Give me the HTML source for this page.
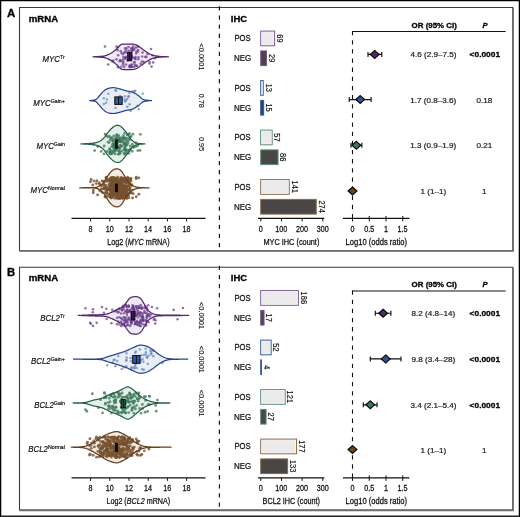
<!DOCTYPE html>
<html><head><meta charset="utf-8"><title>Figure</title>
<style>html,body{margin:0;padding:0;background:#fff;width:520px;height:517px;overflow:hidden}svg{display:block;will-change:transform}</style>
</head><body>
<svg width="520" height="517" viewBox="0 0 520 517" font-family='"Liberation Sans", sans-serif'><rect x="0.6" y="0.6" width="518.8" height="515.6" fill="none" stroke="#000" stroke-width="1.3"/>
<path d="M19.5 7.5 H512.8 V250.6 H19.5 Z" fill="none" stroke="#3a3a3a" stroke-width="1.1"/>
<path d="M513 8 V250.9 H19.5" fill="none" stroke="#6e6e6e" stroke-width="1.7"/>
<path d="M19.5 267.2 H512.8 V510 H19.5 Z" fill="none" stroke="#3a3a3a" stroke-width="1.1"/>
<path d="M513 267.7 V510.3 H19.5" fill="none" stroke="#6e6e6e" stroke-width="1.7"/>
<text transform="translate(7.11,16.5) scale(1.0641,1)" font-size="10.8" font-weight="bold" stroke="#000" stroke-width="0.3" fill="#000">A</text>
<text transform="translate(28.77,21.7) scale(1.0485,1)" font-size="9.2" font-weight="bold" stroke="#000" stroke-width="0.3" fill="#000">mRNA</text>
<text transform="translate(230.78,21.7) scale(1.0010,1)" font-size="9.5" font-weight="bold" stroke="#000" stroke-width="0.3" fill="#000">IHC</text>
<text transform="translate(411.58,27.8) scale(1.0438,1)" font-size="7.6" font-weight="bold" stroke="#000" stroke-width="0.3" fill="#000">OR (95% CI)</text>
<text transform="translate(482.38,27.8) scale(1.0000,1)" font-size="7.6" font-weight="bold" font-style="italic" stroke="#000" stroke-width="0.3" fill="#000">P</text>
<line x1="219.4" y1="6.3" x2="219.4" y2="250" stroke="#1a1a1a" stroke-width="1.2" stroke-dasharray="4.3 4.8"/>
<path d="M93 56.8 L93.5 56.77 L94 56.75 L94.5 56.72 L95 56.7 L95.5 56.68 L96 56.65 L96.5 56.63 L97 56.6 L97.5 56.58 L98 56.55 L98.5 56.51 L99 56.48 L99.5 56.44 L100 56.4 L100.5 56.36 L101 56.33 L101.5 56.3 L102 56.26 L102.5 56.22 L103 56.18 L103.5 56.11 L104 56.03 L104.5 55.93 L105 55.8 L105.5 55.65 L106 55.49 L106.5 55.32 L107 55.13 L107.5 54.93 L108 54.72 L108.5 54.5 L109 54.27 L109.5 54.02 L110 53.76 L110.5 53.49 L111 53.21 L111.5 52.91 L112 52.6 L112.53 52.25 L113.06 51.87 L113.59 51.47 L114.12 51.04 L114.65 50.61 L115.18 50.15 L115.71 49.69 L116.24 49.23 L116.77 48.76 L117.3 48.3 L117.83 47.8 L118.35 47.23 L118.88 46.63 L119.4 46.03 L119.92 45.48 L120.45 45 L120.97 44.62 L121.5 44.4 L122 44.28 L122.5 44.19 L123 44.12 L123.5 44.07 L124 44.04 L124.5 44.01 L125 44 L125.5 44 L126 44 L126.5 44 L127 44 L127.5 44 L128 44 L128.5 44 L129 44.01 L129.5 44.01 L130 44.02 L130.5 44.03 L131 44.04 L131.5 44.05 L132 44.06 L132.5 44.08 L133 44.1 L133.5 44.15 L134 44.24 L134.5 44.37 L135 44.53 L135.5 44.72 L136 44.93 L136.5 45.16 L137 45.4 L137.5 45.66 L138 45.95 L138.5 46.27 L139 46.6 L139.5 46.94 L140 47.3 L140.5 47.65 L141 48 L141.52 48.37 L142.04 48.75 L142.56 49.14 L143.08 49.54 L143.6 49.93 L144.12 50.33 L144.64 50.72 L145.16 51.1 L145.68 51.46 L146.2 51.8 L146.72 52.13 L147.24 52.45 L147.75 52.77 L148.27 53.09 L148.79 53.39 L149.31 53.68 L149.83 53.96 L150.35 54.22 L150.86 54.47 L151.38 54.7 L151.9 54.9 L152.43 55.09 L152.96 55.26 L153.49 55.41 L154.02 55.54 L154.55 55.66 L155.08 55.76 L155.62 55.86 L156.15 55.94 L156.68 56.02 L157.21 56.1 L157.74 56.17 L158.27 56.23 L158.8 56.3 L159.31 56.36 L159.82 56.41 L160.33 56.46 L160.84 56.5 L161.35 56.54 L161.86 56.57 L162.37 56.59 L162.88 56.61 L163.39 56.63 L163.91 56.65 L164.42 56.66 L164.93 56.68 L165.44 56.69 L165.95 56.71 L166.46 56.72 L166.97 56.74 L167.48 56.75 L167.99 56.78 L168.5 56.8 L168.5 56.8 L167.99 56.82 L167.48 56.85 L166.97 56.86 L166.46 56.88 L165.95 56.89 L165.44 56.91 L164.93 56.92 L164.42 56.94 L163.91 56.95 L163.39 56.97 L162.88 56.99 L162.37 57.01 L161.86 57.03 L161.35 57.06 L160.84 57.1 L160.33 57.14 L159.82 57.19 L159.31 57.24 L158.8 57.3 L158.27 57.37 L157.74 57.43 L157.21 57.5 L156.68 57.58 L156.15 57.66 L155.62 57.74 L155.08 57.84 L154.55 57.94 L154.02 58.06 L153.49 58.19 L152.96 58.34 L152.43 58.51 L151.9 58.7 L151.38 58.9 L150.86 59.13 L150.35 59.38 L149.83 59.64 L149.31 59.92 L148.79 60.21 L148.27 60.51 L147.75 60.83 L147.24 61.15 L146.72 61.47 L146.2 61.8 L145.68 62.14 L145.16 62.5 L144.64 62.88 L144.12 63.27 L143.6 63.67 L143.08 64.06 L142.56 64.46 L142.04 64.85 L141.52 65.23 L141 65.6 L140.5 65.95 L140 66.3 L139.5 66.66 L139 67 L138.5 67.33 L138 67.65 L137.5 67.94 L137 68.2 L136.5 68.44 L136 68.67 L135.5 68.88 L135 69.07 L134.5 69.23 L134 69.36 L133.5 69.45 L133 69.5 L132.5 69.52 L132 69.54 L131.5 69.55 L131 69.56 L130.5 69.57 L130 69.58 L129.5 69.59 L129 69.59 L128.5 69.6 L128 69.6 L127.5 69.6 L127 69.6 L126.5 69.6 L126 69.6 L125.5 69.6 L125 69.6 L124.5 69.59 L124 69.56 L123.5 69.53 L123 69.48 L122.5 69.41 L122 69.32 L121.5 69.2 L120.97 68.98 L120.45 68.6 L119.92 68.12 L119.4 67.57 L118.88 66.97 L118.35 66.37 L117.83 65.8 L117.3 65.3 L116.77 64.84 L116.24 64.37 L115.71 63.91 L115.18 63.45 L114.65 62.99 L114.12 62.56 L113.59 62.13 L113.06 61.73 L112.53 61.35 L112 61 L111.5 60.69 L111 60.39 L110.5 60.11 L110 59.84 L109.5 59.58 L109 59.33 L108.5 59.1 L108 58.88 L107.5 58.67 L107 58.47 L106.5 58.28 L106 58.11 L105.5 57.95 L105 57.8 L104.5 57.67 L104 57.57 L103.5 57.49 L103 57.42 L102.5 57.38 L102 57.34 L101.5 57.3 L101 57.27 L100.5 57.24 L100 57.2 L99.5 57.16 L99 57.12 L98.5 57.09 L98 57.05 L97.5 57.02 L97 57 L96.5 56.97 L96 56.95 L95.5 56.92 L95 56.9 L94.5 56.88 L94 56.85 L93.5 56.83 L93 56.8 Z" fill="#efe9f3" stroke="none"/>
<g fill="#693a8c" fill-opacity="0.72"><circle cx="153.15" cy="62.39" r="1.3"/><circle cx="120.08" cy="60.01" r="1.3"/><circle cx="131.31" cy="48.19" r="1.3"/><circle cx="152.47" cy="55.37" r="1.3"/><circle cx="141.86" cy="61.5" r="1.3"/><circle cx="131.14" cy="66.24" r="1.3"/><circle cx="133.23" cy="57.68" r="1.3"/><circle cx="131.43" cy="54.28" r="1.3"/><circle cx="128.86" cy="50.9" r="1.3"/><circle cx="132.14" cy="56.71" r="1.3"/><circle cx="131.84" cy="55.94" r="1.3"/><circle cx="137.98" cy="46.66" r="1.3"/><circle cx="117.55" cy="50.14" r="1.3"/><circle cx="126.02" cy="64.43" r="1.3"/><circle cx="123.3" cy="61.5" r="1.3"/><circle cx="140.65" cy="63.8" r="1.3"/><circle cx="126.93" cy="52.63" r="1.3"/><circle cx="145.31" cy="56.91" r="1.3"/><circle cx="117.98" cy="46.93" r="1.3"/><circle cx="134.04" cy="49.87" r="1.3"/><circle cx="121.11" cy="61.1" r="1.3"/><circle cx="123.41" cy="56.98" r="1.3"/><circle cx="138.62" cy="57.24" r="1.3"/><circle cx="128.55" cy="47.12" r="1.3"/><circle cx="131.16" cy="67.04" r="1.3"/><circle cx="126.2" cy="56.85" r="1.3"/><circle cx="134.79" cy="62.54" r="1.3"/><circle cx="135.64" cy="57.09" r="1.3"/><circle cx="125.41" cy="58.45" r="1.3"/><circle cx="129.48" cy="66.49" r="1.3"/><circle cx="149.45" cy="63.59" r="1.3"/><circle cx="143.51" cy="61.9" r="1.3"/><circle cx="118.25" cy="55.23" r="1.3"/><circle cx="154.46" cy="58.28" r="1.3"/><circle cx="129.5" cy="56.9" r="1.3"/><circle cx="125.27" cy="57.62" r="1.3"/><circle cx="138.22" cy="59.18" r="1.3"/><circle cx="138.11" cy="49.96" r="1.3"/><circle cx="132.26" cy="64.45" r="1.3"/><circle cx="136.37" cy="51.61" r="1.3"/><circle cx="113.39" cy="60.47" r="1.3"/><circle cx="104.97" cy="46.51" r="1.3"/><circle cx="131.01" cy="59.45" r="1.3"/><circle cx="135.82" cy="47.67" r="1.3"/><circle cx="125.02" cy="51.99" r="1.3"/><circle cx="129.96" cy="55.84" r="1.3"/><circle cx="128.84" cy="54.4" r="1.3"/><circle cx="131.36" cy="50.19" r="1.3"/><circle cx="156.19" cy="57.01" r="1.3"/><circle cx="116.48" cy="46.64" r="1.3"/><circle cx="112.49" cy="61.44" r="1.3"/><circle cx="119.64" cy="61.14" r="1.3"/><circle cx="124.22" cy="66.88" r="1.3"/><circle cx="129.04" cy="57.15" r="1.3"/><circle cx="125.03" cy="58.41" r="1.3"/><circle cx="122.95" cy="59.58" r="1.3"/><circle cx="121.32" cy="66.72" r="1.3"/><circle cx="124.14" cy="52.78" r="1.3"/><circle cx="149.55" cy="61.97" r="1.3"/><circle cx="130.98" cy="64.83" r="1.3"/><circle cx="151.53" cy="66.6" r="1.3"/><circle cx="132.3" cy="49.84" r="1.3"/><circle cx="146.39" cy="56.99" r="1.3"/><circle cx="128.44" cy="53.55" r="1.3"/><circle cx="126.11" cy="50.32" r="1.3"/><circle cx="142.63" cy="52.48" r="1.3"/><circle cx="121.54" cy="53.1" r="1.3"/><circle cx="132.54" cy="50.46" r="1.3"/><circle cx="129.87" cy="67.13" r="1.3"/><circle cx="127.32" cy="60.5" r="1.3"/><circle cx="136.87" cy="65.96" r="1.3"/><circle cx="142.27" cy="56.47" r="1.3"/><circle cx="120.73" cy="51.17" r="1.3"/><circle cx="136.26" cy="65.51" r="1.3"/><circle cx="134.09" cy="62.29" r="1.3"/><circle cx="136.19" cy="53.41" r="1.3"/><circle cx="122.95" cy="64.59" r="1.3"/><circle cx="151.04" cy="49.07" r="1.3"/><circle cx="125.08" cy="48.41" r="1.3"/><circle cx="108.25" cy="64.56" r="1.3"/><circle cx="135.32" cy="59.24" r="1.3"/><circle cx="122.96" cy="54.21" r="1.3"/><circle cx="131.68" cy="51.85" r="1.3"/><circle cx="135.07" cy="58.17" r="1.3"/><circle cx="123.22" cy="62.88" r="1.3"/><circle cx="133.11" cy="46.46" r="1.3"/><circle cx="135.15" cy="64.96" r="1.3"/><circle cx="117.9" cy="67.15" r="1.3"/><circle cx="133.69" cy="48.65" r="1.3"/><circle cx="131.89" cy="48.38" r="1.3"/><circle cx="147.48" cy="54.22" r="1.3"/><circle cx="138.02" cy="51.57" r="1.3"/><circle cx="126.49" cy="48.32" r="1.3"/><circle cx="132.41" cy="67.03" r="1.3"/><circle cx="131.36" cy="58.85" r="1.3"/><circle cx="129.6" cy="65.56" r="1.3"/><circle cx="134.33" cy="66.76" r="1.3"/><circle cx="116.48" cy="59.3" r="1.3"/></g>
<path d="M93 56.8 L93.5 56.77 L94 56.75 L94.5 56.72 L95 56.7 L95.5 56.68 L96 56.65 L96.5 56.63 L97 56.6 L97.5 56.58 L98 56.55 L98.5 56.51 L99 56.48 L99.5 56.44 L100 56.4 L100.5 56.36 L101 56.33 L101.5 56.3 L102 56.26 L102.5 56.22 L103 56.18 L103.5 56.11 L104 56.03 L104.5 55.93 L105 55.8 L105.5 55.65 L106 55.49 L106.5 55.32 L107 55.13 L107.5 54.93 L108 54.72 L108.5 54.5 L109 54.27 L109.5 54.02 L110 53.76 L110.5 53.49 L111 53.21 L111.5 52.91 L112 52.6 L112.53 52.25 L113.06 51.87 L113.59 51.47 L114.12 51.04 L114.65 50.61 L115.18 50.15 L115.71 49.69 L116.24 49.23 L116.77 48.76 L117.3 48.3 L117.83 47.8 L118.35 47.23 L118.88 46.63 L119.4 46.03 L119.92 45.48 L120.45 45 L120.97 44.62 L121.5 44.4 L122 44.28 L122.5 44.19 L123 44.12 L123.5 44.07 L124 44.04 L124.5 44.01 L125 44 L125.5 44 L126 44 L126.5 44 L127 44 L127.5 44 L128 44 L128.5 44 L129 44.01 L129.5 44.01 L130 44.02 L130.5 44.03 L131 44.04 L131.5 44.05 L132 44.06 L132.5 44.08 L133 44.1 L133.5 44.15 L134 44.24 L134.5 44.37 L135 44.53 L135.5 44.72 L136 44.93 L136.5 45.16 L137 45.4 L137.5 45.66 L138 45.95 L138.5 46.27 L139 46.6 L139.5 46.94 L140 47.3 L140.5 47.65 L141 48 L141.52 48.37 L142.04 48.75 L142.56 49.14 L143.08 49.54 L143.6 49.93 L144.12 50.33 L144.64 50.72 L145.16 51.1 L145.68 51.46 L146.2 51.8 L146.72 52.13 L147.24 52.45 L147.75 52.77 L148.27 53.09 L148.79 53.39 L149.31 53.68 L149.83 53.96 L150.35 54.22 L150.86 54.47 L151.38 54.7 L151.9 54.9 L152.43 55.09 L152.96 55.26 L153.49 55.41 L154.02 55.54 L154.55 55.66 L155.08 55.76 L155.62 55.86 L156.15 55.94 L156.68 56.02 L157.21 56.1 L157.74 56.17 L158.27 56.23 L158.8 56.3 L159.31 56.36 L159.82 56.41 L160.33 56.46 L160.84 56.5 L161.35 56.54 L161.86 56.57 L162.37 56.59 L162.88 56.61 L163.39 56.63 L163.91 56.65 L164.42 56.66 L164.93 56.68 L165.44 56.69 L165.95 56.71 L166.46 56.72 L166.97 56.74 L167.48 56.75 L167.99 56.78 L168.5 56.8 L168.5 56.8 L167.99 56.82 L167.48 56.85 L166.97 56.86 L166.46 56.88 L165.95 56.89 L165.44 56.91 L164.93 56.92 L164.42 56.94 L163.91 56.95 L163.39 56.97 L162.88 56.99 L162.37 57.01 L161.86 57.03 L161.35 57.06 L160.84 57.1 L160.33 57.14 L159.82 57.19 L159.31 57.24 L158.8 57.3 L158.27 57.37 L157.74 57.43 L157.21 57.5 L156.68 57.58 L156.15 57.66 L155.62 57.74 L155.08 57.84 L154.55 57.94 L154.02 58.06 L153.49 58.19 L152.96 58.34 L152.43 58.51 L151.9 58.7 L151.38 58.9 L150.86 59.13 L150.35 59.38 L149.83 59.64 L149.31 59.92 L148.79 60.21 L148.27 60.51 L147.75 60.83 L147.24 61.15 L146.72 61.47 L146.2 61.8 L145.68 62.14 L145.16 62.5 L144.64 62.88 L144.12 63.27 L143.6 63.67 L143.08 64.06 L142.56 64.46 L142.04 64.85 L141.52 65.23 L141 65.6 L140.5 65.95 L140 66.3 L139.5 66.66 L139 67 L138.5 67.33 L138 67.65 L137.5 67.94 L137 68.2 L136.5 68.44 L136 68.67 L135.5 68.88 L135 69.07 L134.5 69.23 L134 69.36 L133.5 69.45 L133 69.5 L132.5 69.52 L132 69.54 L131.5 69.55 L131 69.56 L130.5 69.57 L130 69.58 L129.5 69.59 L129 69.59 L128.5 69.6 L128 69.6 L127.5 69.6 L127 69.6 L126.5 69.6 L126 69.6 L125.5 69.6 L125 69.6 L124.5 69.59 L124 69.56 L123.5 69.53 L123 69.48 L122.5 69.41 L122 69.32 L121.5 69.2 L120.97 68.98 L120.45 68.6 L119.92 68.12 L119.4 67.57 L118.88 66.97 L118.35 66.37 L117.83 65.8 L117.3 65.3 L116.77 64.84 L116.24 64.37 L115.71 63.91 L115.18 63.45 L114.65 62.99 L114.12 62.56 L113.59 62.13 L113.06 61.73 L112.53 61.35 L112 61 L111.5 60.69 L111 60.39 L110.5 60.11 L110 59.84 L109.5 59.58 L109 59.33 L108.5 59.1 L108 58.88 L107.5 58.67 L107 58.47 L106.5 58.28 L106 58.11 L105.5 57.95 L105 57.8 L104.5 57.67 L104 57.57 L103.5 57.49 L103 57.42 L102.5 57.38 L102 57.34 L101.5 57.3 L101 57.27 L100.5 57.24 L100 57.2 L99.5 57.16 L99 57.12 L98.5 57.09 L98 57.05 L97.5 57.02 L97 57 L96.5 56.97 L96 56.95 L95.5 56.92 L95 56.9 L94.5 56.88 L94 56.85 L93.5 56.83 L93 56.8 Z" fill="none" stroke="#55276f" stroke-width="1.25" stroke-linejoin="round"/>
<rect x="127.7" y="52.5" width="4" height="8.3" fill="#4a2463" stroke="#0d0d0d" stroke-width="1"/>
<line x1="129.7" y1="52.5" x2="129.7" y2="60.8" stroke="#0d0d0d" stroke-width="1"/>
<text transform="translate(42.51,61.9) scale(0.91,1)" font-size="8.6" fill="#111" stroke="#111" stroke-width="0.2"><tspan font-style="italic">MYC</tspan><tspan font-size="5.8" dy="-2.9">Tr</tspan></text>
<text transform="translate(198.8,43.43) rotate(90) scale(0.9548,1)" font-size="7.8" stroke="#111" stroke-width="0.12" fill="#111">&lt;0.0001</text>
<path d="M89.7 100.6 L90.28 100.52 L90.85 100.45 L91.42 100.37 L92 100.3 L92.51 100.25 L93.03 100.22 L93.54 100.18 L94.06 100.13 L94.57 100.05 L95.09 99.91 L95.6 99.7 L96.14 99.37 L96.69 98.92 L97.23 98.38 L97.77 97.78 L98.31 97.15 L98.86 96.51 L99.4 95.9 L99.93 95.28 L100.47 94.62 L101 93.95 L101.53 93.28 L102.07 92.66 L102.6 92.1 L103.15 91.59 L103.7 91.1 L104.25 90.65 L104.8 90.22 L105.35 89.84 L105.9 89.49 L106.45 89.17 L107 88.9 L107.53 88.67 L108.07 88.47 L108.6 88.3 L109.13 88.16 L109.67 88.03 L110.2 87.93 L110.73 87.85 L111.27 87.79 L111.8 87.75 L112.33 87.72 L112.87 87.7 L113.4 87.7 L113.93 87.71 L114.45 87.75 L114.98 87.82 L115.5 87.9 L116.03 88 L116.55 88.11 L117.08 88.23 L117.6 88.36 L118.12 88.5 L118.65 88.63 L119.17 88.77 L119.7 88.9 L120.23 89.04 L120.77 89.18 L121.3 89.34 L121.83 89.5 L122.37 89.67 L122.9 89.84 L123.43 90.01 L123.97 90.18 L124.5 90.35 L125.03 90.51 L125.57 90.66 L126.1 90.8 L126.62 90.92 L127.15 91.02 L127.67 91.11 L128.2 91.19 L128.72 91.26 L129.25 91.33 L129.78 91.41 L130.3 91.51 L130.82 91.62 L131.35 91.75 L131.88 91.91 L132.4 92.1 L132.93 92.32 L133.47 92.57 L134 92.84 L134.53 93.12 L135.07 93.43 L135.6 93.75 L136.13 94.08 L136.67 94.42 L137.2 94.78 L137.73 95.15 L138.27 95.52 L138.8 95.9 L139.34 96.33 L139.89 96.81 L140.43 97.33 L140.97 97.84 L141.51 98.32 L142.06 98.75 L142.6 99.1 L143.1 99.35 L143.6 99.55 L144.1 99.71 L144.6 99.84 L145.1 99.94 L145.6 100.02 L146.1 100.1 L146.6 100.16 L147.1 100.23 L147.6 100.3 L148.1 100.37 L148.6 100.42 L149.1 100.46 L149.6 100.49 L150.1 100.52 L150.6 100.54 L151.1 100.57 L151.6 100.6 L151.6 100.6 L151.1 100.63 L150.6 100.66 L150.1 100.68 L149.6 100.71 L149.1 100.74 L148.6 100.78 L148.1 100.83 L147.6 100.9 L147.1 100.97 L146.6 101.04 L146.1 101.1 L145.6 101.18 L145.1 101.26 L144.6 101.36 L144.1 101.49 L143.6 101.65 L143.1 101.85 L142.6 102.1 L142.06 102.45 L141.51 102.88 L140.97 103.36 L140.43 103.87 L139.89 104.39 L139.34 104.87 L138.8 105.3 L138.27 105.68 L137.73 106.05 L137.2 106.42 L136.67 106.78 L136.13 107.12 L135.6 107.45 L135.07 107.77 L134.53 108.08 L134 108.36 L133.47 108.63 L132.93 108.88 L132.4 109.1 L131.88 109.29 L131.35 109.45 L130.82 109.58 L130.3 109.69 L129.78 109.79 L129.25 109.87 L128.72 109.94 L128.2 110.01 L127.67 110.09 L127.15 110.18 L126.62 110.28 L126.1 110.4 L125.57 110.54 L125.03 110.69 L124.5 110.85 L123.97 111.02 L123.43 111.19 L122.9 111.36 L122.37 111.53 L121.83 111.7 L121.3 111.86 L120.77 112.02 L120.23 112.16 L119.7 112.3 L119.17 112.43 L118.65 112.57 L118.12 112.7 L117.6 112.84 L117.08 112.97 L116.55 113.09 L116.03 113.2 L115.5 113.3 L114.98 113.38 L114.45 113.45 L113.93 113.49 L113.4 113.5 L112.87 113.5 L112.33 113.48 L111.8 113.45 L111.27 113.41 L110.73 113.35 L110.2 113.27 L109.67 113.17 L109.13 113.04 L108.6 112.9 L108.07 112.73 L107.53 112.53 L107 112.3 L106.45 112.03 L105.9 111.71 L105.35 111.36 L104.8 110.97 L104.25 110.55 L103.7 110.1 L103.15 109.61 L102.6 109.1 L102.07 108.54 L101.53 107.92 L101 107.25 L100.47 106.58 L99.93 105.92 L99.4 105.3 L98.86 104.69 L98.31 104.05 L97.77 103.42 L97.23 102.82 L96.69 102.28 L96.14 101.83 L95.6 101.5 L95.09 101.29 L94.57 101.15 L94.06 101.07 L93.54 101.02 L93.03 100.98 L92.51 100.95 L92 100.9 L91.42 100.83 L90.85 100.75 L90.28 100.68 L89.7 100.6 Z" fill="#e9eef6" stroke="none"/>
<g fill="#5a7fb8" fill-opacity="0.68"><circle cx="103.81" cy="104.03" r="1.25"/><circle cx="115.53" cy="101.48" r="1.25"/><circle cx="120.1" cy="95.95" r="1.25"/><circle cx="124.53" cy="99.5" r="1.25"/><circle cx="103.77" cy="98.28" r="1.25"/><circle cx="115.52" cy="107.96" r="1.25"/><circle cx="128.49" cy="96.42" r="1.25"/><circle cx="106.09" cy="102.63" r="1.25"/><circle cx="116.03" cy="90.43" r="1.25"/><circle cx="132.51" cy="91.5" r="1.25"/><circle cx="128.59" cy="96.17" r="1.25"/><circle cx="126.11" cy="100.46" r="1.25"/><circle cx="127.35" cy="106.85" r="1.25"/><circle cx="142.72" cy="93.67" r="1.25"/><circle cx="130.7" cy="110.88" r="1.25"/><circle cx="117.78" cy="100.9" r="1.25"/><circle cx="124.74" cy="96.22" r="1.25"/><circle cx="135.21" cy="90.67" r="1.25"/><circle cx="138.78" cy="109.15" r="1.25"/><circle cx="137.6" cy="105.82" r="1.25"/><circle cx="108.39" cy="93.78" r="1.25"/><circle cx="129.53" cy="104.16" r="1.25"/><circle cx="134.59" cy="91.37" r="1.25"/><circle cx="124.97" cy="101.48" r="1.25"/><circle cx="107.03" cy="99.61" r="1.25"/><circle cx="115.51" cy="90.52" r="1.25"/><circle cx="127.21" cy="98.83" r="1.25"/><circle cx="129.52" cy="92.93" r="1.25"/></g>
<path d="M89.7 100.6 L90.28 100.52 L90.85 100.45 L91.42 100.37 L92 100.3 L92.51 100.25 L93.03 100.22 L93.54 100.18 L94.06 100.13 L94.57 100.05 L95.09 99.91 L95.6 99.7 L96.14 99.37 L96.69 98.92 L97.23 98.38 L97.77 97.78 L98.31 97.15 L98.86 96.51 L99.4 95.9 L99.93 95.28 L100.47 94.62 L101 93.95 L101.53 93.28 L102.07 92.66 L102.6 92.1 L103.15 91.59 L103.7 91.1 L104.25 90.65 L104.8 90.22 L105.35 89.84 L105.9 89.49 L106.45 89.17 L107 88.9 L107.53 88.67 L108.07 88.47 L108.6 88.3 L109.13 88.16 L109.67 88.03 L110.2 87.93 L110.73 87.85 L111.27 87.79 L111.8 87.75 L112.33 87.72 L112.87 87.7 L113.4 87.7 L113.93 87.71 L114.45 87.75 L114.98 87.82 L115.5 87.9 L116.03 88 L116.55 88.11 L117.08 88.23 L117.6 88.36 L118.12 88.5 L118.65 88.63 L119.17 88.77 L119.7 88.9 L120.23 89.04 L120.77 89.18 L121.3 89.34 L121.83 89.5 L122.37 89.67 L122.9 89.84 L123.43 90.01 L123.97 90.18 L124.5 90.35 L125.03 90.51 L125.57 90.66 L126.1 90.8 L126.62 90.92 L127.15 91.02 L127.67 91.11 L128.2 91.19 L128.72 91.26 L129.25 91.33 L129.78 91.41 L130.3 91.51 L130.82 91.62 L131.35 91.75 L131.88 91.91 L132.4 92.1 L132.93 92.32 L133.47 92.57 L134 92.84 L134.53 93.12 L135.07 93.43 L135.6 93.75 L136.13 94.08 L136.67 94.42 L137.2 94.78 L137.73 95.15 L138.27 95.52 L138.8 95.9 L139.34 96.33 L139.89 96.81 L140.43 97.33 L140.97 97.84 L141.51 98.32 L142.06 98.75 L142.6 99.1 L143.1 99.35 L143.6 99.55 L144.1 99.71 L144.6 99.84 L145.1 99.94 L145.6 100.02 L146.1 100.1 L146.6 100.16 L147.1 100.23 L147.6 100.3 L148.1 100.37 L148.6 100.42 L149.1 100.46 L149.6 100.49 L150.1 100.52 L150.6 100.54 L151.1 100.57 L151.6 100.6 L151.6 100.6 L151.1 100.63 L150.6 100.66 L150.1 100.68 L149.6 100.71 L149.1 100.74 L148.6 100.78 L148.1 100.83 L147.6 100.9 L147.1 100.97 L146.6 101.04 L146.1 101.1 L145.6 101.18 L145.1 101.26 L144.6 101.36 L144.1 101.49 L143.6 101.65 L143.1 101.85 L142.6 102.1 L142.06 102.45 L141.51 102.88 L140.97 103.36 L140.43 103.87 L139.89 104.39 L139.34 104.87 L138.8 105.3 L138.27 105.68 L137.73 106.05 L137.2 106.42 L136.67 106.78 L136.13 107.12 L135.6 107.45 L135.07 107.77 L134.53 108.08 L134 108.36 L133.47 108.63 L132.93 108.88 L132.4 109.1 L131.88 109.29 L131.35 109.45 L130.82 109.58 L130.3 109.69 L129.78 109.79 L129.25 109.87 L128.72 109.94 L128.2 110.01 L127.67 110.09 L127.15 110.18 L126.62 110.28 L126.1 110.4 L125.57 110.54 L125.03 110.69 L124.5 110.85 L123.97 111.02 L123.43 111.19 L122.9 111.36 L122.37 111.53 L121.83 111.7 L121.3 111.86 L120.77 112.02 L120.23 112.16 L119.7 112.3 L119.17 112.43 L118.65 112.57 L118.12 112.7 L117.6 112.84 L117.08 112.97 L116.55 113.09 L116.03 113.2 L115.5 113.3 L114.98 113.38 L114.45 113.45 L113.93 113.49 L113.4 113.5 L112.87 113.5 L112.33 113.48 L111.8 113.45 L111.27 113.41 L110.73 113.35 L110.2 113.27 L109.67 113.17 L109.13 113.04 L108.6 112.9 L108.07 112.73 L107.53 112.53 L107 112.3 L106.45 112.03 L105.9 111.71 L105.35 111.36 L104.8 110.97 L104.25 110.55 L103.7 110.1 L103.15 109.61 L102.6 109.1 L102.07 108.54 L101.53 107.92 L101 107.25 L100.47 106.58 L99.93 105.92 L99.4 105.3 L98.86 104.69 L98.31 104.05 L97.77 103.42 L97.23 102.82 L96.69 102.28 L96.14 101.83 L95.6 101.5 L95.09 101.29 L94.57 101.15 L94.06 101.07 L93.54 101.02 L93.03 100.98 L92.51 100.95 L92 100.9 L91.42 100.83 L90.85 100.75 L90.28 100.68 L89.7 100.6 Z" fill="none" stroke="#25468a" stroke-width="1.25" stroke-linejoin="round"/>
<rect x="114.8" y="96.9" width="7.4" height="7.5" fill="#2f5ca6" stroke="#0d0d0d" stroke-width="1"/>
<line x1="118.5" y1="96.9" x2="118.5" y2="104.4" stroke="#0d0d0d" stroke-width="1"/>
<text transform="translate(33.25,105.7) scale(0.91,1)" font-size="8.6" fill="#111" stroke="#111" stroke-width="0.2"><tspan font-style="italic">MYC</tspan><tspan font-size="5.8" dy="-2.9">Gain+</tspan></text>
<text transform="translate(198.8,93.71) rotate(90) scale(0.9349,1)" font-size="7.8" stroke="#111" stroke-width="0.12" fill="#111">0.78</text>
<path d="M81 143.9 L81.51 143.88 L82.03 143.85 L82.54 143.83 L83.05 143.81 L83.56 143.79 L84.07 143.76 L84.59 143.73 L85.1 143.7 L85.6 143.67 L86.11 143.64 L86.61 143.61 L87.12 143.59 L87.62 143.57 L88.13 143.55 L88.63 143.53 L89.14 143.51 L89.64 143.48 L90.15 143.45 L90.66 143.42 L91.16 143.39 L91.67 143.34 L92.17 143.29 L92.67 143.24 L93.18 143.17 L93.69 143.09 L94.19 143.01 L94.7 142.91 L95.2 142.8 L95.71 142.68 L96.22 142.55 L96.73 142.41 L97.24 142.26 L97.75 142.09 L98.26 141.9 L98.77 141.69 L99.28 141.46 L99.79 141.19 L100.3 140.9 L100.84 140.55 L101.39 140.17 L101.93 139.76 L102.47 139.31 L103.01 138.81 L103.56 138.28 L104.1 137.7 L104.63 137.06 L105.17 136.34 L105.7 135.57 L106.23 134.79 L106.77 134.02 L107.3 133.3 L107.83 132.62 L108.37 131.95 L108.9 131.29 L109.43 130.66 L109.97 130.06 L110.5 129.5 L111.04 128.96 L111.59 128.43 L112.13 127.93 L112.67 127.46 L113.21 127.03 L113.76 126.64 L114.3 126.3 L114.82 126.02 L115.33 125.77 L115.85 125.57 L116.37 125.43 L116.88 125.33 L117.4 125.3 L117.93 125.33 L118.47 125.4 L119 125.54 L119.53 125.73 L120.07 125.98 L120.6 126.3 L121.14 126.69 L121.69 127.16 L122.23 127.68 L122.77 128.24 L123.31 128.84 L123.86 129.47 L124.4 130.1 L124.94 130.76 L125.49 131.46 L126.03 132.19 L126.57 132.95 L127.11 133.7 L127.66 134.46 L128.2 135.2 L128.74 135.95 L129.29 136.73 L129.83 137.52 L130.37 138.3 L130.91 139.03 L131.46 139.71 L132 140.3 L132.54 140.81 L133.09 141.26 L133.63 141.66 L134.17 142 L134.71 142.3 L135.26 142.57 L135.8 142.8 L136.33 142.99 L136.87 143.15 L137.4 143.27 L137.93 143.36 L138.47 143.43 L139 143.48 L139.53 143.52 L140.07 143.55 L140.6 143.58 L141.13 143.61 L141.67 143.65 L142.2 143.7 L142.74 143.75 L143.28 143.79 L143.82 143.83 L144.36 143.86 L144.9 143.9 L144.9 143.9 L144.36 143.94 L143.82 143.97 L143.28 144.01 L142.74 144.05 L142.2 144.1 L141.67 144.15 L141.13 144.19 L140.6 144.22 L140.07 144.25 L139.53 144.28 L139 144.32 L138.47 144.37 L137.93 144.44 L137.4 144.53 L136.87 144.65 L136.33 144.81 L135.8 145 L135.26 145.23 L134.71 145.5 L134.17 145.8 L133.63 146.14 L133.09 146.54 L132.54 146.99 L132 147.5 L131.46 148.09 L130.91 148.77 L130.37 149.5 L129.83 150.28 L129.29 151.07 L128.74 151.85 L128.2 152.6 L127.66 153.34 L127.11 154.1 L126.57 154.85 L126.03 155.61 L125.49 156.34 L124.94 157.04 L124.4 157.7 L123.86 158.33 L123.31 158.96 L122.77 159.56 L122.23 160.12 L121.69 160.64 L121.14 161.11 L120.6 161.5 L120.07 161.82 L119.53 162.07 L119 162.26 L118.47 162.4 L117.93 162.47 L117.4 162.5 L116.88 162.47 L116.37 162.37 L115.85 162.23 L115.33 162.03 L114.82 161.78 L114.3 161.5 L113.76 161.16 L113.21 160.77 L112.67 160.34 L112.13 159.87 L111.59 159.37 L111.04 158.84 L110.5 158.3 L109.97 157.74 L109.43 157.14 L108.9 156.51 L108.37 155.85 L107.83 155.18 L107.3 154.5 L106.77 153.78 L106.23 153.01 L105.7 152.23 L105.17 151.46 L104.63 150.74 L104.1 150.1 L103.56 149.52 L103.01 148.99 L102.47 148.49 L101.93 148.04 L101.39 147.63 L100.84 147.25 L100.3 146.9 L99.79 146.61 L99.28 146.34 L98.77 146.11 L98.26 145.9 L97.75 145.71 L97.24 145.54 L96.73 145.39 L96.22 145.25 L95.71 145.12 L95.2 145 L94.7 144.89 L94.19 144.79 L93.69 144.71 L93.18 144.63 L92.67 144.56 L92.17 144.51 L91.67 144.46 L91.16 144.41 L90.66 144.38 L90.15 144.35 L89.64 144.32 L89.14 144.29 L88.63 144.27 L88.13 144.25 L87.62 144.23 L87.12 144.21 L86.61 144.19 L86.11 144.16 L85.6 144.13 L85.1 144.1 L84.59 144.07 L84.07 144.04 L83.56 144.01 L83.05 143.99 L82.54 143.97 L82.03 143.95 L81.51 143.92 L81 143.9 Z" fill="#e4efe9" stroke="none"/>
<g fill="#3e7a5c" fill-opacity="0.78"><circle cx="122.68" cy="138.79" r="1.4"/><circle cx="113.92" cy="146.28" r="1.4"/><circle cx="124.55" cy="133.46" r="1.4"/><circle cx="109.15" cy="142.59" r="1.4"/><circle cx="119.94" cy="148.81" r="1.4"/><circle cx="111.44" cy="138.07" r="1.4"/><circle cx="120.27" cy="145.18" r="1.4"/><circle cx="125.23" cy="147" r="1.4"/><circle cx="93.65" cy="144.15" r="1.4"/><circle cx="117.03" cy="136.68" r="1.4"/><circle cx="124.81" cy="147.98" r="1.4"/><circle cx="115.65" cy="141.18" r="1.4"/><circle cx="119.14" cy="151.45" r="1.4"/><circle cx="109.96" cy="153.65" r="1.4"/><circle cx="122.55" cy="137.91" r="1.4"/><circle cx="125.1" cy="149.36" r="1.4"/><circle cx="124.76" cy="148.5" r="1.4"/><circle cx="115.52" cy="148.77" r="1.4"/><circle cx="140.04" cy="150.43" r="1.4"/><circle cx="119.57" cy="138.97" r="1.4"/><circle cx="123.97" cy="149.75" r="1.4"/><circle cx="118.97" cy="147.29" r="1.4"/><circle cx="103.96" cy="153.89" r="1.4"/><circle cx="125.77" cy="150.32" r="1.4"/><circle cx="123.4" cy="135.98" r="1.4"/><circle cx="125.72" cy="153.64" r="1.4"/><circle cx="113.8" cy="135.8" r="1.4"/><circle cx="115.46" cy="138.56" r="1.4"/><circle cx="124.87" cy="142.6" r="1.4"/><circle cx="122" cy="146.14" r="1.4"/><circle cx="120.12" cy="137.68" r="1.4"/><circle cx="114.22" cy="145.72" r="1.4"/><circle cx="118.42" cy="147.79" r="1.4"/><circle cx="127.29" cy="144.86" r="1.4"/><circle cx="101.14" cy="151.44" r="1.4"/><circle cx="113.34" cy="139.32" r="1.4"/><circle cx="116.84" cy="150.42" r="1.4"/><circle cx="119.84" cy="153.76" r="1.4"/><circle cx="110.59" cy="153.94" r="1.4"/><circle cx="110.22" cy="139.9" r="1.4"/><circle cx="119.98" cy="140.86" r="1.4"/><circle cx="128.11" cy="142.83" r="1.4"/><circle cx="120.04" cy="141.77" r="1.4"/><circle cx="116.45" cy="147.03" r="1.4"/><circle cx="112.02" cy="137.62" r="1.4"/><circle cx="104.16" cy="145.98" r="1.4"/><circle cx="124.29" cy="154.22" r="1.4"/><circle cx="112.12" cy="150.99" r="1.4"/><circle cx="119.25" cy="139.77" r="1.4"/><circle cx="97.79" cy="146.44" r="1.4"/><circle cx="119.6" cy="141.55" r="1.4"/><circle cx="120.49" cy="141.89" r="1.4"/><circle cx="109.47" cy="152.34" r="1.4"/><circle cx="113.83" cy="143.75" r="1.4"/><circle cx="113.1" cy="146.65" r="1.4"/><circle cx="111.63" cy="146.64" r="1.4"/><circle cx="132.09" cy="151.24" r="1.4"/><circle cx="114.96" cy="150.58" r="1.4"/><circle cx="116.56" cy="148.31" r="1.4"/><circle cx="124.77" cy="144.84" r="1.4"/><circle cx="124.3" cy="143.2" r="1.4"/><circle cx="116.02" cy="149.09" r="1.4"/><circle cx="112.51" cy="140.83" r="1.4"/><circle cx="128.85" cy="153.36" r="1.4"/><circle cx="121.1" cy="141.82" r="1.4"/><circle cx="115.94" cy="137.7" r="1.4"/><circle cx="116.85" cy="139" r="1.4"/><circle cx="132.36" cy="144.39" r="1.4"/><circle cx="107.78" cy="136.87" r="1.4"/><circle cx="119.11" cy="148.42" r="1.4"/><circle cx="118.73" cy="138.22" r="1.4"/><circle cx="130.21" cy="136.95" r="1.4"/><circle cx="124.49" cy="138.01" r="1.4"/><circle cx="115.02" cy="148.28" r="1.4"/><circle cx="135.78" cy="146.5" r="1.4"/><circle cx="123.06" cy="142.45" r="1.4"/><circle cx="121.07" cy="146.57" r="1.4"/><circle cx="115.25" cy="153.93" r="1.4"/><circle cx="130.35" cy="146.15" r="1.4"/><circle cx="113.72" cy="144.46" r="1.4"/><circle cx="127.69" cy="140.96" r="1.4"/><circle cx="129.07" cy="138.4" r="1.4"/><circle cx="118.74" cy="135.56" r="1.4"/><circle cx="113.72" cy="143.74" r="1.4"/><circle cx="120.98" cy="145.97" r="1.4"/><circle cx="122.33" cy="137.89" r="1.4"/><circle cx="125.9" cy="150.58" r="1.4"/><circle cx="114.8" cy="151.06" r="1.4"/><circle cx="115.52" cy="147.98" r="1.4"/><circle cx="112.92" cy="141.31" r="1.4"/><circle cx="125.17" cy="138.21" r="1.4"/><circle cx="110.39" cy="137.79" r="1.4"/><circle cx="122.3" cy="140.3" r="1.4"/><circle cx="140.35" cy="134.28" r="1.4"/><circle cx="106.99" cy="151.48" r="1.4"/><circle cx="112.66" cy="152.78" r="1.4"/><circle cx="126.62" cy="151.96" r="1.4"/><circle cx="129.56" cy="133.62" r="1.4"/><circle cx="133.57" cy="147.39" r="1.4"/><circle cx="109.35" cy="136.06" r="1.4"/><circle cx="128.74" cy="134.05" r="1.4"/><circle cx="132.87" cy="134.21" r="1.4"/><circle cx="106.23" cy="135.79" r="1.4"/><circle cx="130.52" cy="149.09" r="1.4"/><circle cx="121.85" cy="151.23" r="1.4"/><circle cx="111.85" cy="153.86" r="1.4"/><circle cx="126.77" cy="138.45" r="1.4"/><circle cx="137.69" cy="145.82" r="1.4"/><circle cx="112.42" cy="144.37" r="1.4"/><circle cx="108.01" cy="142.05" r="1.4"/><circle cx="114.09" cy="151.96" r="1.4"/><circle cx="113.8" cy="149.06" r="1.4"/><circle cx="109.89" cy="149.25" r="1.4"/><circle cx="124.24" cy="152.78" r="1.4"/><circle cx="119.37" cy="151.37" r="1.4"/><circle cx="94.65" cy="150.54" r="1.4"/><circle cx="105.13" cy="134.15" r="1.4"/><circle cx="135.78" cy="142.7" r="1.4"/><circle cx="110.7" cy="152.01" r="1.4"/><circle cx="116.75" cy="135.22" r="1.4"/><circle cx="127.2" cy="135.12" r="1.4"/><circle cx="109.6" cy="148.83" r="1.4"/><circle cx="129.13" cy="150.41" r="1.4"/><circle cx="129.73" cy="139.74" r="1.4"/><circle cx="120.28" cy="140.3" r="1.4"/><circle cx="129.57" cy="149.91" r="1.4"/><circle cx="116.95" cy="147.13" r="1.4"/><circle cx="118.22" cy="154.25" r="1.4"/><circle cx="125.92" cy="144.66" r="1.4"/><circle cx="109.96" cy="150.93" r="1.4"/><circle cx="123.98" cy="144.35" r="1.4"/><circle cx="126.02" cy="140.62" r="1.4"/><circle cx="133.26" cy="147.1" r="1.4"/><circle cx="123.72" cy="139.62" r="1.4"/><circle cx="114.32" cy="143.92" r="1.4"/><circle cx="131.09" cy="136.45" r="1.4"/><circle cx="116.95" cy="134.76" r="1.4"/><circle cx="125.94" cy="143.47" r="1.4"/><circle cx="137.82" cy="150.59" r="1.4"/><circle cx="111.29" cy="152.85" r="1.4"/><circle cx="126.06" cy="145.5" r="1.4"/><circle cx="126.84" cy="149.92" r="1.4"/><circle cx="119.85" cy="153.28" r="1.4"/></g>
<path d="M81 143.9 L81.51 143.88 L82.03 143.85 L82.54 143.83 L83.05 143.81 L83.56 143.79 L84.07 143.76 L84.59 143.73 L85.1 143.7 L85.6 143.67 L86.11 143.64 L86.61 143.61 L87.12 143.59 L87.62 143.57 L88.13 143.55 L88.63 143.53 L89.14 143.51 L89.64 143.48 L90.15 143.45 L90.66 143.42 L91.16 143.39 L91.67 143.34 L92.17 143.29 L92.67 143.24 L93.18 143.17 L93.69 143.09 L94.19 143.01 L94.7 142.91 L95.2 142.8 L95.71 142.68 L96.22 142.55 L96.73 142.41 L97.24 142.26 L97.75 142.09 L98.26 141.9 L98.77 141.69 L99.28 141.46 L99.79 141.19 L100.3 140.9 L100.84 140.55 L101.39 140.17 L101.93 139.76 L102.47 139.31 L103.01 138.81 L103.56 138.28 L104.1 137.7 L104.63 137.06 L105.17 136.34 L105.7 135.57 L106.23 134.79 L106.77 134.02 L107.3 133.3 L107.83 132.62 L108.37 131.95 L108.9 131.29 L109.43 130.66 L109.97 130.06 L110.5 129.5 L111.04 128.96 L111.59 128.43 L112.13 127.93 L112.67 127.46 L113.21 127.03 L113.76 126.64 L114.3 126.3 L114.82 126.02 L115.33 125.77 L115.85 125.57 L116.37 125.43 L116.88 125.33 L117.4 125.3 L117.93 125.33 L118.47 125.4 L119 125.54 L119.53 125.73 L120.07 125.98 L120.6 126.3 L121.14 126.69 L121.69 127.16 L122.23 127.68 L122.77 128.24 L123.31 128.84 L123.86 129.47 L124.4 130.1 L124.94 130.76 L125.49 131.46 L126.03 132.19 L126.57 132.95 L127.11 133.7 L127.66 134.46 L128.2 135.2 L128.74 135.95 L129.29 136.73 L129.83 137.52 L130.37 138.3 L130.91 139.03 L131.46 139.71 L132 140.3 L132.54 140.81 L133.09 141.26 L133.63 141.66 L134.17 142 L134.71 142.3 L135.26 142.57 L135.8 142.8 L136.33 142.99 L136.87 143.15 L137.4 143.27 L137.93 143.36 L138.47 143.43 L139 143.48 L139.53 143.52 L140.07 143.55 L140.6 143.58 L141.13 143.61 L141.67 143.65 L142.2 143.7 L142.74 143.75 L143.28 143.79 L143.82 143.83 L144.36 143.86 L144.9 143.9 L144.9 143.9 L144.36 143.94 L143.82 143.97 L143.28 144.01 L142.74 144.05 L142.2 144.1 L141.67 144.15 L141.13 144.19 L140.6 144.22 L140.07 144.25 L139.53 144.28 L139 144.32 L138.47 144.37 L137.93 144.44 L137.4 144.53 L136.87 144.65 L136.33 144.81 L135.8 145 L135.26 145.23 L134.71 145.5 L134.17 145.8 L133.63 146.14 L133.09 146.54 L132.54 146.99 L132 147.5 L131.46 148.09 L130.91 148.77 L130.37 149.5 L129.83 150.28 L129.29 151.07 L128.74 151.85 L128.2 152.6 L127.66 153.34 L127.11 154.1 L126.57 154.85 L126.03 155.61 L125.49 156.34 L124.94 157.04 L124.4 157.7 L123.86 158.33 L123.31 158.96 L122.77 159.56 L122.23 160.12 L121.69 160.64 L121.14 161.11 L120.6 161.5 L120.07 161.82 L119.53 162.07 L119 162.26 L118.47 162.4 L117.93 162.47 L117.4 162.5 L116.88 162.47 L116.37 162.37 L115.85 162.23 L115.33 162.03 L114.82 161.78 L114.3 161.5 L113.76 161.16 L113.21 160.77 L112.67 160.34 L112.13 159.87 L111.59 159.37 L111.04 158.84 L110.5 158.3 L109.97 157.74 L109.43 157.14 L108.9 156.51 L108.37 155.85 L107.83 155.18 L107.3 154.5 L106.77 153.78 L106.23 153.01 L105.7 152.23 L105.17 151.46 L104.63 150.74 L104.1 150.1 L103.56 149.52 L103.01 148.99 L102.47 148.49 L101.93 148.04 L101.39 147.63 L100.84 147.25 L100.3 146.9 L99.79 146.61 L99.28 146.34 L98.77 146.11 L98.26 145.9 L97.75 145.71 L97.24 145.54 L96.73 145.39 L96.22 145.25 L95.71 145.12 L95.2 145 L94.7 144.89 L94.19 144.79 L93.69 144.71 L93.18 144.63 L92.67 144.56 L92.17 144.51 L91.67 144.46 L91.16 144.41 L90.66 144.38 L90.15 144.35 L89.64 144.32 L89.14 144.29 L88.63 144.27 L88.13 144.25 L87.62 144.23 L87.12 144.21 L86.61 144.19 L86.11 144.16 L85.6 144.13 L85.1 144.1 L84.59 144.07 L84.07 144.04 L83.56 144.01 L83.05 143.99 L82.54 143.97 L82.03 143.95 L81.51 143.92 L81 143.9 Z" fill="none" stroke="#275f44" stroke-width="1.25" stroke-linejoin="round"/>
<rect x="115.4" y="139.9" width="2.4" height="8.3" fill="#2f6a4d" stroke="#0d0d0d" stroke-width="1"/>
<line x1="116.6" y1="139.9" x2="116.6" y2="148.2" stroke="#0d0d0d" stroke-width="1"/>
<text transform="translate(36.42,149) scale(0.91,1)" font-size="8.6" fill="#111" stroke="#111" stroke-width="0.2"><tspan font-style="italic">MYC</tspan><tspan font-size="5.8" dy="-2.9">Gain</tspan></text>
<text transform="translate(198.8,137.01) rotate(90) scale(0.9349,1)" font-size="7.8" stroke="#111" stroke-width="0.12" fill="#111">0.95</text>
<path d="M79.7 187.8 L80.23 187.79 L80.75 187.78 L81.28 187.77 L81.8 187.76 L82.33 187.75 L82.85 187.74 L83.38 187.73 L83.9 187.72 L84.42 187.72 L84.95 187.71 L85.47 187.7 L86 187.7 L86.52 187.7 L87.03 187.7 L87.55 187.69 L88.06 187.69 L88.58 187.69 L89.09 187.68 L89.61 187.68 L90.12 187.67 L90.64 187.66 L91.15 187.65 L91.67 187.64 L92.18 187.62 L92.7 187.6 L93.23 187.58 L93.75 187.54 L94.28 187.51 L94.8 187.45 L95.33 187.39 L95.85 187.3 L96.38 187.19 L96.9 187.06 L97.42 186.89 L97.95 186.7 L98.47 186.47 L99 186.2 L99.51 185.9 L100.02 185.57 L100.53 185.21 L101.04 184.81 L101.55 184.38 L102.06 183.91 L102.57 183.41 L103.08 182.88 L103.59 182.31 L104.1 181.7 L104.63 180.99 L105.17 180.18 L105.7 179.3 L106.23 178.41 L106.77 177.53 L107.3 176.7 L107.83 175.9 L108.37 175.09 L108.9 174.3 L109.43 173.54 L109.97 172.83 L110.5 172.2 L111.02 171.66 L111.53 171.17 L112.05 170.73 L112.57 170.34 L113.08 170 L113.6 169.7 L114.13 169.43 L114.67 169.21 L115.2 169.03 L115.73 168.9 L116.27 168.83 L116.8 168.8 L117.34 168.82 L117.89 168.9 L118.43 169.04 L118.97 169.24 L119.51 169.51 L120.06 169.86 L120.6 170.3 L121.13 170.84 L121.67 171.48 L122.2 172.22 L122.73 173.02 L123.27 173.85 L123.8 174.7 L124.3 175.56 L124.8 176.5 L125.3 177.47 L125.8 178.39 L126.3 179.2 L126.8 179.91 L127.3 180.59 L127.8 181.23 L128.3 181.83 L128.8 182.39 L129.3 182.92 L129.8 183.42 L130.3 183.87 L130.8 184.3 L131.3 184.69 L131.8 185.03 L132.3 185.34 L132.8 185.62 L133.3 185.87 L133.8 186.09 L134.3 186.29 L134.8 186.47 L135.3 186.64 L135.8 186.8 L136.31 186.95 L136.83 187.08 L137.34 187.18 L137.85 187.28 L138.37 187.36 L138.88 187.42 L139.39 187.47 L139.91 187.52 L140.42 187.55 L140.93 187.58 L141.45 187.61 L141.96 187.63 L142.47 187.65 L142.99 187.68 L143.5 187.7 L144.01 187.72 L144.52 187.74 L145.03 187.76 L145.54 187.77 L146.05 187.77 L146.55 187.78 L147.06 187.78 L147.57 187.79 L148.08 187.79 L148.59 187.79 L149.1 187.8 L149.1 187.8 L148.59 187.81 L148.08 187.81 L147.57 187.81 L147.06 187.82 L146.55 187.82 L146.05 187.83 L145.54 187.83 L145.03 187.84 L144.52 187.86 L144.01 187.88 L143.5 187.9 L142.99 187.92 L142.47 187.95 L141.96 187.97 L141.45 187.99 L140.93 188.02 L140.42 188.05 L139.91 188.08 L139.39 188.13 L138.88 188.18 L138.37 188.24 L137.85 188.32 L137.34 188.42 L136.83 188.52 L136.31 188.65 L135.8 188.8 L135.3 188.96 L134.8 189.13 L134.3 189.31 L133.8 189.51 L133.3 189.73 L132.8 189.98 L132.3 190.26 L131.8 190.57 L131.3 190.91 L130.8 191.3 L130.3 191.73 L129.8 192.18 L129.3 192.68 L128.8 193.21 L128.3 193.77 L127.8 194.37 L127.3 195.01 L126.8 195.69 L126.3 196.4 L125.8 197.21 L125.3 198.13 L124.8 199.1 L124.3 200.04 L123.8 200.9 L123.27 201.75 L122.73 202.58 L122.2 203.38 L121.67 204.12 L121.13 204.76 L120.6 205.3 L120.06 205.74 L119.51 206.09 L118.97 206.36 L118.43 206.56 L117.89 206.7 L117.34 206.78 L116.8 206.8 L116.27 206.77 L115.73 206.7 L115.2 206.57 L114.67 206.39 L114.13 206.17 L113.6 205.9 L113.08 205.6 L112.57 205.26 L112.05 204.87 L111.53 204.43 L111.02 203.94 L110.5 203.4 L109.97 202.77 L109.43 202.06 L108.9 201.3 L108.37 200.51 L107.83 199.7 L107.3 198.9 L106.77 198.07 L106.23 197.19 L105.7 196.3 L105.17 195.42 L104.63 194.61 L104.1 193.9 L103.59 193.29 L103.08 192.72 L102.57 192.19 L102.06 191.69 L101.55 191.22 L101.04 190.79 L100.53 190.39 L100.02 190.03 L99.51 189.7 L99 189.4 L98.47 189.13 L97.95 188.9 L97.42 188.71 L96.9 188.54 L96.38 188.41 L95.85 188.3 L95.33 188.21 L94.8 188.15 L94.28 188.09 L93.75 188.06 L93.23 188.02 L92.7 188 L92.18 187.98 L91.67 187.96 L91.15 187.95 L90.64 187.94 L90.12 187.93 L89.61 187.92 L89.09 187.92 L88.58 187.91 L88.06 187.91 L87.55 187.91 L87.03 187.9 L86.52 187.9 L86 187.9 L85.47 187.9 L84.95 187.89 L84.42 187.88 L83.9 187.88 L83.38 187.87 L82.85 187.86 L82.33 187.85 L81.8 187.84 L81.28 187.83 L80.75 187.82 L80.23 187.81 L79.7 187.8 Z" fill="#efebe7" stroke="none"/>
<g fill="#785230" fill-opacity="0.82"><circle cx="112.37" cy="185.73" r="1.45"/><circle cx="127.56" cy="180.76" r="1.45"/><circle cx="117.91" cy="191.77" r="1.45"/><circle cx="122.73" cy="185.92" r="1.45"/><circle cx="116.53" cy="178.26" r="1.45"/><circle cx="113.72" cy="179.47" r="1.45"/><circle cx="117.44" cy="190.6" r="1.45"/><circle cx="121.4" cy="195.23" r="1.45"/><circle cx="120.29" cy="180.88" r="1.45"/><circle cx="125.64" cy="195.17" r="1.45"/><circle cx="119.92" cy="183.22" r="1.45"/><circle cx="107.56" cy="196.13" r="1.45"/><circle cx="110.9" cy="191.52" r="1.45"/><circle cx="130.78" cy="192.59" r="1.45"/><circle cx="114.74" cy="198.36" r="1.45"/><circle cx="122.49" cy="193.53" r="1.45"/><circle cx="130.06" cy="187.53" r="1.45"/><circle cx="128.25" cy="189.59" r="1.45"/><circle cx="110.61" cy="195.24" r="1.45"/><circle cx="121.18" cy="191.86" r="1.45"/><circle cx="96.36" cy="183.62" r="1.45"/><circle cx="124.49" cy="193.03" r="1.45"/><circle cx="110.21" cy="188.89" r="1.45"/><circle cx="116.56" cy="188.69" r="1.45"/><circle cx="125.87" cy="190.56" r="1.45"/><circle cx="116.93" cy="183.6" r="1.45"/><circle cx="111.42" cy="197.9" r="1.45"/><circle cx="114.44" cy="190.7" r="1.45"/><circle cx="118.21" cy="185.01" r="1.45"/><circle cx="109.99" cy="197.05" r="1.45"/><circle cx="111.76" cy="196.81" r="1.45"/><circle cx="105.89" cy="185.33" r="1.45"/><circle cx="120.92" cy="193.09" r="1.45"/><circle cx="112.52" cy="184.33" r="1.45"/><circle cx="123.87" cy="186" r="1.45"/><circle cx="99.12" cy="182.72" r="1.45"/><circle cx="123.38" cy="189.7" r="1.45"/><circle cx="124.41" cy="188.09" r="1.45"/><circle cx="118.92" cy="191.86" r="1.45"/><circle cx="120.36" cy="192.37" r="1.45"/><circle cx="111.04" cy="197.8" r="1.45"/><circle cx="122.1" cy="197.69" r="1.45"/><circle cx="121" cy="177.75" r="1.45"/><circle cx="101.88" cy="185.66" r="1.45"/><circle cx="121.19" cy="194.89" r="1.45"/><circle cx="101.34" cy="188.85" r="1.45"/><circle cx="104.03" cy="184.55" r="1.45"/><circle cx="122.21" cy="188.92" r="1.45"/><circle cx="118.38" cy="191.44" r="1.45"/><circle cx="118.46" cy="187.37" r="1.45"/><circle cx="124.63" cy="195.39" r="1.45"/><circle cx="117.67" cy="185.46" r="1.45"/><circle cx="116.32" cy="183.44" r="1.45"/><circle cx="121.88" cy="195.3" r="1.45"/><circle cx="117.05" cy="185.39" r="1.45"/><circle cx="121.56" cy="186.03" r="1.45"/><circle cx="127.09" cy="198.23" r="1.45"/><circle cx="104.15" cy="188.75" r="1.45"/><circle cx="119.7" cy="193.3" r="1.45"/><circle cx="118.09" cy="198.17" r="1.45"/><circle cx="119.08" cy="196.83" r="1.45"/><circle cx="118.04" cy="186.53" r="1.45"/><circle cx="127.68" cy="195.06" r="1.45"/><circle cx="117.32" cy="185.93" r="1.45"/><circle cx="129.83" cy="181.34" r="1.45"/><circle cx="104.53" cy="188.49" r="1.45"/><circle cx="108.69" cy="180.36" r="1.45"/><circle cx="116.99" cy="182.86" r="1.45"/><circle cx="129.61" cy="184.99" r="1.45"/><circle cx="113.96" cy="181.04" r="1.45"/><circle cx="127.11" cy="191.92" r="1.45"/><circle cx="124.81" cy="191.83" r="1.45"/><circle cx="121.22" cy="194.41" r="1.45"/><circle cx="115.74" cy="184.2" r="1.45"/><circle cx="126.49" cy="180.17" r="1.45"/><circle cx="126.41" cy="192.1" r="1.45"/><circle cx="123.58" cy="191.72" r="1.45"/><circle cx="121.83" cy="195.95" r="1.45"/><circle cx="127.61" cy="177.29" r="1.45"/><circle cx="106.18" cy="190.25" r="1.45"/><circle cx="120.69" cy="198.08" r="1.45"/><circle cx="129.44" cy="189.94" r="1.45"/><circle cx="125.2" cy="180.16" r="1.45"/><circle cx="119.91" cy="193.52" r="1.45"/><circle cx="121.72" cy="192.57" r="1.45"/><circle cx="119.72" cy="183.92" r="1.45"/><circle cx="120.68" cy="180.15" r="1.45"/><circle cx="119.54" cy="196.99" r="1.45"/><circle cx="119.53" cy="183" r="1.45"/><circle cx="129.55" cy="184.02" r="1.45"/><circle cx="111.43" cy="190.79" r="1.45"/><circle cx="129.11" cy="190.05" r="1.45"/><circle cx="110.27" cy="190.36" r="1.45"/><circle cx="124.92" cy="189.17" r="1.45"/><circle cx="107.24" cy="190.61" r="1.45"/><circle cx="128.26" cy="178.34" r="1.45"/><circle cx="121.21" cy="186.41" r="1.45"/><circle cx="123.34" cy="182.51" r="1.45"/><circle cx="111.22" cy="185.75" r="1.45"/><circle cx="117.51" cy="185.12" r="1.45"/><circle cx="110.55" cy="195.09" r="1.45"/><circle cx="116.59" cy="191.71" r="1.45"/><circle cx="106.33" cy="191.67" r="1.45"/><circle cx="122.31" cy="195.84" r="1.45"/><circle cx="117" cy="195.04" r="1.45"/><circle cx="111.5" cy="180.59" r="1.45"/><circle cx="131.6" cy="185.29" r="1.45"/><circle cx="126" cy="182.92" r="1.45"/><circle cx="125.4" cy="194.15" r="1.45"/><circle cx="136.25" cy="196.7" r="1.45"/><circle cx="119.89" cy="185.25" r="1.45"/><circle cx="124.75" cy="193.72" r="1.45"/><circle cx="113.79" cy="186.15" r="1.45"/><circle cx="110.99" cy="178.33" r="1.45"/><circle cx="124.2" cy="177.99" r="1.45"/><circle cx="121.05" cy="179.56" r="1.45"/><circle cx="119.01" cy="187.97" r="1.45"/><circle cx="116.37" cy="196.47" r="1.45"/><circle cx="138.9" cy="194.2" r="1.45"/><circle cx="119.39" cy="182.28" r="1.45"/><circle cx="131.72" cy="184.78" r="1.45"/><circle cx="121.62" cy="183.85" r="1.45"/><circle cx="103.63" cy="184.54" r="1.45"/><circle cx="131.03" cy="178.38" r="1.45"/><circle cx="118.68" cy="185.18" r="1.45"/><circle cx="122.05" cy="192.02" r="1.45"/><circle cx="112.09" cy="188.2" r="1.45"/><circle cx="112.14" cy="180.85" r="1.45"/><circle cx="105.94" cy="187.53" r="1.45"/><circle cx="114.32" cy="177.66" r="1.45"/><circle cx="100.55" cy="185.32" r="1.45"/><circle cx="124.06" cy="179.31" r="1.45"/><circle cx="128.9" cy="197.76" r="1.45"/><circle cx="120.68" cy="187.19" r="1.45"/><circle cx="111.4" cy="193.59" r="1.45"/><circle cx="121.61" cy="188.69" r="1.45"/><circle cx="126.08" cy="196.85" r="1.45"/><circle cx="123" cy="179.51" r="1.45"/><circle cx="93.95" cy="181.08" r="1.45"/><circle cx="124.5" cy="191.35" r="1.45"/><circle cx="118.02" cy="197.81" r="1.45"/><circle cx="122.95" cy="197.27" r="1.45"/><circle cx="111.02" cy="190.64" r="1.45"/><circle cx="126.42" cy="185.48" r="1.45"/><circle cx="132.6" cy="198.02" r="1.45"/><circle cx="114.46" cy="191.24" r="1.45"/><circle cx="119.82" cy="197.03" r="1.45"/><circle cx="131.06" cy="180.92" r="1.45"/><circle cx="111.63" cy="194.04" r="1.45"/><circle cx="118.39" cy="192.56" r="1.45"/><circle cx="115.28" cy="188.58" r="1.45"/><circle cx="109.51" cy="193.72" r="1.45"/><circle cx="114.72" cy="189.07" r="1.45"/><circle cx="113.56" cy="187.35" r="1.45"/><circle cx="119.07" cy="197.45" r="1.45"/><circle cx="120.09" cy="183.1" r="1.45"/><circle cx="102.06" cy="192.2" r="1.45"/><circle cx="107.5" cy="188.54" r="1.45"/><circle cx="111.72" cy="180.75" r="1.45"/><circle cx="118.93" cy="185.45" r="1.45"/><circle cx="121.7" cy="180.41" r="1.45"/><circle cx="112.96" cy="195.11" r="1.45"/><circle cx="110.83" cy="184.33" r="1.45"/><circle cx="111.13" cy="182.61" r="1.45"/><circle cx="117.57" cy="180.36" r="1.45"/><circle cx="126.73" cy="182.56" r="1.45"/><circle cx="121.77" cy="181.41" r="1.45"/><circle cx="110.76" cy="195.68" r="1.45"/><circle cx="112.42" cy="181.35" r="1.45"/><circle cx="116.68" cy="178.84" r="1.45"/><circle cx="129.85" cy="185.31" r="1.45"/><circle cx="123.1" cy="189.73" r="1.45"/><circle cx="116.33" cy="182.31" r="1.45"/><circle cx="118.34" cy="183.26" r="1.45"/><circle cx="125.55" cy="194.98" r="1.45"/><circle cx="118.46" cy="192.24" r="1.45"/><circle cx="116.06" cy="194.74" r="1.45"/><circle cx="118.34" cy="187.03" r="1.45"/><circle cx="122.46" cy="190.24" r="1.45"/><circle cx="110.28" cy="182.6" r="1.45"/><circle cx="121.89" cy="194.42" r="1.45"/><circle cx="113.63" cy="190.54" r="1.45"/><circle cx="125.03" cy="182.41" r="1.45"/><circle cx="111.13" cy="187.96" r="1.45"/><circle cx="128.12" cy="194.57" r="1.45"/><circle cx="112.89" cy="196.77" r="1.45"/><circle cx="117.87" cy="177.28" r="1.45"/><circle cx="113.75" cy="181.47" r="1.45"/><circle cx="113.21" cy="190.21" r="1.45"/><circle cx="124.57" cy="190.73" r="1.45"/><circle cx="126.29" cy="195.33" r="1.45"/><circle cx="115.08" cy="193.5" r="1.45"/><circle cx="118.56" cy="194.82" r="1.45"/><circle cx="122.14" cy="189.06" r="1.45"/><circle cx="123.67" cy="194.65" r="1.45"/><circle cx="120.35" cy="196.8" r="1.45"/><circle cx="127.75" cy="178.1" r="1.45"/><circle cx="124.87" cy="186.57" r="1.45"/><circle cx="115.25" cy="188.01" r="1.45"/><circle cx="116.44" cy="181.38" r="1.45"/><circle cx="133.2" cy="193.67" r="1.45"/><circle cx="105.24" cy="196.4" r="1.45"/><circle cx="121.2" cy="180.33" r="1.45"/><circle cx="115.23" cy="183.25" r="1.45"/><circle cx="97.62" cy="194.91" r="1.45"/><circle cx="118.86" cy="198.25" r="1.45"/><circle cx="124.52" cy="185.56" r="1.45"/><circle cx="110.55" cy="187.18" r="1.45"/><circle cx="104.46" cy="187.32" r="1.45"/><circle cx="114.05" cy="189.68" r="1.45"/><circle cx="124.52" cy="195.24" r="1.45"/><circle cx="126.53" cy="195.54" r="1.45"/><circle cx="120.16" cy="198.37" r="1.45"/><circle cx="111.84" cy="189.4" r="1.45"/><circle cx="117.93" cy="196.33" r="1.45"/><circle cx="118.47" cy="185.01" r="1.45"/><circle cx="112.99" cy="187.48" r="1.45"/><circle cx="111.96" cy="195.16" r="1.45"/><circle cx="106.24" cy="177.27" r="1.45"/><circle cx="118.99" cy="184.09" r="1.45"/><circle cx="122.15" cy="179.49" r="1.45"/><circle cx="116.59" cy="187.98" r="1.45"/><circle cx="132.68" cy="190.11" r="1.45"/><circle cx="93.36" cy="190.57" r="1.45"/><circle cx="118.63" cy="182.83" r="1.45"/><circle cx="110.31" cy="190.31" r="1.45"/><circle cx="116.15" cy="180.81" r="1.45"/><circle cx="118.68" cy="183.19" r="1.45"/><circle cx="121.9" cy="182.77" r="1.45"/><circle cx="117.64" cy="192.84" r="1.45"/><circle cx="126.89" cy="195.72" r="1.45"/><circle cx="120.21" cy="183.89" r="1.45"/><circle cx="116.51" cy="195.42" r="1.45"/><circle cx="112.78" cy="193.05" r="1.45"/><circle cx="106.72" cy="193.1" r="1.45"/><circle cx="121.36" cy="178.06" r="1.45"/><circle cx="111.66" cy="186.2" r="1.45"/><circle cx="106.83" cy="181.39" r="1.45"/><circle cx="125.37" cy="179.8" r="1.45"/><circle cx="125.79" cy="181.36" r="1.45"/><circle cx="125.15" cy="197.64" r="1.45"/><circle cx="117.52" cy="181.86" r="1.45"/><circle cx="138.76" cy="177.88" r="1.45"/><circle cx="120.16" cy="188.9" r="1.45"/><circle cx="130.53" cy="178.99" r="1.45"/><circle cx="127.37" cy="181.64" r="1.45"/><circle cx="120.88" cy="187.6" r="1.45"/><circle cx="111.07" cy="181.34" r="1.45"/><circle cx="125.4" cy="191.71" r="1.45"/><circle cx="125.73" cy="187.25" r="1.45"/><circle cx="91.09" cy="179.42" r="1.45"/><circle cx="115.98" cy="191.29" r="1.45"/><circle cx="109" cy="184.48" r="1.45"/><circle cx="123.52" cy="186.11" r="1.45"/><circle cx="124.76" cy="194.84" r="1.45"/><circle cx="102.74" cy="188.87" r="1.45"/><circle cx="108.53" cy="189.4" r="1.45"/><circle cx="120.48" cy="186.74" r="1.45"/><circle cx="124.18" cy="188.32" r="1.45"/><circle cx="109.86" cy="194.28" r="1.45"/><circle cx="118.65" cy="190.02" r="1.45"/><circle cx="125.02" cy="186.9" r="1.45"/><circle cx="119.85" cy="192.03" r="1.45"/><circle cx="126.54" cy="191.96" r="1.45"/><circle cx="113.4" cy="190.81" r="1.45"/><circle cx="124" cy="193.84" r="1.45"/><circle cx="129.83" cy="192.93" r="1.45"/><circle cx="125.33" cy="189.69" r="1.45"/><circle cx="119.6" cy="195.65" r="1.45"/><circle cx="122.08" cy="198.17" r="1.45"/><circle cx="120.74" cy="179.92" r="1.45"/><circle cx="128.26" cy="182.13" r="1.45"/><circle cx="116.59" cy="192.05" r="1.45"/><circle cx="119.84" cy="189.37" r="1.45"/><circle cx="110.75" cy="183.43" r="1.45"/><circle cx="111.32" cy="195.56" r="1.45"/><circle cx="117.71" cy="181.42" r="1.45"/><circle cx="111.44" cy="190.55" r="1.45"/><circle cx="112.91" cy="185.57" r="1.45"/><circle cx="131.21" cy="192.97" r="1.45"/><circle cx="136.25" cy="177.23" r="1.45"/><circle cx="116.11" cy="191.52" r="1.45"/><circle cx="109.65" cy="188.94" r="1.45"/><circle cx="126.69" cy="188.08" r="1.45"/><circle cx="111.63" cy="183.4" r="1.45"/><circle cx="113.38" cy="183.05" r="1.45"/><circle cx="106.47" cy="179.03" r="1.45"/><circle cx="104.85" cy="193.06" r="1.45"/><circle cx="118.9" cy="198.18" r="1.45"/><circle cx="115.47" cy="179.37" r="1.45"/><circle cx="122.63" cy="188.04" r="1.45"/><circle cx="136.15" cy="178.65" r="1.45"/><circle cx="93.28" cy="192.71" r="1.45"/><circle cx="109.93" cy="178.6" r="1.45"/><circle cx="118.51" cy="184.25" r="1.45"/><circle cx="90.47" cy="181.68" r="1.45"/><circle cx="116.51" cy="182.53" r="1.45"/><circle cx="127.5" cy="181.67" r="1.45"/><circle cx="119.64" cy="186.8" r="1.45"/><circle cx="127.89" cy="185.82" r="1.45"/><circle cx="99.81" cy="190.77" r="1.45"/><circle cx="119.86" cy="196.4" r="1.45"/><circle cx="123.28" cy="194.05" r="1.45"/><circle cx="127.03" cy="180.38" r="1.45"/><circle cx="129.53" cy="183.27" r="1.45"/><circle cx="112.6" cy="194.02" r="1.45"/><circle cx="114.96" cy="179.73" r="1.45"/><circle cx="118.92" cy="197.4" r="1.45"/><circle cx="115.53" cy="181.86" r="1.45"/><circle cx="118.9" cy="182.47" r="1.45"/><circle cx="103.34" cy="181.33" r="1.45"/><circle cx="126.34" cy="186.83" r="1.45"/><circle cx="113.79" cy="195.53" r="1.45"/><circle cx="110.84" cy="186.23" r="1.45"/><circle cx="125.92" cy="196.51" r="1.45"/><circle cx="106.44" cy="179.61" r="1.45"/><circle cx="123.29" cy="188.48" r="1.45"/><circle cx="105.07" cy="196.93" r="1.45"/><circle cx="113.69" cy="184.66" r="1.45"/><circle cx="124.62" cy="187.19" r="1.45"/><circle cx="96.75" cy="180.76" r="1.45"/><circle cx="126.64" cy="180.37" r="1.45"/><circle cx="111.03" cy="190.5" r="1.45"/><circle cx="127.45" cy="182.19" r="1.45"/><circle cx="123.62" cy="180.84" r="1.45"/><circle cx="116.29" cy="188.86" r="1.45"/><circle cx="125.89" cy="196.63" r="1.45"/><circle cx="117.94" cy="181.16" r="1.45"/><circle cx="116.57" cy="198.08" r="1.45"/><circle cx="121.35" cy="197.6" r="1.45"/><circle cx="125.13" cy="195.65" r="1.45"/><circle cx="120.95" cy="191.32" r="1.45"/><circle cx="109.36" cy="179.75" r="1.45"/><circle cx="124.45" cy="190.21" r="1.45"/><circle cx="120.13" cy="181.66" r="1.45"/><circle cx="122.6" cy="185.74" r="1.45"/><circle cx="113.91" cy="178.25" r="1.45"/><circle cx="118.74" cy="179.26" r="1.45"/><circle cx="118.22" cy="185.02" r="1.45"/><circle cx="122.19" cy="183.8" r="1.45"/><circle cx="122.9" cy="196.3" r="1.45"/><circle cx="126.19" cy="186.36" r="1.45"/><circle cx="114.02" cy="189.51" r="1.45"/><circle cx="112.46" cy="186.38" r="1.45"/><circle cx="118.49" cy="181.55" r="1.45"/><circle cx="122.2" cy="180.67" r="1.45"/><circle cx="122.56" cy="178.24" r="1.45"/><circle cx="110.87" cy="195.59" r="1.45"/><circle cx="112.3" cy="190.85" r="1.45"/><circle cx="113.98" cy="194.96" r="1.45"/><circle cx="126.66" cy="198.09" r="1.45"/><circle cx="106.75" cy="187.38" r="1.45"/><circle cx="92.78" cy="184.98" r="1.45"/><circle cx="120.73" cy="183.96" r="1.45"/><circle cx="120.98" cy="189.22" r="1.45"/><circle cx="107.38" cy="189.35" r="1.45"/><circle cx="109.97" cy="186.01" r="1.45"/><circle cx="128.47" cy="195.41" r="1.45"/><circle cx="99.55" cy="184.14" r="1.45"/><circle cx="122.95" cy="194.88" r="1.45"/><circle cx="116.2" cy="197.36" r="1.45"/><circle cx="126.6" cy="190.63" r="1.45"/><circle cx="104.44" cy="181.81" r="1.45"/><circle cx="125.69" cy="191.07" r="1.45"/><circle cx="110.49" cy="191.52" r="1.45"/><circle cx="114.59" cy="184.66" r="1.45"/><circle cx="110.03" cy="195.73" r="1.45"/><circle cx="117.73" cy="186.72" r="1.45"/><circle cx="124.14" cy="192.69" r="1.45"/><circle cx="118.06" cy="192.91" r="1.45"/><circle cx="116.88" cy="189.28" r="1.45"/><circle cx="129.81" cy="189.14" r="1.45"/><circle cx="112.79" cy="177.48" r="1.45"/><circle cx="108.35" cy="180.71" r="1.45"/><circle cx="114.61" cy="178.29" r="1.45"/><circle cx="122.27" cy="191.78" r="1.45"/><circle cx="112.24" cy="183.64" r="1.45"/><circle cx="119.33" cy="180.62" r="1.45"/><circle cx="112.43" cy="194.86" r="1.45"/><circle cx="102.11" cy="180.88" r="1.45"/><circle cx="111.39" cy="177.38" r="1.45"/><circle cx="120.75" cy="191.07" r="1.45"/><circle cx="117.28" cy="198.14" r="1.45"/><circle cx="122.9" cy="198.22" r="1.45"/><circle cx="122.82" cy="181.03" r="1.45"/><circle cx="114.55" cy="188.95" r="1.45"/><circle cx="114.96" cy="186.91" r="1.45"/><circle cx="123.68" cy="197.45" r="1.45"/><circle cx="127.48" cy="193.89" r="1.45"/><circle cx="119.45" cy="198" r="1.45"/><circle cx="119.66" cy="185.26" r="1.45"/><circle cx="118.06" cy="186.52" r="1.45"/><circle cx="109.33" cy="186.58" r="1.45"/><circle cx="129.56" cy="179.26" r="1.45"/><circle cx="122.73" cy="186.6" r="1.45"/><circle cx="105.99" cy="177.97" r="1.45"/><circle cx="123.32" cy="197.88" r="1.45"/><circle cx="107.11" cy="193.65" r="1.45"/><circle cx="128.87" cy="189.88" r="1.45"/><circle cx="120.44" cy="194.13" r="1.45"/><circle cx="110.19" cy="196.87" r="1.45"/><circle cx="123.43" cy="196.04" r="1.45"/><circle cx="112.88" cy="178.34" r="1.45"/><circle cx="126.1" cy="187.96" r="1.45"/><circle cx="115.69" cy="188.67" r="1.45"/><circle cx="127.77" cy="187.33" r="1.45"/><circle cx="111.55" cy="180.29" r="1.45"/><circle cx="115.17" cy="194.39" r="1.45"/><circle cx="115.79" cy="186.82" r="1.45"/><circle cx="121.6" cy="178.31" r="1.45"/><circle cx="120.97" cy="185.14" r="1.45"/><circle cx="118.78" cy="187.53" r="1.45"/><circle cx="120.16" cy="192.9" r="1.45"/><circle cx="113.71" cy="193.16" r="1.45"/><circle cx="116.04" cy="187.57" r="1.45"/></g>
<path d="M79.7 187.8 L80.23 187.79 L80.75 187.78 L81.28 187.77 L81.8 187.76 L82.33 187.75 L82.85 187.74 L83.38 187.73 L83.9 187.72 L84.42 187.72 L84.95 187.71 L85.47 187.7 L86 187.7 L86.52 187.7 L87.03 187.7 L87.55 187.69 L88.06 187.69 L88.58 187.69 L89.09 187.68 L89.61 187.68 L90.12 187.67 L90.64 187.66 L91.15 187.65 L91.67 187.64 L92.18 187.62 L92.7 187.6 L93.23 187.58 L93.75 187.54 L94.28 187.51 L94.8 187.45 L95.33 187.39 L95.85 187.3 L96.38 187.19 L96.9 187.06 L97.42 186.89 L97.95 186.7 L98.47 186.47 L99 186.2 L99.51 185.9 L100.02 185.57 L100.53 185.21 L101.04 184.81 L101.55 184.38 L102.06 183.91 L102.57 183.41 L103.08 182.88 L103.59 182.31 L104.1 181.7 L104.63 180.99 L105.17 180.18 L105.7 179.3 L106.23 178.41 L106.77 177.53 L107.3 176.7 L107.83 175.9 L108.37 175.09 L108.9 174.3 L109.43 173.54 L109.97 172.83 L110.5 172.2 L111.02 171.66 L111.53 171.17 L112.05 170.73 L112.57 170.34 L113.08 170 L113.6 169.7 L114.13 169.43 L114.67 169.21 L115.2 169.03 L115.73 168.9 L116.27 168.83 L116.8 168.8 L117.34 168.82 L117.89 168.9 L118.43 169.04 L118.97 169.24 L119.51 169.51 L120.06 169.86 L120.6 170.3 L121.13 170.84 L121.67 171.48 L122.2 172.22 L122.73 173.02 L123.27 173.85 L123.8 174.7 L124.3 175.56 L124.8 176.5 L125.3 177.47 L125.8 178.39 L126.3 179.2 L126.8 179.91 L127.3 180.59 L127.8 181.23 L128.3 181.83 L128.8 182.39 L129.3 182.92 L129.8 183.42 L130.3 183.87 L130.8 184.3 L131.3 184.69 L131.8 185.03 L132.3 185.34 L132.8 185.62 L133.3 185.87 L133.8 186.09 L134.3 186.29 L134.8 186.47 L135.3 186.64 L135.8 186.8 L136.31 186.95 L136.83 187.08 L137.34 187.18 L137.85 187.28 L138.37 187.36 L138.88 187.42 L139.39 187.47 L139.91 187.52 L140.42 187.55 L140.93 187.58 L141.45 187.61 L141.96 187.63 L142.47 187.65 L142.99 187.68 L143.5 187.7 L144.01 187.72 L144.52 187.74 L145.03 187.76 L145.54 187.77 L146.05 187.77 L146.55 187.78 L147.06 187.78 L147.57 187.79 L148.08 187.79 L148.59 187.79 L149.1 187.8 L149.1 187.8 L148.59 187.81 L148.08 187.81 L147.57 187.81 L147.06 187.82 L146.55 187.82 L146.05 187.83 L145.54 187.83 L145.03 187.84 L144.52 187.86 L144.01 187.88 L143.5 187.9 L142.99 187.92 L142.47 187.95 L141.96 187.97 L141.45 187.99 L140.93 188.02 L140.42 188.05 L139.91 188.08 L139.39 188.13 L138.88 188.18 L138.37 188.24 L137.85 188.32 L137.34 188.42 L136.83 188.52 L136.31 188.65 L135.8 188.8 L135.3 188.96 L134.8 189.13 L134.3 189.31 L133.8 189.51 L133.3 189.73 L132.8 189.98 L132.3 190.26 L131.8 190.57 L131.3 190.91 L130.8 191.3 L130.3 191.73 L129.8 192.18 L129.3 192.68 L128.8 193.21 L128.3 193.77 L127.8 194.37 L127.3 195.01 L126.8 195.69 L126.3 196.4 L125.8 197.21 L125.3 198.13 L124.8 199.1 L124.3 200.04 L123.8 200.9 L123.27 201.75 L122.73 202.58 L122.2 203.38 L121.67 204.12 L121.13 204.76 L120.6 205.3 L120.06 205.74 L119.51 206.09 L118.97 206.36 L118.43 206.56 L117.89 206.7 L117.34 206.78 L116.8 206.8 L116.27 206.77 L115.73 206.7 L115.2 206.57 L114.67 206.39 L114.13 206.17 L113.6 205.9 L113.08 205.6 L112.57 205.26 L112.05 204.87 L111.53 204.43 L111.02 203.94 L110.5 203.4 L109.97 202.77 L109.43 202.06 L108.9 201.3 L108.37 200.51 L107.83 199.7 L107.3 198.9 L106.77 198.07 L106.23 197.19 L105.7 196.3 L105.17 195.42 L104.63 194.61 L104.1 193.9 L103.59 193.29 L103.08 192.72 L102.57 192.19 L102.06 191.69 L101.55 191.22 L101.04 190.79 L100.53 190.39 L100.02 190.03 L99.51 189.7 L99 189.4 L98.47 189.13 L97.95 188.9 L97.42 188.71 L96.9 188.54 L96.38 188.41 L95.85 188.3 L95.33 188.21 L94.8 188.15 L94.28 188.09 L93.75 188.06 L93.23 188.02 L92.7 188 L92.18 187.98 L91.67 187.96 L91.15 187.95 L90.64 187.94 L90.12 187.93 L89.61 187.92 L89.09 187.92 L88.58 187.91 L88.06 187.91 L87.55 187.91 L87.03 187.9 L86.52 187.9 L86 187.9 L85.47 187.9 L84.95 187.89 L84.42 187.88 L83.9 187.88 L83.38 187.87 L82.85 187.86 L82.33 187.85 L81.8 187.84 L81.28 187.83 L80.75 187.82 L80.23 187.81 L79.7 187.8 Z" fill="none" stroke="#673f1b" stroke-width="1.25" stroke-linejoin="round"/>
<rect x="115.5" y="184.1" width="1.9" height="7.6" fill="#5a3a1a" stroke="#0d0d0d" stroke-width="1"/>
<line x1="116.45" y1="184.1" x2="116.45" y2="191.7" stroke="#0d0d0d" stroke-width="1"/>
<text transform="translate(30.56,192.9) scale(0.91,1)" font-size="8.6" fill="#111" stroke="#111" stroke-width="0.2"><tspan font-style="italic">MYC</tspan><tspan font-size="5.8" dy="-2.9">Normal</tspan></text>
<line x1="71.5" y1="218.4" x2="205.5" y2="218.4" stroke="#111" stroke-width="1.2"/>
<line x1="90.6" y1="218.4" x2="90.6" y2="221.4" stroke="#111" stroke-width="1"/>
<text transform="translate(88.58,231.5) scale(0.8700,1)" font-size="8.3" stroke="#111" stroke-width="0.25" fill="#111">8</text>
<line x1="109.8" y1="218.4" x2="109.8" y2="221.4" stroke="#111" stroke-width="1"/>
<text transform="translate(105.65,231.5) scale(0.8700,1)" font-size="8.3" stroke="#111" stroke-width="0.25" fill="#111">10</text>
<line x1="129" y1="218.4" x2="129" y2="221.4" stroke="#111" stroke-width="1"/>
<text transform="translate(124.9,231.5) scale(0.8700,1)" font-size="8.3" stroke="#111" stroke-width="0.25" fill="#111">12</text>
<line x1="148.2" y1="218.4" x2="148.2" y2="221.4" stroke="#111" stroke-width="1"/>
<text transform="translate(144.03,231.5) scale(0.8700,1)" font-size="8.3" stroke="#111" stroke-width="0.25" fill="#111">14</text>
<line x1="167.4" y1="218.4" x2="167.4" y2="221.4" stroke="#111" stroke-width="1"/>
<text transform="translate(163.27,231.5) scale(0.8700,1)" font-size="8.3" stroke="#111" stroke-width="0.25" fill="#111">16</text>
<line x1="186.6" y1="218.4" x2="186.6" y2="221.4" stroke="#111" stroke-width="1"/>
<text transform="translate(182.47,231.5) scale(0.8700,1)" font-size="8.3" stroke="#111" stroke-width="0.25" fill="#111">18</text>
<text transform="translate(107.22,244.5) scale(0.8734,1)" font-size="8.3" stroke="#111" stroke-width="0.25" fill="#111">Log2 (<tspan font-style="italic">MYC</tspan> mRNA)</text>
<rect x="260.7" y="31.1" width="13.91" height="14.7" fill="#fff" stroke="#7b5795" stroke-width="1"/>
<rect x="262" y="32.2" width="11.51" height="12.5" fill="#ebebeb"/>
<text transform="translate(234.39,41.2) scale(0.9009,1)" font-size="8.5" stroke="#111" stroke-width="0.25" fill="#111">POS</text>
<text transform="translate(276.91,34.29) rotate(90) scale(0.9000,1)" font-size="8.3" stroke="#111" stroke-width="0.15" fill="#111">69</text>
<rect x="260.7" y="50.9" width="5.79" height="14.7" fill="#4b4646" stroke="#7b5795" stroke-width="1"/>
<text transform="translate(233.96,61) scale(0.9400,1)" font-size="8.5" stroke="#111" stroke-width="0.25" fill="#111">NEG</text>
<text transform="translate(268.79,54.09) rotate(90) scale(0.9000,1)" font-size="8.3" stroke="#111" stroke-width="0.15" fill="#111">29</text>
<rect x="260.7" y="80.6" width="2.54" height="14.7" fill="#fff" stroke="#3a5a9a" stroke-width="1"/>
<rect x="262" y="81.7" width="0.14" height="12.5" fill="#ebebeb"/>
<text transform="translate(234.39,90.7) scale(0.9009,1)" font-size="8.5" stroke="#111" stroke-width="0.25" fill="#111">POS</text>
<text transform="translate(265.54,83.67) rotate(90) scale(0.9000,1)" font-size="8.3" stroke="#111" stroke-width="0.15" fill="#111">13</text>
<rect x="260.7" y="100.4" width="2.95" height="14.7" fill="#22407c" stroke="#3a5a9a" stroke-width="1"/>
<text transform="translate(233.96,110.5) scale(0.9400,1)" font-size="8.5" stroke="#111" stroke-width="0.25" fill="#111">NEG</text>
<text transform="translate(265.95,103.47) rotate(90) scale(0.9000,1)" font-size="8.3" stroke="#111" stroke-width="0.15" fill="#111">15</text>
<rect x="260.7" y="130.1" width="11.48" height="14.7" fill="#fff" stroke="#5b8e76" stroke-width="1"/>
<rect x="262" y="131.2" width="9.08" height="12.5" fill="#ebebeb"/>
<text transform="translate(234.39,140.2) scale(0.9009,1)" font-size="8.5" stroke="#111" stroke-width="0.25" fill="#111">POS</text>
<text transform="translate(274.48,133.34) rotate(90) scale(0.9000,1)" font-size="8.3" stroke="#111" stroke-width="0.15" fill="#111">57</text>
<rect x="260.7" y="149.9" width="17.37" height="14.7" fill="#4b4646" stroke="#5b8e76" stroke-width="1"/>
<text transform="translate(233.96,160) scale(0.9400,1)" font-size="8.5" stroke="#111" stroke-width="0.25" fill="#111">NEG</text>
<text transform="translate(280.37,153.09) rotate(90) scale(0.9000,1)" font-size="8.3" stroke="#111" stroke-width="0.15" fill="#111">86</text>
<rect x="260.7" y="179.6" width="28.54" height="14.7" fill="#fff" stroke="#8a6a4c" stroke-width="1"/>
<rect x="262" y="180.7" width="26.14" height="12.5" fill="#ebebeb"/>
<text transform="translate(234.39,189.7) scale(0.9009,1)" font-size="8.5" stroke="#111" stroke-width="0.25" fill="#111">POS</text>
<text transform="translate(291.54,180.62) rotate(90) scale(0.9000,1)" font-size="8.3" stroke="#111" stroke-width="0.15" fill="#111">141</text>
<rect x="260.7" y="199.4" width="55.55" height="14.7" fill="#4b4646" stroke="#8a6a4c" stroke-width="1"/>
<text transform="translate(233.96,209.5) scale(0.9400,1)" font-size="8.5" stroke="#111" stroke-width="0.25" fill="#111">NEG</text>
<text transform="translate(318.55,200.46) rotate(90) scale(0.9000,1)" font-size="8.3" stroke="#111" stroke-width="0.15" fill="#111">274</text>
<line x1="258" y1="218.4" x2="324.3" y2="218.4" stroke="#111" stroke-width="1.2"/>
<line x1="260.8" y1="218.4" x2="260.8" y2="221.4" stroke="#111" stroke-width="1"/>
<text transform="translate(258.78,231.5) scale(0.8700,1)" font-size="8.3" stroke="#111" stroke-width="0.25" fill="#111">0</text>
<line x1="281.47" y1="218.4" x2="281.47" y2="221.4" stroke="#111" stroke-width="1"/>
<text transform="translate(275.31,231.5) scale(0.8700,1)" font-size="8.3" stroke="#111" stroke-width="0.25" fill="#111">100</text>
<line x1="302.13" y1="218.4" x2="302.13" y2="221.4" stroke="#111" stroke-width="1"/>
<text transform="translate(296.07,231.5) scale(0.8700,1)" font-size="8.3" stroke="#111" stroke-width="0.25" fill="#111">200</text>
<line x1="322.8" y1="218.4" x2="322.8" y2="221.4" stroke="#111" stroke-width="1"/>
<text transform="translate(316.77,231.5) scale(0.8700,1)" font-size="8.3" stroke="#111" stroke-width="0.25" fill="#111">300</text>
<text transform="translate(263.41,244.5) scale(0.8871,1)" font-size="8.3" stroke="#111" stroke-width="0.25" fill="#111">MYC IHC (count)</text>
<line x1="352" y1="31.5" x2="505.6" y2="31.5" stroke="#111" stroke-width="1.1"/>
<line x1="352.5" y1="31" x2="352.5" y2="218.4" stroke="#111" stroke-width="1.1" stroke-dasharray="4.3 4.85"/>
<path d="M367.99 54.4 H381.81 M367.99 51.9 V56.9 M381.81 51.9 V56.9" stroke="#111" stroke-width="1.15" fill="none"/>
<path d="M374.7 50.45 L379.1 54.4 L374.7 58.35 L370.3 54.4 Z" fill="#55266c" stroke="#0a0a0a" stroke-width="1.2" stroke-linejoin="miter"/>
<text transform="translate(410.5,57.3) scale(1.0170,1)" font-size="8" stroke="#222" stroke-width="0.22" fill="#222">4.6 (2.9&#8211;7.5)</text>
<text transform="translate(469.62,57.3) scale(1.0450,1)" font-size="8" font-weight="bold" stroke="#000" stroke-width="0.3" fill="#000">&lt;0.0001</text>
<path d="M349.25 99.6 H371.14 M349.25 97.1 V102.1 M371.14 97.1 V102.1" stroke="#111" stroke-width="1.15" fill="none"/>
<path d="M360.22 95.65 L364.62 99.6 L360.22 103.55 L355.82 99.6 Z" fill="#2c5496" stroke="#0a0a0a" stroke-width="1.2" stroke-linejoin="miter"/>
<text transform="translate(410.27,102.5) scale(1.0170,1)" font-size="8" stroke="#222" stroke-width="0.22" fill="#222">1.7 (0.8&#8211;3.6)</text>
<text transform="translate(476.49,102.5) scale(1.0170,1)" font-size="8" stroke="#222" stroke-width="0.22" fill="#222">0.18</text>
<path d="M350.97 145.3 H361.84 M350.97 142.8 V147.8 M361.84 142.8 V147.8" stroke="#111" stroke-width="1.15" fill="none"/>
<path d="M356.32 141.35 L360.72 145.3 L356.32 149.25 L351.92 145.3 Z" fill="#3a785c" stroke="#0a0a0a" stroke-width="1.2" stroke-linejoin="miter"/>
<text transform="translate(410.27,148.2) scale(1.0170,1)" font-size="8" stroke="#222" stroke-width="0.22" fill="#222">1.3 (0.9&#8211;1.9)</text>
<text transform="translate(476.51,148.2) scale(1.0170,1)" font-size="8" stroke="#222" stroke-width="0.22" fill="#222">0.21</text>
<path d="M352.5 187.05 L356.9 191 L352.5 194.95 L348.1 191 Z" fill="#6a441f" stroke="#0a0a0a" stroke-width="1.2" stroke-linejoin="miter"/>
<text transform="translate(420.46,193.9) scale(1.0170,1)" font-size="8" stroke="#222" stroke-width="0.22" fill="#222">1 (1&#8211;1)</text>
<text transform="translate(482.02,193.9) scale(1.0170,1)" font-size="8" stroke="#222" stroke-width="0.22" fill="#222">1</text>
<line x1="343" y1="218.4" x2="409.4" y2="218.4" stroke="#111" stroke-width="1.2"/>
<line x1="352.5" y1="215.9" x2="352.5" y2="221.4" stroke="#111" stroke-width="1"/>
<text transform="translate(350.48,231.5) scale(0.8700,1)" font-size="8.3" stroke="#111" stroke-width="0.25" fill="#111">0</text>
<line x1="369.25" y1="215.9" x2="369.25" y2="221.4" stroke="#111" stroke-width="1"/>
<text transform="translate(364.23,231.5) scale(0.8700,1)" font-size="8.3" stroke="#111" stroke-width="0.25" fill="#111">0.5</text>
<line x1="386" y1="215.9" x2="386" y2="221.4" stroke="#111" stroke-width="1"/>
<text transform="translate(383.89,231.5) scale(0.8700,1)" font-size="8.3" stroke="#111" stroke-width="0.25" fill="#111">1</text>
<line x1="402.75" y1="215.9" x2="402.75" y2="221.4" stroke="#111" stroke-width="1"/>
<text transform="translate(397.61,231.5) scale(0.8700,1)" font-size="8.3" stroke="#111" stroke-width="0.25" fill="#111">1.5</text>
<text transform="translate(345.59,244.5) scale(0.9140,1)" font-size="8.3" stroke="#111" stroke-width="0.25" fill="#111">Log10 (odds ratio)</text>
<text transform="translate(6.96,275.8) scale(1.0474,1)" font-size="10.8" font-weight="bold" stroke="#000" stroke-width="0.3" fill="#000">B</text>
<text transform="translate(28.77,281.2) scale(1.0485,1)" font-size="9.2" font-weight="bold" stroke="#000" stroke-width="0.3" fill="#000">mRNA</text>
<text transform="translate(230.78,281.2) scale(1.0010,1)" font-size="9.5" font-weight="bold" stroke="#000" stroke-width="0.3" fill="#000">IHC</text>
<text transform="translate(411.58,287.3) scale(1.0438,1)" font-size="7.6" font-weight="bold" stroke="#000" stroke-width="0.3" fill="#000">OR (95% CI)</text>
<text transform="translate(482.38,287.3) scale(1.0000,1)" font-size="7.6" font-weight="bold" font-style="italic" stroke="#000" stroke-width="0.3" fill="#000">P</text>
<line x1="219.4" y1="265.8" x2="219.4" y2="509.5" stroke="#1a1a1a" stroke-width="1.2" stroke-dasharray="4.3 4.8"/>
<path d="M78.2 315.4 L78.71 315.38 L79.22 315.36 L79.73 315.34 L80.24 315.32 L80.75 315.31 L81.25 315.29 L81.76 315.27 L82.27 315.25 L82.78 315.23 L83.29 315.21 L83.8 315.19 L84.31 315.17 L84.82 315.14 L85.33 315.12 L85.84 315.1 L86.35 315.08 L86.85 315.07 L87.36 315.05 L87.87 315.03 L88.38 315.01 L88.89 314.99 L89.4 314.97 L89.91 314.95 L90.42 314.93 L90.93 314.92 L91.44 314.9 L91.95 314.88 L92.45 314.87 L92.96 314.85 L93.47 314.84 L93.98 314.83 L94.49 314.81 L95 314.8 L95.5 314.79 L96 314.78 L96.5 314.77 L97 314.77 L97.5 314.76 L98 314.75 L98.5 314.75 L99 314.74 L99.5 314.73 L100 314.72 L100.5 314.7 L101 314.69 L101.5 314.67 L102 314.64 L102.5 314.62 L103 314.58 L103.5 314.55 L104 314.5 L104.5 314.46 L105 314.4 L105.53 314.32 L106.06 314.22 L106.59 314.1 L107.12 313.95 L107.65 313.78 L108.18 313.6 L108.72 313.41 L109.25 313.2 L109.78 312.99 L110.31 312.77 L110.84 312.54 L111.37 312.32 L111.9 312.1 L112.43 311.87 L112.96 311.64 L113.49 311.39 L114.02 311.14 L114.55 310.88 L115.08 310.61 L115.62 310.34 L116.15 310.07 L116.68 309.79 L117.21 309.52 L117.74 309.24 L118.27 308.97 L118.8 308.7 L119.32 308.46 L119.84 308.25 L120.37 308.05 L120.89 307.86 L121.41 307.64 L121.93 307.4 L122.46 307.1 L122.98 306.74 L123.5 306.3 L124.07 305.69 L124.63 304.95 L125.2 304.13 L125.77 303.29 L126.33 302.46 L126.9 301.7 L127.4 301.05 L127.9 300.38 L128.4 299.7 L128.9 299.07 L129.4 298.5 L129.9 298.04 L130.4 297.7 L130.93 297.45 L131.45 297.25 L131.98 297.08 L132.51 296.96 L133.04 296.86 L133.56 296.79 L134.09 296.75 L134.62 296.72 L135.15 296.71 L135.67 296.7 L136.2 296.7 L136.71 296.72 L137.22 296.79 L137.73 296.91 L138.24 297.07 L138.76 297.3 L139.27 297.58 L139.78 297.92 L140.29 298.33 L140.8 298.8 L141.37 299.45 L141.93 300.25 L142.5 301.14 L143.07 302.1 L143.63 303.07 L144.2 304 L144.7 304.83 L145.2 305.72 L145.7 306.62 L146.2 307.51 L146.7 308.36 L147.2 309.13 L147.7 309.8 L148.21 310.38 L148.72 310.9 L149.23 311.35 L149.74 311.76 L150.26 312.12 L150.77 312.45 L151.28 312.75 L151.79 313.03 L152.3 313.3 L152.83 313.56 L153.35 313.8 L153.88 314.01 L154.41 314.2 L154.94 314.37 L155.46 314.51 L155.99 314.63 L156.52 314.73 L157.05 314.81 L157.57 314.86 L158.1 314.9 L158.62 314.92 L159.13 314.95 L159.65 314.97 L160.17 314.99 L160.69 315 L161.2 315.02 L161.72 315.03 L162.24 315.04 L162.76 315.05 L163.27 315.06 L163.79 315.06 L164.31 315.07 L164.83 315.07 L165.34 315.08 L165.86 315.08 L166.38 315.08 L166.9 315.09 L167.41 315.09 L167.93 315.09 L168.45 315.09 L168.97 315.09 L169.48 315.1 L170 315.1 L170.51 315.1 L171.01 315.11 L171.52 315.11 L172.02 315.12 L172.53 315.12 L173.03 315.13 L173.54 315.13 L174.04 315.14 L174.55 315.15 L175.05 315.15 L175.56 315.16 L176.06 315.17 L176.57 315.18 L177.08 315.19 L177.58 315.19 L178.09 315.2 L178.59 315.21 L179.1 315.22 L179.6 315.23 L180.11 315.24 L180.61 315.25 L181.12 315.26 L181.62 315.27 L182.13 315.28 L182.64 315.29 L183.14 315.3 L183.65 315.31 L184.15 315.32 L184.66 315.33 L185.16 315.34 L185.67 315.35 L186.17 315.36 L186.68 315.37 L187.18 315.37 L187.69 315.38 L188.19 315.39 L188.7 315.4 L188.7 315.4 L188.19 315.41 L187.69 315.42 L187.18 315.43 L186.68 315.43 L186.17 315.44 L185.67 315.45 L185.16 315.46 L184.66 315.47 L184.15 315.48 L183.65 315.49 L183.14 315.5 L182.64 315.51 L182.13 315.52 L181.62 315.53 L181.12 315.54 L180.61 315.55 L180.11 315.56 L179.6 315.57 L179.1 315.58 L178.59 315.59 L178.09 315.6 L177.58 315.61 L177.08 315.61 L176.57 315.62 L176.06 315.63 L175.56 315.64 L175.05 315.65 L174.55 315.65 L174.04 315.66 L173.54 315.67 L173.03 315.67 L172.53 315.68 L172.02 315.68 L171.52 315.69 L171.01 315.69 L170.51 315.7 L170 315.7 L169.48 315.7 L168.97 315.71 L168.45 315.71 L167.93 315.71 L167.41 315.71 L166.9 315.71 L166.38 315.72 L165.86 315.72 L165.34 315.72 L164.83 315.73 L164.31 315.73 L163.79 315.74 L163.27 315.74 L162.76 315.75 L162.24 315.76 L161.72 315.77 L161.2 315.78 L160.69 315.8 L160.17 315.81 L159.65 315.83 L159.13 315.85 L158.62 315.88 L158.1 315.9 L157.57 315.94 L157.05 315.99 L156.52 316.07 L155.99 316.17 L155.46 316.29 L154.94 316.43 L154.41 316.6 L153.88 316.79 L153.35 317 L152.83 317.24 L152.3 317.5 L151.79 317.77 L151.28 318.05 L150.77 318.35 L150.26 318.68 L149.74 319.04 L149.23 319.45 L148.72 319.9 L148.21 320.42 L147.7 321 L147.2 321.67 L146.7 322.44 L146.2 323.29 L145.7 324.18 L145.2 325.08 L144.7 325.97 L144.2 326.8 L143.63 327.73 L143.07 328.7 L142.5 329.66 L141.93 330.55 L141.37 331.35 L140.8 332 L140.29 332.47 L139.78 332.88 L139.27 333.22 L138.76 333.5 L138.24 333.73 L137.73 333.89 L137.22 334.01 L136.71 334.08 L136.2 334.1 L135.67 334.1 L135.15 334.09 L134.62 334.08 L134.09 334.05 L133.56 334.01 L133.04 333.94 L132.51 333.84 L131.98 333.72 L131.45 333.55 L130.93 333.35 L130.4 333.1 L129.9 332.76 L129.4 332.3 L128.9 331.73 L128.4 331.1 L127.9 330.42 L127.4 329.75 L126.9 329.1 L126.33 328.34 L125.77 327.51 L125.2 326.67 L124.63 325.85 L124.07 325.11 L123.5 324.5 L122.98 324.06 L122.46 323.7 L121.93 323.4 L121.41 323.16 L120.89 322.94 L120.37 322.75 L119.84 322.55 L119.32 322.34 L118.8 322.1 L118.27 321.83 L117.74 321.56 L117.21 321.28 L116.68 321.01 L116.15 320.73 L115.62 320.46 L115.08 320.19 L114.55 319.92 L114.02 319.66 L113.49 319.41 L112.96 319.16 L112.43 318.93 L111.9 318.7 L111.37 318.48 L110.84 318.26 L110.31 318.03 L109.78 317.81 L109.25 317.6 L108.72 317.39 L108.18 317.2 L107.65 317.02 L107.12 316.85 L106.59 316.7 L106.06 316.58 L105.53 316.48 L105 316.4 L104.5 316.34 L104 316.3 L103.5 316.25 L103 316.22 L102.5 316.18 L102 316.16 L101.5 316.13 L101 316.11 L100.5 316.1 L100 316.08 L99.5 316.07 L99 316.06 L98.5 316.05 L98 316.05 L97.5 316.04 L97 316.03 L96.5 316.03 L96 316.02 L95.5 316.01 L95 316 L94.49 315.99 L93.98 315.97 L93.47 315.96 L92.96 315.95 L92.45 315.93 L91.95 315.92 L91.44 315.9 L90.93 315.88 L90.42 315.87 L89.91 315.85 L89.4 315.83 L88.89 315.81 L88.38 315.79 L87.87 315.77 L87.36 315.75 L86.85 315.73 L86.35 315.72 L85.84 315.7 L85.33 315.68 L84.82 315.66 L84.31 315.63 L83.8 315.61 L83.29 315.59 L82.78 315.57 L82.27 315.55 L81.76 315.53 L81.25 315.51 L80.75 315.49 L80.24 315.48 L79.73 315.46 L79.22 315.44 L78.71 315.42 L78.2 315.4 Z" fill="#efe9f3" stroke="none"/>
<g fill="#693a8c" fill-opacity="0.72"><circle cx="136.07" cy="306.6" r="1.3"/><circle cx="131.96" cy="320.4" r="1.3"/><circle cx="128.37" cy="317.66" r="1.3"/><circle cx="145.11" cy="308.16" r="1.3"/><circle cx="121.06" cy="325.89" r="1.3"/><circle cx="142.44" cy="316.34" r="1.3"/><circle cx="132.71" cy="305.38" r="1.3"/><circle cx="135.55" cy="311.55" r="1.3"/><circle cx="142.02" cy="316.68" r="1.3"/><circle cx="125.7" cy="305.31" r="1.3"/><circle cx="140.42" cy="325.97" r="1.3"/><circle cx="141.59" cy="308.66" r="1.3"/><circle cx="137.48" cy="324.02" r="1.3"/><circle cx="118.19" cy="321.54" r="1.3"/><circle cx="157.11" cy="308.22" r="1.3"/><circle cx="130.1" cy="319.96" r="1.3"/><circle cx="122.18" cy="324.41" r="1.3"/><circle cx="130.91" cy="322.43" r="1.3"/><circle cx="148.1" cy="314.57" r="1.3"/><circle cx="119.32" cy="324.31" r="1.3"/><circle cx="126.3" cy="311.68" r="1.3"/><circle cx="133.57" cy="308.32" r="1.3"/><circle cx="130.62" cy="311.36" r="1.3"/><circle cx="153.78" cy="319.77" r="1.3"/><circle cx="119.29" cy="317.26" r="1.3"/><circle cx="131.47" cy="309.21" r="1.3"/><circle cx="145.15" cy="306.4" r="1.3"/><circle cx="127.66" cy="320.19" r="1.3"/><circle cx="138.65" cy="306.05" r="1.3"/><circle cx="147.65" cy="310.59" r="1.3"/><circle cx="136.19" cy="315.87" r="1.3"/><circle cx="129.83" cy="309.99" r="1.3"/><circle cx="140.29" cy="320" r="1.3"/><circle cx="118.96" cy="308.44" r="1.3"/><circle cx="126.21" cy="306.56" r="1.3"/><circle cx="148.17" cy="305.25" r="1.3"/><circle cx="135.44" cy="322.04" r="1.3"/><circle cx="138.89" cy="312.97" r="1.3"/><circle cx="182.98" cy="308.01" r="1.3"/><circle cx="117.11" cy="317.84" r="1.3"/><circle cx="146.32" cy="307.2" r="1.3"/><circle cx="143.17" cy="321.04" r="1.3"/><circle cx="134.99" cy="323.92" r="1.3"/><circle cx="142.64" cy="314.82" r="1.3"/><circle cx="121.7" cy="318.81" r="1.3"/><circle cx="141.3" cy="323.34" r="1.3"/><circle cx="141.67" cy="313.13" r="1.3"/><circle cx="139.19" cy="307.85" r="1.3"/><circle cx="132.26" cy="313.7" r="1.3"/><circle cx="138.91" cy="307.78" r="1.3"/><circle cx="85.42" cy="308.22" r="1.3"/><circle cx="146.78" cy="315.58" r="1.3"/><circle cx="145.95" cy="324.6" r="1.3"/><circle cx="134.13" cy="310.12" r="1.3"/><circle cx="143.24" cy="318.03" r="1.3"/><circle cx="131.16" cy="313.77" r="1.3"/><circle cx="125.92" cy="304.9" r="1.3"/><circle cx="123.69" cy="307.16" r="1.3"/><circle cx="133.25" cy="308.65" r="1.3"/><circle cx="137.35" cy="309.41" r="1.3"/><circle cx="125.02" cy="318.41" r="1.3"/><circle cx="134.81" cy="324.02" r="1.3"/><circle cx="131.66" cy="315.64" r="1.3"/><circle cx="122.96" cy="305.89" r="1.3"/><circle cx="127.07" cy="306.79" r="1.3"/><circle cx="132.06" cy="312.56" r="1.3"/><circle cx="144.49" cy="310.94" r="1.3"/><circle cx="126.82" cy="312.69" r="1.3"/><circle cx="151.9" cy="306.94" r="1.3"/><circle cx="140.65" cy="305.13" r="1.3"/><circle cx="121.04" cy="313.51" r="1.3"/><circle cx="136.28" cy="306.36" r="1.3"/><circle cx="145.23" cy="312.71" r="1.3"/><circle cx="147.13" cy="308.88" r="1.3"/><circle cx="140.37" cy="313.11" r="1.3"/><circle cx="133.21" cy="307.38" r="1.3"/><circle cx="90.21" cy="322.82" r="1.3"/><circle cx="123.48" cy="325.14" r="1.3"/><circle cx="146.77" cy="321.28" r="1.3"/><circle cx="135.15" cy="315.36" r="1.3"/><circle cx="116.61" cy="310.5" r="1.3"/><circle cx="137.54" cy="314.92" r="1.3"/><circle cx="140.38" cy="322.52" r="1.3"/><circle cx="112.24" cy="309.71" r="1.3"/><circle cx="132.41" cy="319.2" r="1.3"/><circle cx="143.02" cy="317.22" r="1.3"/><circle cx="140.34" cy="325.95" r="1.3"/><circle cx="138.05" cy="313.64" r="1.3"/><circle cx="90.79" cy="323.78" r="1.3"/><circle cx="130.02" cy="311.08" r="1.3"/><circle cx="129" cy="319.02" r="1.3"/><circle cx="122.27" cy="307.18" r="1.3"/><circle cx="137.34" cy="324.94" r="1.3"/><circle cx="142.43" cy="319.97" r="1.3"/><circle cx="139.51" cy="323.77" r="1.3"/><circle cx="130.2" cy="325.9" r="1.3"/><circle cx="123.75" cy="316.96" r="1.3"/><circle cx="130.84" cy="317.42" r="1.3"/><circle cx="133.84" cy="308.62" r="1.3"/><circle cx="123.38" cy="319.86" r="1.3"/><circle cx="134.06" cy="319.75" r="1.3"/><circle cx="141.27" cy="320.61" r="1.3"/><circle cx="130.99" cy="320.95" r="1.3"/><circle cx="135.07" cy="313.34" r="1.3"/><circle cx="146.07" cy="325.52" r="1.3"/><circle cx="143.59" cy="319.89" r="1.3"/><circle cx="133.77" cy="318.58" r="1.3"/><circle cx="155.62" cy="320.26" r="1.3"/><circle cx="135.45" cy="323.99" r="1.3"/><circle cx="147.1" cy="321.06" r="1.3"/><circle cx="143.31" cy="320.58" r="1.3"/><circle cx="139.17" cy="307.72" r="1.3"/><circle cx="149.01" cy="314.01" r="1.3"/><circle cx="123.25" cy="309.15" r="1.3"/><circle cx="128.7" cy="306.34" r="1.3"/><circle cx="131.51" cy="322.55" r="1.3"/><circle cx="133.32" cy="319.11" r="1.3"/><circle cx="122.06" cy="310.46" r="1.3"/><circle cx="136.82" cy="320.78" r="1.3"/><circle cx="133.67" cy="320.71" r="1.3"/><circle cx="121.25" cy="321.49" r="1.3"/><circle cx="141.04" cy="307.66" r="1.3"/><circle cx="125.18" cy="311.05" r="1.3"/><circle cx="138.86" cy="325.3" r="1.3"/><circle cx="140.19" cy="316.21" r="1.3"/><circle cx="115.02" cy="311.34" r="1.3"/><circle cx="139.76" cy="315.06" r="1.3"/><circle cx="136.26" cy="322.28" r="1.3"/><circle cx="131.06" cy="318.5" r="1.3"/><circle cx="127.59" cy="322.62" r="1.3"/><circle cx="146.6" cy="313.09" r="1.3"/><circle cx="125.2" cy="322.84" r="1.3"/><circle cx="127.38" cy="309.74" r="1.3"/><circle cx="127.1" cy="309.72" r="1.3"/><circle cx="137.47" cy="322.15" r="1.3"/><circle cx="131.79" cy="312.53" r="1.3"/><circle cx="142.29" cy="308.33" r="1.3"/><circle cx="137.91" cy="310.99" r="1.3"/><circle cx="142.05" cy="318.36" r="1.3"/><circle cx="128.16" cy="311.72" r="1.3"/><circle cx="106.26" cy="308.82" r="1.3"/><circle cx="126.75" cy="321.66" r="1.3"/><circle cx="139.35" cy="321.94" r="1.3"/><circle cx="118.67" cy="312.06" r="1.3"/><circle cx="143.38" cy="324.43" r="1.3"/><circle cx="124.47" cy="320.54" r="1.3"/><circle cx="111.47" cy="323.23" r="1.3"/><circle cx="133.59" cy="310.98" r="1.3"/><circle cx="106.59" cy="319.02" r="1.3"/><circle cx="128.34" cy="325.1" r="1.3"/><circle cx="136.6" cy="314.9" r="1.3"/><circle cx="142.4" cy="307.49" r="1.3"/><circle cx="117.78" cy="312.41" r="1.3"/><circle cx="155.27" cy="323.52" r="1.3"/><circle cx="122.05" cy="309.82" r="1.3"/><circle cx="137.62" cy="313.07" r="1.3"/><circle cx="129.48" cy="311.51" r="1.3"/><circle cx="128.87" cy="306.81" r="1.3"/><circle cx="135.04" cy="313.71" r="1.3"/><circle cx="139.93" cy="312.07" r="1.3"/><circle cx="133.81" cy="311.93" r="1.3"/><circle cx="146.02" cy="321.08" r="1.3"/><circle cx="96.69" cy="322.84" r="1.3"/><circle cx="133.91" cy="315.89" r="1.3"/><circle cx="128.01" cy="311.97" r="1.3"/><circle cx="125.68" cy="325.94" r="1.3"/><circle cx="126.92" cy="314.84" r="1.3"/><circle cx="125.61" cy="317.47" r="1.3"/><circle cx="149.54" cy="316.22" r="1.3"/><circle cx="151.17" cy="314.44" r="1.3"/><circle cx="131.73" cy="315.93" r="1.3"/><circle cx="93.04" cy="325.9" r="1.3"/><circle cx="177.61" cy="319.21" r="1.3"/><circle cx="140.18" cy="321.72" r="1.3"/><circle cx="92.81" cy="312.23" r="1.3"/><circle cx="136.79" cy="307.91" r="1.3"/><circle cx="154.23" cy="318.57" r="1.3"/><circle cx="173.67" cy="309.92" r="1.3"/><circle cx="146.84" cy="316.65" r="1.3"/><circle cx="133.22" cy="306.08" r="1.3"/><circle cx="148.39" cy="315.89" r="1.3"/><circle cx="124.36" cy="323.36" r="1.3"/><circle cx="132.19" cy="307.59" r="1.3"/><circle cx="93.04" cy="309.29" r="1.3"/><circle cx="103.95" cy="312.84" r="1.3"/><circle cx="145.98" cy="320.01" r="1.3"/><circle cx="117.03" cy="324.24" r="1.3"/><circle cx="146.82" cy="318.1" r="1.3"/><circle cx="143.78" cy="312.8" r="1.3"/><circle cx="123.9" cy="313.24" r="1.3"/><circle cx="137.22" cy="322" r="1.3"/><circle cx="125.34" cy="321.03" r="1.3"/><circle cx="134.32" cy="309.66" r="1.3"/><circle cx="128.62" cy="305.45" r="1.3"/><circle cx="119.79" cy="309.08" r="1.3"/><circle cx="121.01" cy="318.06" r="1.3"/><circle cx="126.43" cy="319.7" r="1.3"/><circle cx="148.61" cy="322.25" r="1.3"/><circle cx="137.83" cy="317.48" r="1.3"/><circle cx="101.98" cy="307.1" r="1.3"/><circle cx="127.13" cy="325.06" r="1.3"/><circle cx="131.32" cy="323.86" r="1.3"/><circle cx="131.31" cy="322.27" r="1.3"/></g>
<path d="M78.2 315.4 L78.71 315.38 L79.22 315.36 L79.73 315.34 L80.24 315.32 L80.75 315.31 L81.25 315.29 L81.76 315.27 L82.27 315.25 L82.78 315.23 L83.29 315.21 L83.8 315.19 L84.31 315.17 L84.82 315.14 L85.33 315.12 L85.84 315.1 L86.35 315.08 L86.85 315.07 L87.36 315.05 L87.87 315.03 L88.38 315.01 L88.89 314.99 L89.4 314.97 L89.91 314.95 L90.42 314.93 L90.93 314.92 L91.44 314.9 L91.95 314.88 L92.45 314.87 L92.96 314.85 L93.47 314.84 L93.98 314.83 L94.49 314.81 L95 314.8 L95.5 314.79 L96 314.78 L96.5 314.77 L97 314.77 L97.5 314.76 L98 314.75 L98.5 314.75 L99 314.74 L99.5 314.73 L100 314.72 L100.5 314.7 L101 314.69 L101.5 314.67 L102 314.64 L102.5 314.62 L103 314.58 L103.5 314.55 L104 314.5 L104.5 314.46 L105 314.4 L105.53 314.32 L106.06 314.22 L106.59 314.1 L107.12 313.95 L107.65 313.78 L108.18 313.6 L108.72 313.41 L109.25 313.2 L109.78 312.99 L110.31 312.77 L110.84 312.54 L111.37 312.32 L111.9 312.1 L112.43 311.87 L112.96 311.64 L113.49 311.39 L114.02 311.14 L114.55 310.88 L115.08 310.61 L115.62 310.34 L116.15 310.07 L116.68 309.79 L117.21 309.52 L117.74 309.24 L118.27 308.97 L118.8 308.7 L119.32 308.46 L119.84 308.25 L120.37 308.05 L120.89 307.86 L121.41 307.64 L121.93 307.4 L122.46 307.1 L122.98 306.74 L123.5 306.3 L124.07 305.69 L124.63 304.95 L125.2 304.13 L125.77 303.29 L126.33 302.46 L126.9 301.7 L127.4 301.05 L127.9 300.38 L128.4 299.7 L128.9 299.07 L129.4 298.5 L129.9 298.04 L130.4 297.7 L130.93 297.45 L131.45 297.25 L131.98 297.08 L132.51 296.96 L133.04 296.86 L133.56 296.79 L134.09 296.75 L134.62 296.72 L135.15 296.71 L135.67 296.7 L136.2 296.7 L136.71 296.72 L137.22 296.79 L137.73 296.91 L138.24 297.07 L138.76 297.3 L139.27 297.58 L139.78 297.92 L140.29 298.33 L140.8 298.8 L141.37 299.45 L141.93 300.25 L142.5 301.14 L143.07 302.1 L143.63 303.07 L144.2 304 L144.7 304.83 L145.2 305.72 L145.7 306.62 L146.2 307.51 L146.7 308.36 L147.2 309.13 L147.7 309.8 L148.21 310.38 L148.72 310.9 L149.23 311.35 L149.74 311.76 L150.26 312.12 L150.77 312.45 L151.28 312.75 L151.79 313.03 L152.3 313.3 L152.83 313.56 L153.35 313.8 L153.88 314.01 L154.41 314.2 L154.94 314.37 L155.46 314.51 L155.99 314.63 L156.52 314.73 L157.05 314.81 L157.57 314.86 L158.1 314.9 L158.62 314.92 L159.13 314.95 L159.65 314.97 L160.17 314.99 L160.69 315 L161.2 315.02 L161.72 315.03 L162.24 315.04 L162.76 315.05 L163.27 315.06 L163.79 315.06 L164.31 315.07 L164.83 315.07 L165.34 315.08 L165.86 315.08 L166.38 315.08 L166.9 315.09 L167.41 315.09 L167.93 315.09 L168.45 315.09 L168.97 315.09 L169.48 315.1 L170 315.1 L170.51 315.1 L171.01 315.11 L171.52 315.11 L172.02 315.12 L172.53 315.12 L173.03 315.13 L173.54 315.13 L174.04 315.14 L174.55 315.15 L175.05 315.15 L175.56 315.16 L176.06 315.17 L176.57 315.18 L177.08 315.19 L177.58 315.19 L178.09 315.2 L178.59 315.21 L179.1 315.22 L179.6 315.23 L180.11 315.24 L180.61 315.25 L181.12 315.26 L181.62 315.27 L182.13 315.28 L182.64 315.29 L183.14 315.3 L183.65 315.31 L184.15 315.32 L184.66 315.33 L185.16 315.34 L185.67 315.35 L186.17 315.36 L186.68 315.37 L187.18 315.37 L187.69 315.38 L188.19 315.39 L188.7 315.4 L188.7 315.4 L188.19 315.41 L187.69 315.42 L187.18 315.43 L186.68 315.43 L186.17 315.44 L185.67 315.45 L185.16 315.46 L184.66 315.47 L184.15 315.48 L183.65 315.49 L183.14 315.5 L182.64 315.51 L182.13 315.52 L181.62 315.53 L181.12 315.54 L180.61 315.55 L180.11 315.56 L179.6 315.57 L179.1 315.58 L178.59 315.59 L178.09 315.6 L177.58 315.61 L177.08 315.61 L176.57 315.62 L176.06 315.63 L175.56 315.64 L175.05 315.65 L174.55 315.65 L174.04 315.66 L173.54 315.67 L173.03 315.67 L172.53 315.68 L172.02 315.68 L171.52 315.69 L171.01 315.69 L170.51 315.7 L170 315.7 L169.48 315.7 L168.97 315.71 L168.45 315.71 L167.93 315.71 L167.41 315.71 L166.9 315.71 L166.38 315.72 L165.86 315.72 L165.34 315.72 L164.83 315.73 L164.31 315.73 L163.79 315.74 L163.27 315.74 L162.76 315.75 L162.24 315.76 L161.72 315.77 L161.2 315.78 L160.69 315.8 L160.17 315.81 L159.65 315.83 L159.13 315.85 L158.62 315.88 L158.1 315.9 L157.57 315.94 L157.05 315.99 L156.52 316.07 L155.99 316.17 L155.46 316.29 L154.94 316.43 L154.41 316.6 L153.88 316.79 L153.35 317 L152.83 317.24 L152.3 317.5 L151.79 317.77 L151.28 318.05 L150.77 318.35 L150.26 318.68 L149.74 319.04 L149.23 319.45 L148.72 319.9 L148.21 320.42 L147.7 321 L147.2 321.67 L146.7 322.44 L146.2 323.29 L145.7 324.18 L145.2 325.08 L144.7 325.97 L144.2 326.8 L143.63 327.73 L143.07 328.7 L142.5 329.66 L141.93 330.55 L141.37 331.35 L140.8 332 L140.29 332.47 L139.78 332.88 L139.27 333.22 L138.76 333.5 L138.24 333.73 L137.73 333.89 L137.22 334.01 L136.71 334.08 L136.2 334.1 L135.67 334.1 L135.15 334.09 L134.62 334.08 L134.09 334.05 L133.56 334.01 L133.04 333.94 L132.51 333.84 L131.98 333.72 L131.45 333.55 L130.93 333.35 L130.4 333.1 L129.9 332.76 L129.4 332.3 L128.9 331.73 L128.4 331.1 L127.9 330.42 L127.4 329.75 L126.9 329.1 L126.33 328.34 L125.77 327.51 L125.2 326.67 L124.63 325.85 L124.07 325.11 L123.5 324.5 L122.98 324.06 L122.46 323.7 L121.93 323.4 L121.41 323.16 L120.89 322.94 L120.37 322.75 L119.84 322.55 L119.32 322.34 L118.8 322.1 L118.27 321.83 L117.74 321.56 L117.21 321.28 L116.68 321.01 L116.15 320.73 L115.62 320.46 L115.08 320.19 L114.55 319.92 L114.02 319.66 L113.49 319.41 L112.96 319.16 L112.43 318.93 L111.9 318.7 L111.37 318.48 L110.84 318.26 L110.31 318.03 L109.78 317.81 L109.25 317.6 L108.72 317.39 L108.18 317.2 L107.65 317.02 L107.12 316.85 L106.59 316.7 L106.06 316.58 L105.53 316.48 L105 316.4 L104.5 316.34 L104 316.3 L103.5 316.25 L103 316.22 L102.5 316.18 L102 316.16 L101.5 316.13 L101 316.11 L100.5 316.1 L100 316.08 L99.5 316.07 L99 316.06 L98.5 316.05 L98 316.05 L97.5 316.04 L97 316.03 L96.5 316.03 L96 316.02 L95.5 316.01 L95 316 L94.49 315.99 L93.98 315.97 L93.47 315.96 L92.96 315.95 L92.45 315.93 L91.95 315.92 L91.44 315.9 L90.93 315.88 L90.42 315.87 L89.91 315.85 L89.4 315.83 L88.89 315.81 L88.38 315.79 L87.87 315.77 L87.36 315.75 L86.85 315.73 L86.35 315.72 L85.84 315.7 L85.33 315.68 L84.82 315.66 L84.31 315.63 L83.8 315.61 L83.29 315.59 L82.78 315.57 L82.27 315.55 L81.76 315.53 L81.25 315.51 L80.75 315.49 L80.24 315.48 L79.73 315.46 L79.22 315.44 L78.71 315.42 L78.2 315.4 Z" fill="none" stroke="#55276f" stroke-width="1.25" stroke-linejoin="round"/>
<rect x="131.5" y="311.5" width="3.4" height="8.3" fill="#4a2463" stroke="#0d0d0d" stroke-width="1"/>
<line x1="133.2" y1="311.5" x2="133.2" y2="319.8" stroke="#0d0d0d" stroke-width="1"/>
<text transform="translate(40.33,320.5) scale(0.91,1)" font-size="8.6" fill="#111" stroke="#111" stroke-width="0.2"><tspan font-style="italic">BCL2</tspan><tspan font-size="5.8" dy="-2.9">Tr</tspan></text>
<text transform="translate(198.8,302.03) rotate(90) scale(0.9548,1)" font-size="7.8" stroke="#111" stroke-width="0.12" fill="#111">&lt;0.0001</text>
<path d="M73.5 359.2 L74 359.2 L74.5 359.19 L75 359.19 L75.5 359.19 L76 359.19 L76.5 359.18 L77 359.18 L77.5 359.18 L78 359.18 L78.5 359.17 L79 359.17 L79.5 359.17 L80 359.17 L80.5 359.16 L81 359.16 L81.5 359.16 L82 359.16 L82.5 359.15 L83 359.15 L83.5 359.15 L84 359.14 L84.5 359.14 L85 359.14 L85.5 359.13 L86 359.13 L86.5 359.13 L87 359.12 L87.5 359.12 L88 359.12 L88.5 359.11 L89 359.11 L89.5 359.1 L90 359.1 L90.52 359.1 L91.04 359.09 L91.56 359.09 L92.08 359.09 L92.6 359.08 L93.12 359.08 L93.64 359.07 L94.16 359.07 L94.68 359.06 L95.2 359.05 L95.72 359.04 L96.24 359.03 L96.76 359.01 L97.28 358.99 L97.8 358.97 L98.32 358.94 L98.84 358.91 L99.36 358.88 L99.88 358.84 L100.4 358.8 L100.91 358.74 L101.41 358.67 L101.92 358.57 L102.42 358.46 L102.93 358.32 L103.44 358.18 L103.94 358.02 L104.45 357.86 L104.95 357.69 L105.46 357.51 L105.96 357.33 L106.47 357.15 L106.98 356.97 L107.48 356.79 L107.99 356.62 L108.49 356.45 L109 356.3 L109.51 356.15 L110.02 356 L110.54 355.85 L111.05 355.7 L111.56 355.55 L112.07 355.4 L112.58 355.25 L113.09 355.1 L113.61 354.95 L114.12 354.8 L114.63 354.65 L115.14 354.49 L115.65 354.34 L116.16 354.18 L116.68 354.02 L117.19 353.86 L117.7 353.7 L118.21 353.54 L118.71 353.38 L119.22 353.22 L119.72 353.06 L120.23 352.9 L120.74 352.74 L121.24 352.58 L121.75 352.42 L122.25 352.25 L122.76 352.08 L123.26 351.91 L123.77 351.74 L124.28 351.56 L124.78 351.38 L125.29 351.19 L125.79 351 L126.3 350.8 L126.8 350.6 L127.3 350.38 L127.8 350.16 L128.3 349.92 L128.8 349.69 L129.3 349.45 L129.8 349.2 L130.3 348.96 L130.8 348.72 L131.3 348.48 L131.8 348.25 L132.3 348.02 L132.8 347.81 L133.3 347.6 L133.83 347.38 L134.36 347.14 L134.89 346.9 L135.42 346.65 L135.95 346.4 L136.48 346.17 L137.02 345.94 L137.55 345.74 L138.08 345.56 L138.61 345.41 L139.14 345.3 L139.67 345.23 L140.2 345.2 L140.72 345.2 L141.24 345.21 L141.76 345.23 L142.28 345.25 L142.8 345.29 L143.32 345.35 L143.84 345.43 L144.36 345.53 L144.88 345.65 L145.4 345.8 L145.93 345.98 L146.46 346.18 L146.99 346.41 L147.52 346.65 L148.05 346.91 L148.58 347.18 L149.12 347.47 L149.65 347.77 L150.18 348.08 L150.71 348.4 L151.24 348.73 L151.77 349.06 L152.3 349.4 L152.83 349.75 L153.36 350.13 L153.89 350.53 L154.42 350.94 L154.95 351.36 L155.48 351.79 L156.02 352.22 L156.55 352.65 L157.08 353.07 L157.61 353.48 L158.14 353.88 L158.67 354.25 L159.2 354.6 L159.73 354.93 L160.26 355.26 L160.79 355.59 L161.32 355.9 L161.85 356.21 L162.38 356.51 L162.92 356.79 L163.45 357.06 L163.98 357.31 L164.51 357.54 L165.04 357.75 L165.57 357.94 L166.1 358.1 L166.62 358.24 L167.14 358.36 L167.66 358.48 L168.18 358.57 L168.7 358.66 L169.22 358.73 L169.74 358.8 L170.26 358.85 L170.78 358.9 L171.3 358.94 L171.82 358.97 L172.34 358.99 L172.86 359.01 L173.38 359.03 L173.9 359.04 L174.42 359.06 L174.94 359.07 L175.46 359.08 L175.98 359.09 L176.5 359.1 L177.01 359.11 L177.52 359.12 L178.03 359.13 L178.54 359.14 L179.05 359.15 L179.55 359.16 L180.06 359.16 L180.57 359.17 L181.08 359.17 L181.59 359.18 L182.1 359.18 L182.61 359.18 L183.12 359.19 L183.63 359.19 L184.14 359.19 L184.65 359.19 L185.15 359.19 L185.66 359.19 L186.17 359.19 L186.68 359.2 L187.19 359.2 L187.7 359.2 L187.7 359.2 L187.19 359.2 L186.68 359.2 L186.17 359.21 L185.66 359.21 L185.15 359.21 L184.65 359.21 L184.14 359.21 L183.63 359.21 L183.12 359.21 L182.61 359.22 L182.1 359.22 L181.59 359.22 L181.08 359.23 L180.57 359.23 L180.06 359.24 L179.55 359.24 L179.05 359.25 L178.54 359.26 L178.03 359.27 L177.52 359.28 L177.01 359.29 L176.5 359.3 L175.98 359.31 L175.46 359.32 L174.94 359.33 L174.42 359.34 L173.9 359.36 L173.38 359.37 L172.86 359.39 L172.34 359.41 L171.82 359.43 L171.3 359.46 L170.78 359.5 L170.26 359.55 L169.74 359.6 L169.22 359.67 L168.7 359.74 L168.18 359.83 L167.66 359.92 L167.14 360.04 L166.62 360.16 L166.1 360.3 L165.57 360.46 L165.04 360.65 L164.51 360.86 L163.98 361.09 L163.45 361.34 L162.92 361.61 L162.38 361.89 L161.85 362.19 L161.32 362.5 L160.79 362.81 L160.26 363.14 L159.73 363.47 L159.2 363.8 L158.67 364.15 L158.14 364.52 L157.61 364.92 L157.08 365.33 L156.55 365.75 L156.02 366.18 L155.48 366.61 L154.95 367.04 L154.42 367.46 L153.89 367.87 L153.36 368.27 L152.83 368.65 L152.3 369 L151.77 369.34 L151.24 369.67 L150.71 370 L150.18 370.32 L149.65 370.63 L149.12 370.93 L148.58 371.22 L148.05 371.49 L147.52 371.75 L146.99 371.99 L146.46 372.22 L145.93 372.42 L145.4 372.6 L144.88 372.75 L144.36 372.87 L143.84 372.97 L143.32 373.05 L142.8 373.11 L142.28 373.15 L141.76 373.17 L141.24 373.19 L140.72 373.2 L140.2 373.2 L139.67 373.17 L139.14 373.1 L138.61 372.99 L138.08 372.84 L137.55 372.66 L137.02 372.46 L136.48 372.23 L135.95 372 L135.42 371.75 L134.89 371.5 L134.36 371.26 L133.83 371.02 L133.3 370.8 L132.8 370.59 L132.3 370.38 L131.8 370.15 L131.3 369.92 L130.8 369.68 L130.3 369.44 L129.8 369.2 L129.3 368.95 L128.8 368.71 L128.3 368.48 L127.8 368.24 L127.3 368.02 L126.8 367.8 L126.3 367.6 L125.79 367.4 L125.29 367.21 L124.78 367.02 L124.28 366.84 L123.77 366.66 L123.26 366.49 L122.76 366.32 L122.25 366.15 L121.75 365.98 L121.24 365.82 L120.74 365.66 L120.23 365.5 L119.72 365.34 L119.22 365.18 L118.71 365.02 L118.21 364.86 L117.7 364.7 L117.19 364.54 L116.68 364.38 L116.16 364.22 L115.65 364.06 L115.14 363.91 L114.63 363.75 L114.12 363.6 L113.61 363.45 L113.09 363.3 L112.58 363.15 L112.07 363 L111.56 362.85 L111.05 362.7 L110.54 362.55 L110.02 362.4 L109.51 362.25 L109 362.1 L108.49 361.95 L107.99 361.78 L107.48 361.61 L106.98 361.43 L106.47 361.25 L105.96 361.07 L105.46 360.89 L104.95 360.71 L104.45 360.54 L103.94 360.38 L103.44 360.22 L102.93 360.08 L102.42 359.94 L101.92 359.83 L101.41 359.73 L100.91 359.66 L100.4 359.6 L99.88 359.56 L99.36 359.52 L98.84 359.49 L98.32 359.46 L97.8 359.43 L97.28 359.41 L96.76 359.39 L96.24 359.37 L95.72 359.36 L95.2 359.35 L94.68 359.34 L94.16 359.33 L93.64 359.33 L93.12 359.32 L92.6 359.32 L92.08 359.31 L91.56 359.31 L91.04 359.31 L90.52 359.3 L90 359.3 L89.5 359.3 L89 359.29 L88.5 359.29 L88 359.28 L87.5 359.28 L87 359.28 L86.5 359.27 L86 359.27 L85.5 359.27 L85 359.26 L84.5 359.26 L84 359.26 L83.5 359.25 L83 359.25 L82.5 359.25 L82 359.24 L81.5 359.24 L81 359.24 L80.5 359.24 L80 359.23 L79.5 359.23 L79 359.23 L78.5 359.23 L78 359.22 L77.5 359.22 L77 359.22 L76.5 359.22 L76 359.21 L75.5 359.21 L75 359.21 L74.5 359.21 L74 359.2 L73.5 359.2 Z" fill="#e9eef6" stroke="none"/>
<g fill="#5a7fb8" fill-opacity="0.68"><circle cx="145.93" cy="354.48" r="1.25"/><circle cx="126.76" cy="357.41" r="1.25"/><circle cx="132.8" cy="358.25" r="1.25"/><circle cx="151.45" cy="354.37" r="1.25"/><circle cx="150.96" cy="353.15" r="1.25"/><circle cx="126.36" cy="359.74" r="1.25"/><circle cx="135.17" cy="352.86" r="1.25"/><circle cx="130.65" cy="358.09" r="1.25"/><circle cx="118.24" cy="355.93" r="1.25"/><circle cx="137.78" cy="358.69" r="1.25"/><circle cx="126.36" cy="360.75" r="1.25"/><circle cx="145.81" cy="352.21" r="1.25"/><circle cx="143.43" cy="361.65" r="1.25"/><circle cx="131.45" cy="367.36" r="1.25"/><circle cx="135.09" cy="366.34" r="1.25"/><circle cx="145.65" cy="348.87" r="1.25"/><circle cx="141.34" cy="355.36" r="1.25"/><circle cx="147.85" cy="363.95" r="1.25"/><circle cx="126.35" cy="366.27" r="1.25"/><circle cx="135.86" cy="351.4" r="1.25"/><circle cx="138.19" cy="356.56" r="1.25"/><circle cx="136.58" cy="367.98" r="1.25"/><circle cx="142.56" cy="359.11" r="1.25"/><circle cx="143.93" cy="354.95" r="1.25"/><circle cx="134.53" cy="368.23" r="1.25"/><circle cx="130.98" cy="361.14" r="1.25"/><circle cx="114.59" cy="359.71" r="1.25"/><circle cx="138.99" cy="362.71" r="1.25"/><circle cx="139.44" cy="356.89" r="1.25"/><circle cx="142.17" cy="369.17" r="1.25"/><circle cx="126.42" cy="353.16" r="1.25"/><circle cx="139.85" cy="359.89" r="1.25"/><circle cx="162.4" cy="362.9" r="1.25"/><circle cx="146.81" cy="357.11" r="1.25"/><circle cx="153.59" cy="350.74" r="1.25"/><circle cx="117.2" cy="360.91" r="1.25"/><circle cx="135.38" cy="364.17" r="1.25"/><circle cx="151.53" cy="351.34" r="1.25"/><circle cx="113.66" cy="360" r="1.25"/><circle cx="140.12" cy="362.3" r="1.25"/><circle cx="150.29" cy="350.44" r="1.25"/><circle cx="147.17" cy="357.87" r="1.25"/><circle cx="112.71" cy="362.6" r="1.25"/><circle cx="148.56" cy="355.81" r="1.25"/><circle cx="134.15" cy="361.45" r="1.25"/><circle cx="153.44" cy="356.3" r="1.25"/><circle cx="123.74" cy="367.59" r="1.25"/><circle cx="121.65" cy="369.11" r="1.25"/><circle cx="115.27" cy="366.36" r="1.25"/><circle cx="143.83" cy="369.78" r="1.25"/><circle cx="141.11" cy="360.05" r="1.25"/><circle cx="134.35" cy="357.83" r="1.25"/><circle cx="139.8" cy="349.55" r="1.25"/><circle cx="131.08" cy="369.09" r="1.25"/><circle cx="133.34" cy="367.77" r="1.25"/><circle cx="107.21" cy="365.31" r="1.25"/></g>
<path d="M73.5 359.2 L74 359.2 L74.5 359.19 L75 359.19 L75.5 359.19 L76 359.19 L76.5 359.18 L77 359.18 L77.5 359.18 L78 359.18 L78.5 359.17 L79 359.17 L79.5 359.17 L80 359.17 L80.5 359.16 L81 359.16 L81.5 359.16 L82 359.16 L82.5 359.15 L83 359.15 L83.5 359.15 L84 359.14 L84.5 359.14 L85 359.14 L85.5 359.13 L86 359.13 L86.5 359.13 L87 359.12 L87.5 359.12 L88 359.12 L88.5 359.11 L89 359.11 L89.5 359.1 L90 359.1 L90.52 359.1 L91.04 359.09 L91.56 359.09 L92.08 359.09 L92.6 359.08 L93.12 359.08 L93.64 359.07 L94.16 359.07 L94.68 359.06 L95.2 359.05 L95.72 359.04 L96.24 359.03 L96.76 359.01 L97.28 358.99 L97.8 358.97 L98.32 358.94 L98.84 358.91 L99.36 358.88 L99.88 358.84 L100.4 358.8 L100.91 358.74 L101.41 358.67 L101.92 358.57 L102.42 358.46 L102.93 358.32 L103.44 358.18 L103.94 358.02 L104.45 357.86 L104.95 357.69 L105.46 357.51 L105.96 357.33 L106.47 357.15 L106.98 356.97 L107.48 356.79 L107.99 356.62 L108.49 356.45 L109 356.3 L109.51 356.15 L110.02 356 L110.54 355.85 L111.05 355.7 L111.56 355.55 L112.07 355.4 L112.58 355.25 L113.09 355.1 L113.61 354.95 L114.12 354.8 L114.63 354.65 L115.14 354.49 L115.65 354.34 L116.16 354.18 L116.68 354.02 L117.19 353.86 L117.7 353.7 L118.21 353.54 L118.71 353.38 L119.22 353.22 L119.72 353.06 L120.23 352.9 L120.74 352.74 L121.24 352.58 L121.75 352.42 L122.25 352.25 L122.76 352.08 L123.26 351.91 L123.77 351.74 L124.28 351.56 L124.78 351.38 L125.29 351.19 L125.79 351 L126.3 350.8 L126.8 350.6 L127.3 350.38 L127.8 350.16 L128.3 349.92 L128.8 349.69 L129.3 349.45 L129.8 349.2 L130.3 348.96 L130.8 348.72 L131.3 348.48 L131.8 348.25 L132.3 348.02 L132.8 347.81 L133.3 347.6 L133.83 347.38 L134.36 347.14 L134.89 346.9 L135.42 346.65 L135.95 346.4 L136.48 346.17 L137.02 345.94 L137.55 345.74 L138.08 345.56 L138.61 345.41 L139.14 345.3 L139.67 345.23 L140.2 345.2 L140.72 345.2 L141.24 345.21 L141.76 345.23 L142.28 345.25 L142.8 345.29 L143.32 345.35 L143.84 345.43 L144.36 345.53 L144.88 345.65 L145.4 345.8 L145.93 345.98 L146.46 346.18 L146.99 346.41 L147.52 346.65 L148.05 346.91 L148.58 347.18 L149.12 347.47 L149.65 347.77 L150.18 348.08 L150.71 348.4 L151.24 348.73 L151.77 349.06 L152.3 349.4 L152.83 349.75 L153.36 350.13 L153.89 350.53 L154.42 350.94 L154.95 351.36 L155.48 351.79 L156.02 352.22 L156.55 352.65 L157.08 353.07 L157.61 353.48 L158.14 353.88 L158.67 354.25 L159.2 354.6 L159.73 354.93 L160.26 355.26 L160.79 355.59 L161.32 355.9 L161.85 356.21 L162.38 356.51 L162.92 356.79 L163.45 357.06 L163.98 357.31 L164.51 357.54 L165.04 357.75 L165.57 357.94 L166.1 358.1 L166.62 358.24 L167.14 358.36 L167.66 358.48 L168.18 358.57 L168.7 358.66 L169.22 358.73 L169.74 358.8 L170.26 358.85 L170.78 358.9 L171.3 358.94 L171.82 358.97 L172.34 358.99 L172.86 359.01 L173.38 359.03 L173.9 359.04 L174.42 359.06 L174.94 359.07 L175.46 359.08 L175.98 359.09 L176.5 359.1 L177.01 359.11 L177.52 359.12 L178.03 359.13 L178.54 359.14 L179.05 359.15 L179.55 359.16 L180.06 359.16 L180.57 359.17 L181.08 359.17 L181.59 359.18 L182.1 359.18 L182.61 359.18 L183.12 359.19 L183.63 359.19 L184.14 359.19 L184.65 359.19 L185.15 359.19 L185.66 359.19 L186.17 359.19 L186.68 359.2 L187.19 359.2 L187.7 359.2 L187.7 359.2 L187.19 359.2 L186.68 359.2 L186.17 359.21 L185.66 359.21 L185.15 359.21 L184.65 359.21 L184.14 359.21 L183.63 359.21 L183.12 359.21 L182.61 359.22 L182.1 359.22 L181.59 359.22 L181.08 359.23 L180.57 359.23 L180.06 359.24 L179.55 359.24 L179.05 359.25 L178.54 359.26 L178.03 359.27 L177.52 359.28 L177.01 359.29 L176.5 359.3 L175.98 359.31 L175.46 359.32 L174.94 359.33 L174.42 359.34 L173.9 359.36 L173.38 359.37 L172.86 359.39 L172.34 359.41 L171.82 359.43 L171.3 359.46 L170.78 359.5 L170.26 359.55 L169.74 359.6 L169.22 359.67 L168.7 359.74 L168.18 359.83 L167.66 359.92 L167.14 360.04 L166.62 360.16 L166.1 360.3 L165.57 360.46 L165.04 360.65 L164.51 360.86 L163.98 361.09 L163.45 361.34 L162.92 361.61 L162.38 361.89 L161.85 362.19 L161.32 362.5 L160.79 362.81 L160.26 363.14 L159.73 363.47 L159.2 363.8 L158.67 364.15 L158.14 364.52 L157.61 364.92 L157.08 365.33 L156.55 365.75 L156.02 366.18 L155.48 366.61 L154.95 367.04 L154.42 367.46 L153.89 367.87 L153.36 368.27 L152.83 368.65 L152.3 369 L151.77 369.34 L151.24 369.67 L150.71 370 L150.18 370.32 L149.65 370.63 L149.12 370.93 L148.58 371.22 L148.05 371.49 L147.52 371.75 L146.99 371.99 L146.46 372.22 L145.93 372.42 L145.4 372.6 L144.88 372.75 L144.36 372.87 L143.84 372.97 L143.32 373.05 L142.8 373.11 L142.28 373.15 L141.76 373.17 L141.24 373.19 L140.72 373.2 L140.2 373.2 L139.67 373.17 L139.14 373.1 L138.61 372.99 L138.08 372.84 L137.55 372.66 L137.02 372.46 L136.48 372.23 L135.95 372 L135.42 371.75 L134.89 371.5 L134.36 371.26 L133.83 371.02 L133.3 370.8 L132.8 370.59 L132.3 370.38 L131.8 370.15 L131.3 369.92 L130.8 369.68 L130.3 369.44 L129.8 369.2 L129.3 368.95 L128.8 368.71 L128.3 368.48 L127.8 368.24 L127.3 368.02 L126.8 367.8 L126.3 367.6 L125.79 367.4 L125.29 367.21 L124.78 367.02 L124.28 366.84 L123.77 366.66 L123.26 366.49 L122.76 366.32 L122.25 366.15 L121.75 365.98 L121.24 365.82 L120.74 365.66 L120.23 365.5 L119.72 365.34 L119.22 365.18 L118.71 365.02 L118.21 364.86 L117.7 364.7 L117.19 364.54 L116.68 364.38 L116.16 364.22 L115.65 364.06 L115.14 363.91 L114.63 363.75 L114.12 363.6 L113.61 363.45 L113.09 363.3 L112.58 363.15 L112.07 363 L111.56 362.85 L111.05 362.7 L110.54 362.55 L110.02 362.4 L109.51 362.25 L109 362.1 L108.49 361.95 L107.99 361.78 L107.48 361.61 L106.98 361.43 L106.47 361.25 L105.96 361.07 L105.46 360.89 L104.95 360.71 L104.45 360.54 L103.94 360.38 L103.44 360.22 L102.93 360.08 L102.42 359.94 L101.92 359.83 L101.41 359.73 L100.91 359.66 L100.4 359.6 L99.88 359.56 L99.36 359.52 L98.84 359.49 L98.32 359.46 L97.8 359.43 L97.28 359.41 L96.76 359.39 L96.24 359.37 L95.72 359.36 L95.2 359.35 L94.68 359.34 L94.16 359.33 L93.64 359.33 L93.12 359.32 L92.6 359.32 L92.08 359.31 L91.56 359.31 L91.04 359.31 L90.52 359.3 L90 359.3 L89.5 359.3 L89 359.29 L88.5 359.29 L88 359.28 L87.5 359.28 L87 359.28 L86.5 359.27 L86 359.27 L85.5 359.27 L85 359.26 L84.5 359.26 L84 359.26 L83.5 359.25 L83 359.25 L82.5 359.25 L82 359.24 L81.5 359.24 L81 359.24 L80.5 359.24 L80 359.23 L79.5 359.23 L79 359.23 L78.5 359.23 L78 359.22 L77.5 359.22 L77 359.22 L76.5 359.22 L76 359.21 L75.5 359.21 L75 359.21 L74.5 359.21 L74 359.2 L73.5 359.2 Z" fill="none" stroke="#25468a" stroke-width="1.25" stroke-linejoin="round"/>
<rect x="132.7" y="355.5" width="7.3" height="7.8" fill="#2f5ca6" stroke="#0d0d0d" stroke-width="1"/>
<line x1="136.35" y1="355.5" x2="136.35" y2="363.3" stroke="#0d0d0d" stroke-width="1"/>
<text transform="translate(31.06,364.3) scale(0.91,1)" font-size="8.6" fill="#111" stroke="#111" stroke-width="0.2"><tspan font-style="italic">BCL2</tspan><tspan font-size="5.8" dy="-2.9">Gain+</tspan></text>
<text transform="translate(198.8,345.83) rotate(90) scale(0.9548,1)" font-size="7.8" stroke="#111" stroke-width="0.12" fill="#111">&lt;0.0001</text>
<path d="M73 403 L73.5 402.99 L74 402.99 L74.5 402.98 L75 402.98 L75.5 402.97 L76 402.97 L76.5 402.96 L77 402.96 L77.5 402.95 L78 402.94 L78.5 402.93 L79 402.92 L79.5 402.91 L80 402.9 L80.5 402.88 L81 402.86 L81.5 402.83 L82 402.81 L82.5 402.77 L83 402.74 L83.5 402.7 L84.02 402.65 L84.53 402.58 L85.05 402.5 L85.56 402.4 L86.08 402.29 L86.59 402.17 L87.11 402.04 L87.62 401.9 L88.14 401.76 L88.65 401.61 L89.16 401.46 L89.68 401.3 L90.19 401.14 L90.71 400.98 L91.22 400.82 L91.74 400.67 L92.25 400.52 L92.77 400.37 L93.28 400.23 L93.8 400.1 L94.31 399.98 L94.82 399.86 L95.34 399.75 L95.85 399.64 L96.36 399.53 L96.87 399.43 L97.38 399.33 L97.89 399.22 L98.41 399.11 L98.92 399 L99.43 398.88 L99.94 398.76 L100.45 398.63 L100.96 398.49 L101.48 398.34 L101.99 398.17 L102.5 398 L103.01 397.81 L103.51 397.61 L104.02 397.4 L104.52 397.17 L105.03 396.94 L105.54 396.7 L106.04 396.45 L106.55 396.2 L107.05 395.94 L107.56 395.69 L108.06 395.43 L108.57 395.18 L109.08 394.93 L109.58 394.68 L110.09 394.45 L110.59 394.22 L111.1 394 L111.6 393.8 L112.1 393.6 L112.6 393.42 L113.1 393.24 L113.6 393.06 L114.1 392.89 L114.6 392.72 L115.1 392.55 L115.6 392.38 L116.1 392.2 L116.6 392.01 L117.1 391.82 L117.6 391.62 L118.1 391.4 L118.6 391.17 L119.1 390.93 L119.6 390.67 L120.1 390.41 L120.6 390.14 L121.1 389.87 L121.6 389.6 L122.1 389.33 L122.6 389.06 L123.1 388.8 L123.6 388.54 L124.1 388.3 L124.6 388.04 L125.1 387.76 L125.6 387.48 L126.1 387.22 L126.6 387 L127.1 386.85 L127.6 386.8 L128.14 386.85 L128.68 386.98 L129.21 387.19 L129.75 387.45 L130.29 387.75 L130.82 388.09 L131.36 388.44 L131.9 388.8 L132.42 389.16 L132.94 389.55 L133.46 389.98 L133.98 390.42 L134.5 390.88 L135.02 391.35 L135.54 391.82 L136.06 392.29 L136.58 392.76 L137.1 393.2 L137.62 393.64 L138.14 394.09 L138.66 394.55 L139.18 395.01 L139.7 395.46 L140.22 395.91 L140.74 396.34 L141.26 396.75 L141.78 397.14 L142.3 397.5 L142.83 397.84 L143.36 398.17 L143.89 398.48 L144.42 398.78 L144.95 399.07 L145.48 399.34 L146.02 399.59 L146.55 399.84 L147.08 400.07 L147.61 400.3 L148.14 400.51 L148.67 400.71 L149.2 400.9 L149.71 401.07 L150.22 401.24 L150.74 401.4 L151.25 401.55 L151.76 401.69 L152.27 401.82 L152.78 401.94 L153.29 402.05 L153.81 402.16 L154.32 402.25 L154.83 402.34 L155.34 402.42 L155.85 402.5 L156.36 402.56 L156.88 402.61 L157.39 402.66 L157.9 402.7 L158.41 402.73 L158.91 402.76 L159.42 402.78 L159.92 402.8 L160.43 402.82 L160.94 402.83 L161.44 402.84 L161.95 402.85 L162.45 402.86 L162.96 402.87 L163.46 402.87 L163.97 402.87 L164.48 402.88 L164.98 402.88 L165.49 402.89 L165.99 402.89 L166.5 402.9 L167 402.91 L167.5 402.92 L168 402.94 L168.5 402.95 L169 402.97 L169.5 402.98 L170 403 L170 403 L169.5 403.02 L169 403.03 L168.5 403.05 L168 403.06 L167.5 403.08 L167 403.09 L166.5 403.1 L165.99 403.11 L165.49 403.11 L164.98 403.12 L164.48 403.12 L163.97 403.13 L163.46 403.13 L162.96 403.13 L162.45 403.14 L161.95 403.15 L161.44 403.16 L160.94 403.17 L160.43 403.18 L159.92 403.2 L159.42 403.22 L158.91 403.24 L158.41 403.27 L157.9 403.3 L157.39 403.34 L156.88 403.39 L156.36 403.44 L155.85 403.5 L155.34 403.58 L154.83 403.66 L154.32 403.75 L153.81 403.84 L153.29 403.95 L152.78 404.06 L152.27 404.18 L151.76 404.31 L151.25 404.45 L150.74 404.6 L150.22 404.76 L149.71 404.93 L149.2 405.1 L148.67 405.29 L148.14 405.49 L147.61 405.7 L147.08 405.93 L146.55 406.16 L146.02 406.41 L145.48 406.66 L144.95 406.93 L144.42 407.22 L143.89 407.52 L143.36 407.83 L142.83 408.16 L142.3 408.5 L141.78 408.86 L141.26 409.25 L140.74 409.66 L140.22 410.09 L139.7 410.54 L139.18 410.99 L138.66 411.45 L138.14 411.91 L137.62 412.36 L137.1 412.8 L136.58 413.24 L136.06 413.71 L135.54 414.18 L135.02 414.65 L134.5 415.12 L133.98 415.58 L133.46 416.02 L132.94 416.45 L132.42 416.84 L131.9 417.2 L131.36 417.56 L130.82 417.91 L130.29 418.25 L129.75 418.55 L129.21 418.81 L128.68 419.02 L128.14 419.15 L127.6 419.2 L127.1 419.15 L126.6 419 L126.1 418.78 L125.6 418.52 L125.1 418.24 L124.6 417.96 L124.1 417.7 L123.6 417.46 L123.1 417.2 L122.6 416.94 L122.1 416.67 L121.6 416.4 L121.1 416.13 L120.6 415.86 L120.1 415.59 L119.6 415.33 L119.1 415.07 L118.6 414.83 L118.1 414.6 L117.6 414.38 L117.1 414.18 L116.6 413.99 L116.1 413.8 L115.6 413.62 L115.1 413.45 L114.6 413.28 L114.1 413.11 L113.6 412.94 L113.1 412.76 L112.6 412.58 L112.1 412.4 L111.6 412.2 L111.1 412 L110.59 411.78 L110.09 411.55 L109.58 411.32 L109.08 411.07 L108.57 410.82 L108.06 410.57 L107.56 410.31 L107.05 410.06 L106.55 409.8 L106.04 409.55 L105.54 409.3 L105.03 409.06 L104.52 408.83 L104.02 408.6 L103.51 408.39 L103.01 408.19 L102.5 408 L101.99 407.83 L101.48 407.66 L100.96 407.51 L100.45 407.37 L99.94 407.24 L99.43 407.12 L98.92 407 L98.41 406.89 L97.89 406.78 L97.38 406.67 L96.87 406.57 L96.36 406.47 L95.85 406.36 L95.34 406.25 L94.82 406.14 L94.31 406.02 L93.8 405.9 L93.28 405.77 L92.77 405.63 L92.25 405.48 L91.74 405.33 L91.22 405.18 L90.71 405.02 L90.19 404.86 L89.68 404.7 L89.16 404.54 L88.65 404.39 L88.14 404.24 L87.62 404.1 L87.11 403.96 L86.59 403.83 L86.08 403.71 L85.56 403.6 L85.05 403.5 L84.53 403.42 L84.02 403.35 L83.5 403.3 L83 403.26 L82.5 403.23 L82 403.19 L81.5 403.17 L81 403.14 L80.5 403.12 L80 403.1 L79.5 403.09 L79 403.08 L78.5 403.07 L78 403.06 L77.5 403.05 L77 403.04 L76.5 403.04 L76 403.03 L75.5 403.03 L75 403.02 L74.5 403.02 L74 403.01 L73.5 403.01 L73 403 Z" fill="#e4efe9" stroke="none"/>
<g fill="#3e7a5c" fill-opacity="0.78"><circle cx="114.38" cy="400.94" r="1.4"/><circle cx="137.44" cy="393.83" r="1.4"/><circle cx="135.24" cy="396.43" r="1.4"/><circle cx="114.42" cy="403" r="1.4"/><circle cx="121.53" cy="403.37" r="1.4"/><circle cx="120.52" cy="400.95" r="1.4"/><circle cx="133.6" cy="402.15" r="1.4"/><circle cx="133.8" cy="413.04" r="1.4"/><circle cx="110.08" cy="401.67" r="1.4"/><circle cx="122.56" cy="409.34" r="1.4"/><circle cx="133.14" cy="395.11" r="1.4"/><circle cx="138.89" cy="392.89" r="1.4"/><circle cx="142.34" cy="404.48" r="1.4"/><circle cx="121.38" cy="401.78" r="1.4"/><circle cx="114.88" cy="397.05" r="1.4"/><circle cx="128.79" cy="412.59" r="1.4"/><circle cx="121.77" cy="398.81" r="1.4"/><circle cx="121.86" cy="413.02" r="1.4"/><circle cx="106.03" cy="397.64" r="1.4"/><circle cx="115.69" cy="400.14" r="1.4"/><circle cx="105.37" cy="404.19" r="1.4"/><circle cx="128.57" cy="402.17" r="1.4"/><circle cx="124.41" cy="403.11" r="1.4"/><circle cx="110.44" cy="408.24" r="1.4"/><circle cx="130.27" cy="405.08" r="1.4"/><circle cx="122.34" cy="402.04" r="1.4"/><circle cx="136.67" cy="405.47" r="1.4"/><circle cx="121.37" cy="407.16" r="1.4"/><circle cx="127.59" cy="395.51" r="1.4"/><circle cx="112.51" cy="406.16" r="1.4"/><circle cx="85.36" cy="409.53" r="1.4"/><circle cx="124.28" cy="411.73" r="1.4"/><circle cx="108.49" cy="409.01" r="1.4"/><circle cx="134.55" cy="406.61" r="1.4"/><circle cx="120.97" cy="402.04" r="1.4"/><circle cx="157.38" cy="400.08" r="1.4"/><circle cx="126.18" cy="407.94" r="1.4"/><circle cx="129.78" cy="394.11" r="1.4"/><circle cx="114.01" cy="400.93" r="1.4"/><circle cx="118.56" cy="392.79" r="1.4"/><circle cx="121.48" cy="407.54" r="1.4"/><circle cx="108.39" cy="402.54" r="1.4"/><circle cx="125.97" cy="412.98" r="1.4"/><circle cx="113.07" cy="397.13" r="1.4"/><circle cx="110.97" cy="395.92" r="1.4"/><circle cx="132.13" cy="407.8" r="1.4"/><circle cx="109.25" cy="398.32" r="1.4"/><circle cx="115.33" cy="410.32" r="1.4"/><circle cx="119.71" cy="396.24" r="1.4"/><circle cx="131.82" cy="397.17" r="1.4"/><circle cx="104.73" cy="397.45" r="1.4"/><circle cx="110.74" cy="395.83" r="1.4"/><circle cx="115.88" cy="402.43" r="1.4"/><circle cx="127.68" cy="407.24" r="1.4"/><circle cx="131.81" cy="410.29" r="1.4"/><circle cx="125.77" cy="396.85" r="1.4"/><circle cx="117.27" cy="392.43" r="1.4"/><circle cx="144.31" cy="396.57" r="1.4"/><circle cx="104.4" cy="392.62" r="1.4"/><circle cx="139.12" cy="398.86" r="1.4"/><circle cx="117.48" cy="412.72" r="1.4"/><circle cx="125.13" cy="409.46" r="1.4"/><circle cx="92.37" cy="393.73" r="1.4"/><circle cx="120.7" cy="393.98" r="1.4"/><circle cx="133.42" cy="403.56" r="1.4"/><circle cx="123.31" cy="411.27" r="1.4"/><circle cx="126.97" cy="401.24" r="1.4"/><circle cx="128.95" cy="402.24" r="1.4"/><circle cx="135.45" cy="409.01" r="1.4"/><circle cx="126.87" cy="397.24" r="1.4"/><circle cx="108.48" cy="406.07" r="1.4"/><circle cx="106.38" cy="395.69" r="1.4"/><circle cx="130.44" cy="394.6" r="1.4"/><circle cx="125.18" cy="403.1" r="1.4"/><circle cx="155.66" cy="405.42" r="1.4"/><circle cx="118.96" cy="412.69" r="1.4"/><circle cx="129.49" cy="392.83" r="1.4"/><circle cx="133.1" cy="407.65" r="1.4"/><circle cx="139.56" cy="408.37" r="1.4"/><circle cx="141.04" cy="413.2" r="1.4"/><circle cx="113.21" cy="393.75" r="1.4"/><circle cx="125.32" cy="412.79" r="1.4"/><circle cx="147.67" cy="411.43" r="1.4"/><circle cx="128.29" cy="398.77" r="1.4"/><circle cx="117.77" cy="411.05" r="1.4"/><circle cx="149.38" cy="404.52" r="1.4"/><circle cx="139.95" cy="397.27" r="1.4"/><circle cx="131.05" cy="401.67" r="1.4"/><circle cx="128.49" cy="406.32" r="1.4"/><circle cx="109.05" cy="406.25" r="1.4"/><circle cx="149.58" cy="396.32" r="1.4"/><circle cx="121.87" cy="406.91" r="1.4"/><circle cx="120.79" cy="401.33" r="1.4"/><circle cx="125.73" cy="403.85" r="1.4"/><circle cx="134.13" cy="394.23" r="1.4"/><circle cx="122.5" cy="406.43" r="1.4"/><circle cx="116.02" cy="407.45" r="1.4"/><circle cx="118.02" cy="397.44" r="1.4"/><circle cx="138.15" cy="401.01" r="1.4"/><circle cx="100.57" cy="399.7" r="1.4"/><circle cx="104.13" cy="397.89" r="1.4"/><circle cx="115.66" cy="399.56" r="1.4"/><circle cx="145.04" cy="412.17" r="1.4"/><circle cx="149.37" cy="396.04" r="1.4"/><circle cx="132.71" cy="401.44" r="1.4"/><circle cx="115.77" cy="407.01" r="1.4"/><circle cx="130.7" cy="396.43" r="1.4"/><circle cx="145.6" cy="400.46" r="1.4"/><circle cx="129.8" cy="398.04" r="1.4"/><circle cx="132.49" cy="397.34" r="1.4"/><circle cx="128.33" cy="401.23" r="1.4"/><circle cx="113.69" cy="410.26" r="1.4"/><circle cx="131.98" cy="409.48" r="1.4"/><circle cx="123.27" cy="404.62" r="1.4"/><circle cx="113.78" cy="393.93" r="1.4"/><circle cx="156.2" cy="411.19" r="1.4"/><circle cx="118.82" cy="394.3" r="1.4"/><circle cx="109.35" cy="405.95" r="1.4"/><circle cx="123.85" cy="397.03" r="1.4"/><circle cx="120.39" cy="401.59" r="1.4"/><circle cx="86.86" cy="411.25" r="1.4"/><circle cx="130.03" cy="393.89" r="1.4"/><circle cx="119.14" cy="395.4" r="1.4"/><circle cx="122.39" cy="397.07" r="1.4"/><circle cx="104.46" cy="393.3" r="1.4"/><circle cx="137.08" cy="398.81" r="1.4"/><circle cx="114.2" cy="407.81" r="1.4"/><circle cx="148.15" cy="404.57" r="1.4"/><circle cx="105.54" cy="403.04" r="1.4"/><circle cx="122.22" cy="392.94" r="1.4"/><circle cx="133.97" cy="400.89" r="1.4"/><circle cx="145.56" cy="396.53" r="1.4"/><circle cx="131.17" cy="398.6" r="1.4"/><circle cx="115.12" cy="396.31" r="1.4"/><circle cx="111.39" cy="413.05" r="1.4"/><circle cx="112.42" cy="406.72" r="1.4"/><circle cx="134.93" cy="401.26" r="1.4"/><circle cx="127.37" cy="400.52" r="1.4"/><circle cx="137.27" cy="398.69" r="1.4"/><circle cx="138.99" cy="396.08" r="1.4"/><circle cx="102.53" cy="412.91" r="1.4"/><circle cx="135.94" cy="392.85" r="1.4"/><circle cx="142.67" cy="408.48" r="1.4"/><circle cx="121.15" cy="412.34" r="1.4"/><circle cx="110.82" cy="394.59" r="1.4"/><circle cx="98.43" cy="407.68" r="1.4"/><circle cx="112.72" cy="408.72" r="1.4"/><circle cx="127.07" cy="397.81" r="1.4"/></g>
<path d="M73 403 L73.5 402.99 L74 402.99 L74.5 402.98 L75 402.98 L75.5 402.97 L76 402.97 L76.5 402.96 L77 402.96 L77.5 402.95 L78 402.94 L78.5 402.93 L79 402.92 L79.5 402.91 L80 402.9 L80.5 402.88 L81 402.86 L81.5 402.83 L82 402.81 L82.5 402.77 L83 402.74 L83.5 402.7 L84.02 402.65 L84.53 402.58 L85.05 402.5 L85.56 402.4 L86.08 402.29 L86.59 402.17 L87.11 402.04 L87.62 401.9 L88.14 401.76 L88.65 401.61 L89.16 401.46 L89.68 401.3 L90.19 401.14 L90.71 400.98 L91.22 400.82 L91.74 400.67 L92.25 400.52 L92.77 400.37 L93.28 400.23 L93.8 400.1 L94.31 399.98 L94.82 399.86 L95.34 399.75 L95.85 399.64 L96.36 399.53 L96.87 399.43 L97.38 399.33 L97.89 399.22 L98.41 399.11 L98.92 399 L99.43 398.88 L99.94 398.76 L100.45 398.63 L100.96 398.49 L101.48 398.34 L101.99 398.17 L102.5 398 L103.01 397.81 L103.51 397.61 L104.02 397.4 L104.52 397.17 L105.03 396.94 L105.54 396.7 L106.04 396.45 L106.55 396.2 L107.05 395.94 L107.56 395.69 L108.06 395.43 L108.57 395.18 L109.08 394.93 L109.58 394.68 L110.09 394.45 L110.59 394.22 L111.1 394 L111.6 393.8 L112.1 393.6 L112.6 393.42 L113.1 393.24 L113.6 393.06 L114.1 392.89 L114.6 392.72 L115.1 392.55 L115.6 392.38 L116.1 392.2 L116.6 392.01 L117.1 391.82 L117.6 391.62 L118.1 391.4 L118.6 391.17 L119.1 390.93 L119.6 390.67 L120.1 390.41 L120.6 390.14 L121.1 389.87 L121.6 389.6 L122.1 389.33 L122.6 389.06 L123.1 388.8 L123.6 388.54 L124.1 388.3 L124.6 388.04 L125.1 387.76 L125.6 387.48 L126.1 387.22 L126.6 387 L127.1 386.85 L127.6 386.8 L128.14 386.85 L128.68 386.98 L129.21 387.19 L129.75 387.45 L130.29 387.75 L130.82 388.09 L131.36 388.44 L131.9 388.8 L132.42 389.16 L132.94 389.55 L133.46 389.98 L133.98 390.42 L134.5 390.88 L135.02 391.35 L135.54 391.82 L136.06 392.29 L136.58 392.76 L137.1 393.2 L137.62 393.64 L138.14 394.09 L138.66 394.55 L139.18 395.01 L139.7 395.46 L140.22 395.91 L140.74 396.34 L141.26 396.75 L141.78 397.14 L142.3 397.5 L142.83 397.84 L143.36 398.17 L143.89 398.48 L144.42 398.78 L144.95 399.07 L145.48 399.34 L146.02 399.59 L146.55 399.84 L147.08 400.07 L147.61 400.3 L148.14 400.51 L148.67 400.71 L149.2 400.9 L149.71 401.07 L150.22 401.24 L150.74 401.4 L151.25 401.55 L151.76 401.69 L152.27 401.82 L152.78 401.94 L153.29 402.05 L153.81 402.16 L154.32 402.25 L154.83 402.34 L155.34 402.42 L155.85 402.5 L156.36 402.56 L156.88 402.61 L157.39 402.66 L157.9 402.7 L158.41 402.73 L158.91 402.76 L159.42 402.78 L159.92 402.8 L160.43 402.82 L160.94 402.83 L161.44 402.84 L161.95 402.85 L162.45 402.86 L162.96 402.87 L163.46 402.87 L163.97 402.87 L164.48 402.88 L164.98 402.88 L165.49 402.89 L165.99 402.89 L166.5 402.9 L167 402.91 L167.5 402.92 L168 402.94 L168.5 402.95 L169 402.97 L169.5 402.98 L170 403 L170 403 L169.5 403.02 L169 403.03 L168.5 403.05 L168 403.06 L167.5 403.08 L167 403.09 L166.5 403.1 L165.99 403.11 L165.49 403.11 L164.98 403.12 L164.48 403.12 L163.97 403.13 L163.46 403.13 L162.96 403.13 L162.45 403.14 L161.95 403.15 L161.44 403.16 L160.94 403.17 L160.43 403.18 L159.92 403.2 L159.42 403.22 L158.91 403.24 L158.41 403.27 L157.9 403.3 L157.39 403.34 L156.88 403.39 L156.36 403.44 L155.85 403.5 L155.34 403.58 L154.83 403.66 L154.32 403.75 L153.81 403.84 L153.29 403.95 L152.78 404.06 L152.27 404.18 L151.76 404.31 L151.25 404.45 L150.74 404.6 L150.22 404.76 L149.71 404.93 L149.2 405.1 L148.67 405.29 L148.14 405.49 L147.61 405.7 L147.08 405.93 L146.55 406.16 L146.02 406.41 L145.48 406.66 L144.95 406.93 L144.42 407.22 L143.89 407.52 L143.36 407.83 L142.83 408.16 L142.3 408.5 L141.78 408.86 L141.26 409.25 L140.74 409.66 L140.22 410.09 L139.7 410.54 L139.18 410.99 L138.66 411.45 L138.14 411.91 L137.62 412.36 L137.1 412.8 L136.58 413.24 L136.06 413.71 L135.54 414.18 L135.02 414.65 L134.5 415.12 L133.98 415.58 L133.46 416.02 L132.94 416.45 L132.42 416.84 L131.9 417.2 L131.36 417.56 L130.82 417.91 L130.29 418.25 L129.75 418.55 L129.21 418.81 L128.68 419.02 L128.14 419.15 L127.6 419.2 L127.1 419.15 L126.6 419 L126.1 418.78 L125.6 418.52 L125.1 418.24 L124.6 417.96 L124.1 417.7 L123.6 417.46 L123.1 417.2 L122.6 416.94 L122.1 416.67 L121.6 416.4 L121.1 416.13 L120.6 415.86 L120.1 415.59 L119.6 415.33 L119.1 415.07 L118.6 414.83 L118.1 414.6 L117.6 414.38 L117.1 414.18 L116.6 413.99 L116.1 413.8 L115.6 413.62 L115.1 413.45 L114.6 413.28 L114.1 413.11 L113.6 412.94 L113.1 412.76 L112.6 412.58 L112.1 412.4 L111.6 412.2 L111.1 412 L110.59 411.78 L110.09 411.55 L109.58 411.32 L109.08 411.07 L108.57 410.82 L108.06 410.57 L107.56 410.31 L107.05 410.06 L106.55 409.8 L106.04 409.55 L105.54 409.3 L105.03 409.06 L104.52 408.83 L104.02 408.6 L103.51 408.39 L103.01 408.19 L102.5 408 L101.99 407.83 L101.48 407.66 L100.96 407.51 L100.45 407.37 L99.94 407.24 L99.43 407.12 L98.92 407 L98.41 406.89 L97.89 406.78 L97.38 406.67 L96.87 406.57 L96.36 406.47 L95.85 406.36 L95.34 406.25 L94.82 406.14 L94.31 406.02 L93.8 405.9 L93.28 405.77 L92.77 405.63 L92.25 405.48 L91.74 405.33 L91.22 405.18 L90.71 405.02 L90.19 404.86 L89.68 404.7 L89.16 404.54 L88.65 404.39 L88.14 404.24 L87.62 404.1 L87.11 403.96 L86.59 403.83 L86.08 403.71 L85.56 403.6 L85.05 403.5 L84.53 403.42 L84.02 403.35 L83.5 403.3 L83 403.26 L82.5 403.23 L82 403.19 L81.5 403.17 L81 403.14 L80.5 403.12 L80 403.1 L79.5 403.09 L79 403.08 L78.5 403.07 L78 403.06 L77.5 403.05 L77 403.04 L76.5 403.04 L76 403.03 L75.5 403.03 L75 403.02 L74.5 403.02 L74 403.01 L73.5 403.01 L73 403 Z" fill="none" stroke="#275f44" stroke-width="1.25" stroke-linejoin="round"/>
<rect x="121.2" y="399.4" width="4.1" height="8.5" fill="#2f6a4d" stroke="#0d0d0d" stroke-width="1"/>
<line x1="123.25" y1="399.4" x2="123.25" y2="407.9" stroke="#0d0d0d" stroke-width="1"/>
<text transform="translate(34.23,408.1) scale(0.91,1)" font-size="8.6" fill="#111" stroke="#111" stroke-width="0.2"><tspan font-style="italic">BCL2</tspan><tspan font-size="5.8" dy="-2.9">Gain</tspan></text>
<text transform="translate(198.8,389.63) rotate(90) scale(0.9548,1)" font-size="7.8" stroke="#111" stroke-width="0.12" fill="#111">&lt;0.0001</text>
<path d="M71.3 447.2 L71.8 447.18 L72.3 447.17 L72.8 447.15 L73.3 447.14 L73.8 447.13 L74.3 447.12 L74.8 447.11 L75.3 447.1 L75.8 447.09 L76.3 447.08 L76.8 447.07 L77.3 447.05 L77.8 447.03 L78.3 447.01 L78.8 446.99 L79.3 446.97 L79.8 446.94 L80.3 446.9 L80.8 446.86 L81.3 446.82 L81.8 446.77 L82.3 446.71 L82.8 446.65 L83.3 446.58 L83.8 446.5 L84.31 446.41 L84.82 446.29 L85.34 446.15 L85.85 446 L86.36 445.82 L86.87 445.63 L87.38 445.43 L87.89 445.22 L88.41 444.99 L88.92 444.76 L89.43 444.52 L89.94 444.27 L90.45 444.02 L90.96 443.76 L91.48 443.51 L91.99 443.25 L92.5 443 L93.03 442.73 L93.56 442.46 L94.09 442.17 L94.62 441.87 L95.15 441.56 L95.68 441.25 L96.22 440.94 L96.75 440.62 L97.28 440.29 L97.81 439.97 L98.34 439.64 L98.87 439.32 L99.4 439 L99.93 438.67 L100.46 438.34 L100.99 437.99 L101.52 437.64 L102.05 437.29 L102.58 436.94 L103.12 436.59 L103.65 436.24 L104.18 435.9 L104.71 435.58 L105.24 435.27 L105.77 434.97 L106.3 434.7 L106.8 434.46 L107.3 434.22 L107.8 434 L108.3 433.78 L108.8 433.58 L109.3 433.38 L109.8 433.19 L110.3 433.01 L110.8 432.84 L111.3 432.68 L111.8 432.52 L112.3 432.37 L112.8 432.23 L113.3 432.1 L113.87 431.96 L114.43 431.84 L115 431.74 L115.57 431.66 L116.13 431.62 L116.7 431.6 L117.22 431.63 L117.74 431.7 L118.26 431.82 L118.78 431.97 L119.3 432.16 L119.82 432.36 L120.34 432.59 L120.86 432.82 L121.38 433.06 L121.9 433.3 L122.43 433.55 L122.96 433.81 L123.49 434.08 L124.02 434.36 L124.55 434.66 L125.08 434.96 L125.62 435.27 L126.15 435.59 L126.68 435.92 L127.21 436.26 L127.74 436.6 L128.27 436.95 L128.8 437.3 L129.33 437.67 L129.86 438.05 L130.39 438.46 L130.92 438.87 L131.45 439.3 L131.98 439.73 L132.52 440.15 L133.05 440.58 L133.58 441 L134.11 441.4 L134.64 441.79 L135.17 442.16 L135.7 442.5 L136.2 442.81 L136.7 443.11 L137.2 443.4 L137.7 443.68 L138.2 443.96 L138.7 444.22 L139.2 444.47 L139.7 444.72 L140.2 444.95 L140.7 445.17 L141.2 445.37 L141.7 445.56 L142.2 445.74 L142.7 445.9 L143.21 446.05 L143.71 446.18 L144.22 446.3 L144.72 446.41 L145.23 446.5 L145.74 446.58 L146.24 446.66 L146.75 446.72 L147.25 446.77 L147.76 446.82 L148.26 446.86 L148.77 446.89 L149.28 446.92 L149.78 446.95 L150.29 446.97 L150.79 446.98 L151.3 447 L151.81 447.01 L152.32 447.03 L152.82 447.04 L153.33 447.05 L153.84 447.07 L154.35 447.08 L154.85 447.09 L155.36 447.1 L155.87 447.1 L156.38 447.11 L156.88 447.12 L157.39 447.13 L157.9 447.13 L158.41 447.14 L158.92 447.14 L159.42 447.15 L159.93 447.15 L160.44 447.16 L160.95 447.16 L161.45 447.16 L161.96 447.17 L162.47 447.17 L162.98 447.17 L163.48 447.18 L163.99 447.18 L164.5 447.18 L165.01 447.18 L165.52 447.18 L166.02 447.18 L166.53 447.19 L167.04 447.19 L167.55 447.19 L168.05 447.19 L168.56 447.19 L169.07 447.19 L169.58 447.19 L170.08 447.2 L170.59 447.2 L171.1 447.2 L171.1 447.2 L170.59 447.2 L170.08 447.2 L169.58 447.21 L169.07 447.21 L168.56 447.21 L168.05 447.21 L167.55 447.21 L167.04 447.21 L166.53 447.21 L166.02 447.22 L165.52 447.22 L165.01 447.22 L164.5 447.22 L163.99 447.22 L163.48 447.22 L162.98 447.23 L162.47 447.23 L161.96 447.23 L161.45 447.24 L160.95 447.24 L160.44 447.24 L159.93 447.25 L159.42 447.25 L158.92 447.26 L158.41 447.26 L157.9 447.27 L157.39 447.27 L156.88 447.28 L156.38 447.29 L155.87 447.3 L155.36 447.3 L154.85 447.31 L154.35 447.32 L153.84 447.33 L153.33 447.35 L152.82 447.36 L152.32 447.37 L151.81 447.39 L151.3 447.4 L150.79 447.42 L150.29 447.43 L149.78 447.45 L149.28 447.48 L148.77 447.51 L148.26 447.54 L147.76 447.58 L147.25 447.63 L146.75 447.68 L146.24 447.74 L145.74 447.82 L145.23 447.9 L144.72 447.99 L144.22 448.1 L143.71 448.22 L143.21 448.35 L142.7 448.5 L142.2 448.66 L141.7 448.84 L141.2 449.03 L140.7 449.23 L140.2 449.45 L139.7 449.68 L139.2 449.93 L138.7 450.18 L138.2 450.44 L137.7 450.72 L137.2 451 L136.7 451.29 L136.2 451.59 L135.7 451.9 L135.17 452.24 L134.64 452.61 L134.11 453 L133.58 453.4 L133.05 453.82 L132.52 454.25 L131.98 454.67 L131.45 455.1 L130.92 455.53 L130.39 455.94 L129.86 456.35 L129.33 456.73 L128.8 457.1 L128.27 457.45 L127.74 457.8 L127.21 458.14 L126.68 458.48 L126.15 458.81 L125.62 459.13 L125.08 459.44 L124.55 459.74 L124.02 460.04 L123.49 460.32 L122.96 460.59 L122.43 460.85 L121.9 461.1 L121.38 461.34 L120.86 461.58 L120.34 461.81 L119.82 462.04 L119.3 462.24 L118.78 462.43 L118.26 462.58 L117.74 462.7 L117.22 462.77 L116.7 462.8 L116.13 462.78 L115.57 462.74 L115 462.66 L114.43 462.56 L113.87 462.44 L113.3 462.3 L112.8 462.17 L112.3 462.03 L111.8 461.88 L111.3 461.72 L110.8 461.56 L110.3 461.39 L109.8 461.21 L109.3 461.02 L108.8 460.82 L108.3 460.62 L107.8 460.4 L107.3 460.18 L106.8 459.94 L106.3 459.7 L105.77 459.43 L105.24 459.13 L104.71 458.82 L104.18 458.5 L103.65 458.16 L103.12 457.81 L102.58 457.46 L102.05 457.11 L101.52 456.76 L100.99 456.41 L100.46 456.06 L99.93 455.73 L99.4 455.4 L98.87 455.08 L98.34 454.76 L97.81 454.43 L97.28 454.11 L96.75 453.78 L96.22 453.46 L95.68 453.15 L95.15 452.84 L94.62 452.53 L94.09 452.23 L93.56 451.94 L93.03 451.67 L92.5 451.4 L91.99 451.15 L91.48 450.89 L90.96 450.64 L90.45 450.38 L89.94 450.13 L89.43 449.88 L88.92 449.64 L88.41 449.41 L87.89 449.18 L87.38 448.97 L86.87 448.77 L86.36 448.58 L85.85 448.4 L85.34 448.25 L84.82 448.11 L84.31 447.99 L83.8 447.9 L83.3 447.82 L82.8 447.75 L82.3 447.69 L81.8 447.63 L81.3 447.58 L80.8 447.54 L80.3 447.5 L79.8 447.46 L79.3 447.43 L78.8 447.41 L78.3 447.39 L77.8 447.37 L77.3 447.35 L76.8 447.33 L76.3 447.32 L75.8 447.31 L75.3 447.3 L74.8 447.29 L74.3 447.28 L73.8 447.27 L73.3 447.26 L72.8 447.25 L72.3 447.23 L71.8 447.22 L71.3 447.2 Z" fill="#efebe7" stroke="none"/>
<g fill="#785230" fill-opacity="0.82"><circle cx="123.85" cy="456.31" r="1.45"/><circle cx="116.5" cy="438.85" r="1.45"/><circle cx="108.34" cy="445.33" r="1.45"/><circle cx="101.84" cy="455.39" r="1.45"/><circle cx="113.12" cy="437.3" r="1.45"/><circle cx="102.52" cy="441.68" r="1.45"/><circle cx="119.46" cy="451.01" r="1.45"/><circle cx="131.97" cy="455.72" r="1.45"/><circle cx="148.98" cy="448.96" r="1.45"/><circle cx="112.68" cy="455.18" r="1.45"/><circle cx="132.54" cy="439.39" r="1.45"/><circle cx="116.02" cy="447.03" r="1.45"/><circle cx="121.2" cy="441.13" r="1.45"/><circle cx="133.54" cy="448.59" r="1.45"/><circle cx="126.3" cy="442.79" r="1.45"/><circle cx="105.44" cy="437.5" r="1.45"/><circle cx="126.56" cy="450.54" r="1.45"/><circle cx="122.66" cy="444.12" r="1.45"/><circle cx="89.54" cy="445.62" r="1.45"/><circle cx="89.94" cy="438.7" r="1.45"/><circle cx="111.15" cy="449.83" r="1.45"/><circle cx="109.63" cy="446.38" r="1.45"/><circle cx="109.75" cy="440.63" r="1.45"/><circle cx="116.8" cy="450.42" r="1.45"/><circle cx="119.04" cy="443.14" r="1.45"/><circle cx="125.52" cy="449.09" r="1.45"/><circle cx="115.72" cy="455.97" r="1.45"/><circle cx="91.83" cy="442.83" r="1.45"/><circle cx="116.55" cy="456.45" r="1.45"/><circle cx="121.7" cy="437.29" r="1.45"/><circle cx="136.25" cy="438.97" r="1.45"/><circle cx="103.15" cy="456.7" r="1.45"/><circle cx="107.43" cy="452.37" r="1.45"/><circle cx="136.86" cy="454.16" r="1.45"/><circle cx="132.55" cy="447.61" r="1.45"/><circle cx="102.85" cy="442.28" r="1.45"/><circle cx="122.57" cy="443" r="1.45"/><circle cx="98.33" cy="438.43" r="1.45"/><circle cx="117.2" cy="438.81" r="1.45"/><circle cx="116.23" cy="457.46" r="1.45"/><circle cx="107" cy="454.44" r="1.45"/><circle cx="104.49" cy="453.94" r="1.45"/><circle cx="136.93" cy="442.51" r="1.45"/><circle cx="126.15" cy="454.94" r="1.45"/><circle cx="119.98" cy="454.5" r="1.45"/><circle cx="126.82" cy="457.65" r="1.45"/><circle cx="99.99" cy="444.58" r="1.45"/><circle cx="100.41" cy="441.36" r="1.45"/><circle cx="104.12" cy="450.51" r="1.45"/><circle cx="120.47" cy="453.83" r="1.45"/><circle cx="100.01" cy="450.74" r="1.45"/><circle cx="123.58" cy="455.15" r="1.45"/><circle cx="102.79" cy="454.91" r="1.45"/><circle cx="128.83" cy="447.78" r="1.45"/><circle cx="124.67" cy="439.12" r="1.45"/><circle cx="116" cy="457.52" r="1.45"/><circle cx="93.15" cy="455.26" r="1.45"/><circle cx="124.59" cy="455.03" r="1.45"/><circle cx="130.49" cy="442.46" r="1.45"/><circle cx="106.98" cy="452.09" r="1.45"/><circle cx="123.47" cy="439.48" r="1.45"/><circle cx="122.97" cy="454.09" r="1.45"/><circle cx="118.74" cy="441.99" r="1.45"/><circle cx="121.32" cy="443.99" r="1.45"/><circle cx="113.46" cy="448.3" r="1.45"/><circle cx="127.77" cy="438.78" r="1.45"/><circle cx="123.52" cy="442.25" r="1.45"/><circle cx="116.19" cy="456.5" r="1.45"/><circle cx="102.68" cy="447.01" r="1.45"/><circle cx="117.49" cy="456.74" r="1.45"/><circle cx="111.75" cy="447.8" r="1.45"/><circle cx="95.99" cy="438.69" r="1.45"/><circle cx="112.14" cy="454.2" r="1.45"/><circle cx="123.03" cy="439.68" r="1.45"/><circle cx="129.51" cy="439.24" r="1.45"/><circle cx="106.29" cy="449.56" r="1.45"/><circle cx="132.6" cy="449.91" r="1.45"/><circle cx="130.63" cy="449.93" r="1.45"/><circle cx="100.99" cy="449.02" r="1.45"/><circle cx="113.79" cy="451.52" r="1.45"/><circle cx="138.93" cy="441.1" r="1.45"/><circle cx="117.42" cy="452.98" r="1.45"/><circle cx="119.65" cy="449.42" r="1.45"/><circle cx="106.51" cy="443.42" r="1.45"/><circle cx="109.65" cy="441.82" r="1.45"/><circle cx="119.75" cy="451.89" r="1.45"/><circle cx="106.66" cy="446.47" r="1.45"/><circle cx="115.55" cy="454.59" r="1.45"/><circle cx="116.82" cy="452.25" r="1.45"/><circle cx="106.28" cy="449.59" r="1.45"/><circle cx="122.32" cy="442.56" r="1.45"/><circle cx="124.12" cy="436.97" r="1.45"/><circle cx="113.76" cy="450.28" r="1.45"/><circle cx="120.58" cy="455.57" r="1.45"/><circle cx="114.45" cy="456.11" r="1.45"/><circle cx="128.64" cy="442.94" r="1.45"/><circle cx="126.6" cy="454.04" r="1.45"/><circle cx="102.12" cy="452.99" r="1.45"/><circle cx="116.86" cy="448.6" r="1.45"/><circle cx="104.08" cy="445.76" r="1.45"/><circle cx="108.64" cy="444.98" r="1.45"/><circle cx="110.83" cy="444.95" r="1.45"/><circle cx="115.27" cy="451.06" r="1.45"/><circle cx="112.1" cy="446.18" r="1.45"/><circle cx="113.33" cy="453.85" r="1.45"/><circle cx="117.83" cy="447.89" r="1.45"/><circle cx="140.35" cy="455.42" r="1.45"/><circle cx="116.7" cy="454.26" r="1.45"/><circle cx="114.7" cy="437.16" r="1.45"/><circle cx="131.84" cy="453.1" r="1.45"/><circle cx="113.08" cy="441.85" r="1.45"/><circle cx="119.13" cy="444.56" r="1.45"/><circle cx="107.88" cy="442.21" r="1.45"/><circle cx="118.32" cy="440.5" r="1.45"/><circle cx="116.1" cy="448.69" r="1.45"/><circle cx="108.31" cy="449.04" r="1.45"/><circle cx="90.96" cy="445.33" r="1.45"/><circle cx="94.3" cy="443.17" r="1.45"/><circle cx="144.29" cy="450.87" r="1.45"/><circle cx="113.04" cy="445.36" r="1.45"/><circle cx="114.79" cy="439.64" r="1.45"/><circle cx="120.51" cy="451.57" r="1.45"/><circle cx="105.82" cy="455.99" r="1.45"/><circle cx="117.87" cy="447.18" r="1.45"/><circle cx="139.02" cy="451.09" r="1.45"/><circle cx="126.64" cy="442.22" r="1.45"/><circle cx="114.88" cy="442.92" r="1.45"/><circle cx="129.65" cy="437.66" r="1.45"/><circle cx="96.59" cy="457.13" r="1.45"/><circle cx="108.45" cy="453.69" r="1.45"/><circle cx="124.8" cy="438.2" r="1.45"/><circle cx="140.76" cy="447.82" r="1.45"/><circle cx="116.83" cy="441.46" r="1.45"/><circle cx="94.43" cy="446.91" r="1.45"/><circle cx="103.21" cy="443.79" r="1.45"/><circle cx="101.97" cy="446.27" r="1.45"/><circle cx="112.69" cy="447.83" r="1.45"/><circle cx="126.78" cy="447.63" r="1.45"/><circle cx="105.83" cy="439.42" r="1.45"/><circle cx="105.49" cy="451.09" r="1.45"/><circle cx="136.9" cy="451.33" r="1.45"/><circle cx="103.06" cy="447.68" r="1.45"/><circle cx="130.15" cy="445.76" r="1.45"/><circle cx="112.6" cy="453.58" r="1.45"/><circle cx="117.55" cy="449.36" r="1.45"/><circle cx="106.67" cy="448.84" r="1.45"/><circle cx="120.29" cy="452.02" r="1.45"/><circle cx="93.77" cy="440.84" r="1.45"/><circle cx="121.61" cy="443.88" r="1.45"/><circle cx="118.09" cy="449.3" r="1.45"/><circle cx="122.31" cy="448.95" r="1.45"/><circle cx="108.6" cy="451.13" r="1.45"/><circle cx="96.45" cy="437.02" r="1.45"/><circle cx="120.34" cy="440.14" r="1.45"/><circle cx="110.28" cy="443.86" r="1.45"/><circle cx="87.49" cy="442.28" r="1.45"/><circle cx="131.36" cy="440.86" r="1.45"/><circle cx="105.32" cy="445.53" r="1.45"/><circle cx="122.3" cy="441.21" r="1.45"/><circle cx="101.79" cy="448.46" r="1.45"/><circle cx="114.79" cy="451.24" r="1.45"/><circle cx="108.42" cy="442.54" r="1.45"/><circle cx="116.36" cy="448.13" r="1.45"/><circle cx="102.98" cy="437.17" r="1.45"/><circle cx="112.1" cy="454.16" r="1.45"/><circle cx="123.24" cy="445.28" r="1.45"/><circle cx="122.13" cy="436.68" r="1.45"/><circle cx="123.23" cy="449.91" r="1.45"/><circle cx="125.56" cy="457.02" r="1.45"/><circle cx="113.5" cy="439.75" r="1.45"/><circle cx="109.94" cy="437.37" r="1.45"/><circle cx="102.53" cy="447.04" r="1.45"/><circle cx="117.27" cy="438.43" r="1.45"/><circle cx="97.88" cy="451.37" r="1.45"/><circle cx="100.26" cy="452.29" r="1.45"/><circle cx="90.12" cy="454.3" r="1.45"/><circle cx="103.92" cy="452.56" r="1.45"/><circle cx="107.52" cy="446.32" r="1.45"/><circle cx="100.1" cy="455.98" r="1.45"/><circle cx="124.6" cy="439.74" r="1.45"/><circle cx="117.76" cy="437.57" r="1.45"/><circle cx="123.37" cy="445.1" r="1.45"/><circle cx="121.03" cy="452.92" r="1.45"/><circle cx="112.08" cy="439.75" r="1.45"/><circle cx="125.45" cy="442.94" r="1.45"/><circle cx="121.74" cy="451.5" r="1.45"/><circle cx="120.88" cy="437.44" r="1.45"/><circle cx="133.21" cy="452.68" r="1.45"/><circle cx="120.65" cy="443.68" r="1.45"/><circle cx="132.63" cy="441.74" r="1.45"/><circle cx="124.13" cy="451.18" r="1.45"/><circle cx="115.38" cy="447.92" r="1.45"/><circle cx="112.03" cy="437.29" r="1.45"/><circle cx="103.27" cy="441.66" r="1.45"/><circle cx="101.35" cy="452.65" r="1.45"/><circle cx="117.91" cy="444.72" r="1.45"/><circle cx="107.93" cy="453.47" r="1.45"/><circle cx="117.5" cy="450.28" r="1.45"/><circle cx="123.08" cy="453.24" r="1.45"/><circle cx="126.37" cy="445.88" r="1.45"/><circle cx="110.46" cy="442.88" r="1.45"/><circle cx="130.18" cy="454.37" r="1.45"/><circle cx="118.18" cy="453.85" r="1.45"/><circle cx="116.97" cy="439.15" r="1.45"/><circle cx="137.08" cy="440.97" r="1.45"/><circle cx="106.35" cy="443.95" r="1.45"/><circle cx="128.09" cy="439.59" r="1.45"/><circle cx="118.86" cy="448.53" r="1.45"/><circle cx="118.77" cy="436.74" r="1.45"/><circle cx="114.49" cy="437.26" r="1.45"/><circle cx="122.32" cy="438.43" r="1.45"/><circle cx="109.57" cy="455.34" r="1.45"/><circle cx="117.71" cy="452.7" r="1.45"/><circle cx="113" cy="453.01" r="1.45"/><circle cx="99.31" cy="456.73" r="1.45"/><circle cx="137.74" cy="443.08" r="1.45"/><circle cx="128.02" cy="441" r="1.45"/><circle cx="118.91" cy="448.23" r="1.45"/><circle cx="109.4" cy="452.71" r="1.45"/><circle cx="107.93" cy="439.67" r="1.45"/><circle cx="107.73" cy="439.96" r="1.45"/><circle cx="127.06" cy="442.21" r="1.45"/><circle cx="127.29" cy="445.12" r="1.45"/><circle cx="117.68" cy="439.2" r="1.45"/><circle cx="120.17" cy="456.87" r="1.45"/><circle cx="105.53" cy="447.09" r="1.45"/><circle cx="115.17" cy="453.07" r="1.45"/><circle cx="120.12" cy="454.33" r="1.45"/><circle cx="122.68" cy="456.41" r="1.45"/><circle cx="130.72" cy="442.18" r="1.45"/><circle cx="128.34" cy="449.89" r="1.45"/><circle cx="99.82" cy="437.28" r="1.45"/><circle cx="128.01" cy="446.98" r="1.45"/><circle cx="139.74" cy="448.2" r="1.45"/><circle cx="116.83" cy="457.08" r="1.45"/><circle cx="115.69" cy="447.73" r="1.45"/><circle cx="100.32" cy="453.19" r="1.45"/><circle cx="118.11" cy="447.88" r="1.45"/><circle cx="110.11" cy="441.23" r="1.45"/><circle cx="98.3" cy="439.81" r="1.45"/><circle cx="101.07" cy="449.23" r="1.45"/><circle cx="117.78" cy="448.57" r="1.45"/><circle cx="106.56" cy="451.73" r="1.45"/><circle cx="124.89" cy="443.94" r="1.45"/><circle cx="111.2" cy="437.76" r="1.45"/><circle cx="122.9" cy="449.51" r="1.45"/><circle cx="98.14" cy="446.21" r="1.45"/><circle cx="122.04" cy="448.38" r="1.45"/><circle cx="110.09" cy="452.88" r="1.45"/><circle cx="126.31" cy="453.45" r="1.45"/><circle cx="123.86" cy="448.49" r="1.45"/><circle cx="127.37" cy="442.39" r="1.45"/><circle cx="98.69" cy="445.5" r="1.45"/><circle cx="115.57" cy="442.66" r="1.45"/><circle cx="124.29" cy="443.05" r="1.45"/><circle cx="101.57" cy="448.47" r="1.45"/><circle cx="125.81" cy="457.69" r="1.45"/><circle cx="110.55" cy="448.03" r="1.45"/><circle cx="117.18" cy="451.39" r="1.45"/><circle cx="115.38" cy="457.15" r="1.45"/><circle cx="121.14" cy="455.42" r="1.45"/><circle cx="128.15" cy="451.99" r="1.45"/><circle cx="107.33" cy="456.8" r="1.45"/><circle cx="127.26" cy="440.97" r="1.45"/><circle cx="114.13" cy="446.27" r="1.45"/><circle cx="111.42" cy="457.05" r="1.45"/><circle cx="104.58" cy="436.78" r="1.45"/><circle cx="111.51" cy="452.33" r="1.45"/><circle cx="109.15" cy="455.76" r="1.45"/><circle cx="130.5" cy="451.95" r="1.45"/><circle cx="111.54" cy="455.28" r="1.45"/><circle cx="124.52" cy="440" r="1.45"/><circle cx="127.7" cy="454.93" r="1.45"/><circle cx="117.24" cy="449.99" r="1.45"/><circle cx="91.21" cy="448.37" r="1.45"/><circle cx="105.18" cy="442.83" r="1.45"/><circle cx="87.07" cy="443.6" r="1.45"/><circle cx="130.01" cy="455.3" r="1.45"/><circle cx="106.65" cy="451.45" r="1.45"/><circle cx="119.28" cy="448.91" r="1.45"/><circle cx="134.24" cy="447.11" r="1.45"/><circle cx="126.96" cy="440.69" r="1.45"/><circle cx="99.6" cy="448.04" r="1.45"/><circle cx="137.71" cy="455.26" r="1.45"/><circle cx="108.11" cy="440.71" r="1.45"/><circle cx="119.75" cy="445.87" r="1.45"/><circle cx="112.05" cy="452.92" r="1.45"/><circle cx="109.95" cy="445.23" r="1.45"/><circle cx="103.25" cy="453.18" r="1.45"/><circle cx="105.37" cy="444" r="1.45"/><circle cx="107.79" cy="436.81" r="1.45"/><circle cx="108.8" cy="455.67" r="1.45"/><circle cx="119.16" cy="448.98" r="1.45"/><circle cx="114.3" cy="450.14" r="1.45"/><circle cx="114.56" cy="442.68" r="1.45"/><circle cx="108.74" cy="445.46" r="1.45"/><circle cx="128.37" cy="448.5" r="1.45"/><circle cx="111.35" cy="447.87" r="1.45"/><circle cx="107.95" cy="449.24" r="1.45"/><circle cx="89.61" cy="455.06" r="1.45"/><circle cx="121.34" cy="450.94" r="1.45"/><circle cx="115.03" cy="442.24" r="1.45"/><circle cx="126.32" cy="443.39" r="1.45"/><circle cx="105.5" cy="443.13" r="1.45"/><circle cx="123.48" cy="456.37" r="1.45"/><circle cx="141.79" cy="454.55" r="1.45"/><circle cx="114.67" cy="447.87" r="1.45"/><circle cx="107.67" cy="451.46" r="1.45"/><circle cx="125.27" cy="444.46" r="1.45"/><circle cx="119.36" cy="457.5" r="1.45"/></g>
<path d="M71.3 447.2 L71.8 447.18 L72.3 447.17 L72.8 447.15 L73.3 447.14 L73.8 447.13 L74.3 447.12 L74.8 447.11 L75.3 447.1 L75.8 447.09 L76.3 447.08 L76.8 447.07 L77.3 447.05 L77.8 447.03 L78.3 447.01 L78.8 446.99 L79.3 446.97 L79.8 446.94 L80.3 446.9 L80.8 446.86 L81.3 446.82 L81.8 446.77 L82.3 446.71 L82.8 446.65 L83.3 446.58 L83.8 446.5 L84.31 446.41 L84.82 446.29 L85.34 446.15 L85.85 446 L86.36 445.82 L86.87 445.63 L87.38 445.43 L87.89 445.22 L88.41 444.99 L88.92 444.76 L89.43 444.52 L89.94 444.27 L90.45 444.02 L90.96 443.76 L91.48 443.51 L91.99 443.25 L92.5 443 L93.03 442.73 L93.56 442.46 L94.09 442.17 L94.62 441.87 L95.15 441.56 L95.68 441.25 L96.22 440.94 L96.75 440.62 L97.28 440.29 L97.81 439.97 L98.34 439.64 L98.87 439.32 L99.4 439 L99.93 438.67 L100.46 438.34 L100.99 437.99 L101.52 437.64 L102.05 437.29 L102.58 436.94 L103.12 436.59 L103.65 436.24 L104.18 435.9 L104.71 435.58 L105.24 435.27 L105.77 434.97 L106.3 434.7 L106.8 434.46 L107.3 434.22 L107.8 434 L108.3 433.78 L108.8 433.58 L109.3 433.38 L109.8 433.19 L110.3 433.01 L110.8 432.84 L111.3 432.68 L111.8 432.52 L112.3 432.37 L112.8 432.23 L113.3 432.1 L113.87 431.96 L114.43 431.84 L115 431.74 L115.57 431.66 L116.13 431.62 L116.7 431.6 L117.22 431.63 L117.74 431.7 L118.26 431.82 L118.78 431.97 L119.3 432.16 L119.82 432.36 L120.34 432.59 L120.86 432.82 L121.38 433.06 L121.9 433.3 L122.43 433.55 L122.96 433.81 L123.49 434.08 L124.02 434.36 L124.55 434.66 L125.08 434.96 L125.62 435.27 L126.15 435.59 L126.68 435.92 L127.21 436.26 L127.74 436.6 L128.27 436.95 L128.8 437.3 L129.33 437.67 L129.86 438.05 L130.39 438.46 L130.92 438.87 L131.45 439.3 L131.98 439.73 L132.52 440.15 L133.05 440.58 L133.58 441 L134.11 441.4 L134.64 441.79 L135.17 442.16 L135.7 442.5 L136.2 442.81 L136.7 443.11 L137.2 443.4 L137.7 443.68 L138.2 443.96 L138.7 444.22 L139.2 444.47 L139.7 444.72 L140.2 444.95 L140.7 445.17 L141.2 445.37 L141.7 445.56 L142.2 445.74 L142.7 445.9 L143.21 446.05 L143.71 446.18 L144.22 446.3 L144.72 446.41 L145.23 446.5 L145.74 446.58 L146.24 446.66 L146.75 446.72 L147.25 446.77 L147.76 446.82 L148.26 446.86 L148.77 446.89 L149.28 446.92 L149.78 446.95 L150.29 446.97 L150.79 446.98 L151.3 447 L151.81 447.01 L152.32 447.03 L152.82 447.04 L153.33 447.05 L153.84 447.07 L154.35 447.08 L154.85 447.09 L155.36 447.1 L155.87 447.1 L156.38 447.11 L156.88 447.12 L157.39 447.13 L157.9 447.13 L158.41 447.14 L158.92 447.14 L159.42 447.15 L159.93 447.15 L160.44 447.16 L160.95 447.16 L161.45 447.16 L161.96 447.17 L162.47 447.17 L162.98 447.17 L163.48 447.18 L163.99 447.18 L164.5 447.18 L165.01 447.18 L165.52 447.18 L166.02 447.18 L166.53 447.19 L167.04 447.19 L167.55 447.19 L168.05 447.19 L168.56 447.19 L169.07 447.19 L169.58 447.19 L170.08 447.2 L170.59 447.2 L171.1 447.2 L171.1 447.2 L170.59 447.2 L170.08 447.2 L169.58 447.21 L169.07 447.21 L168.56 447.21 L168.05 447.21 L167.55 447.21 L167.04 447.21 L166.53 447.21 L166.02 447.22 L165.52 447.22 L165.01 447.22 L164.5 447.22 L163.99 447.22 L163.48 447.22 L162.98 447.23 L162.47 447.23 L161.96 447.23 L161.45 447.24 L160.95 447.24 L160.44 447.24 L159.93 447.25 L159.42 447.25 L158.92 447.26 L158.41 447.26 L157.9 447.27 L157.39 447.27 L156.88 447.28 L156.38 447.29 L155.87 447.3 L155.36 447.3 L154.85 447.31 L154.35 447.32 L153.84 447.33 L153.33 447.35 L152.82 447.36 L152.32 447.37 L151.81 447.39 L151.3 447.4 L150.79 447.42 L150.29 447.43 L149.78 447.45 L149.28 447.48 L148.77 447.51 L148.26 447.54 L147.76 447.58 L147.25 447.63 L146.75 447.68 L146.24 447.74 L145.74 447.82 L145.23 447.9 L144.72 447.99 L144.22 448.1 L143.71 448.22 L143.21 448.35 L142.7 448.5 L142.2 448.66 L141.7 448.84 L141.2 449.03 L140.7 449.23 L140.2 449.45 L139.7 449.68 L139.2 449.93 L138.7 450.18 L138.2 450.44 L137.7 450.72 L137.2 451 L136.7 451.29 L136.2 451.59 L135.7 451.9 L135.17 452.24 L134.64 452.61 L134.11 453 L133.58 453.4 L133.05 453.82 L132.52 454.25 L131.98 454.67 L131.45 455.1 L130.92 455.53 L130.39 455.94 L129.86 456.35 L129.33 456.73 L128.8 457.1 L128.27 457.45 L127.74 457.8 L127.21 458.14 L126.68 458.48 L126.15 458.81 L125.62 459.13 L125.08 459.44 L124.55 459.74 L124.02 460.04 L123.49 460.32 L122.96 460.59 L122.43 460.85 L121.9 461.1 L121.38 461.34 L120.86 461.58 L120.34 461.81 L119.82 462.04 L119.3 462.24 L118.78 462.43 L118.26 462.58 L117.74 462.7 L117.22 462.77 L116.7 462.8 L116.13 462.78 L115.57 462.74 L115 462.66 L114.43 462.56 L113.87 462.44 L113.3 462.3 L112.8 462.17 L112.3 462.03 L111.8 461.88 L111.3 461.72 L110.8 461.56 L110.3 461.39 L109.8 461.21 L109.3 461.02 L108.8 460.82 L108.3 460.62 L107.8 460.4 L107.3 460.18 L106.8 459.94 L106.3 459.7 L105.77 459.43 L105.24 459.13 L104.71 458.82 L104.18 458.5 L103.65 458.16 L103.12 457.81 L102.58 457.46 L102.05 457.11 L101.52 456.76 L100.99 456.41 L100.46 456.06 L99.93 455.73 L99.4 455.4 L98.87 455.08 L98.34 454.76 L97.81 454.43 L97.28 454.11 L96.75 453.78 L96.22 453.46 L95.68 453.15 L95.15 452.84 L94.62 452.53 L94.09 452.23 L93.56 451.94 L93.03 451.67 L92.5 451.4 L91.99 451.15 L91.48 450.89 L90.96 450.64 L90.45 450.38 L89.94 450.13 L89.43 449.88 L88.92 449.64 L88.41 449.41 L87.89 449.18 L87.38 448.97 L86.87 448.77 L86.36 448.58 L85.85 448.4 L85.34 448.25 L84.82 448.11 L84.31 447.99 L83.8 447.9 L83.3 447.82 L82.8 447.75 L82.3 447.69 L81.8 447.63 L81.3 447.58 L80.8 447.54 L80.3 447.5 L79.8 447.46 L79.3 447.43 L78.8 447.41 L78.3 447.39 L77.8 447.37 L77.3 447.35 L76.8 447.33 L76.3 447.32 L75.8 447.31 L75.3 447.3 L74.8 447.29 L74.3 447.28 L73.8 447.27 L73.3 447.26 L72.8 447.25 L72.3 447.23 L71.8 447.22 L71.3 447.2 Z" fill="none" stroke="#673f1b" stroke-width="1.25" stroke-linejoin="round"/>
<rect x="115.4" y="443.3" width="2" height="8.1" fill="#5a3a1a" stroke="#0d0d0d" stroke-width="1"/>
<line x1="116.4" y1="443.3" x2="116.4" y2="451.4" stroke="#0d0d0d" stroke-width="1"/>
<text transform="translate(28.37,452.3) scale(0.91,1)" font-size="8.6" fill="#111" stroke="#111" stroke-width="0.2"><tspan font-style="italic">BCL2</tspan><tspan font-size="5.8" dy="-2.9">Normal</tspan></text>
<line x1="71.5" y1="477.9" x2="205.5" y2="477.9" stroke="#111" stroke-width="1.2"/>
<line x1="90.6" y1="477.9" x2="90.6" y2="480.9" stroke="#111" stroke-width="1"/>
<text transform="translate(88.58,491) scale(0.8700,1)" font-size="8.3" stroke="#111" stroke-width="0.25" fill="#111">8</text>
<line x1="109.8" y1="477.9" x2="109.8" y2="480.9" stroke="#111" stroke-width="1"/>
<text transform="translate(105.65,491) scale(0.8700,1)" font-size="8.3" stroke="#111" stroke-width="0.25" fill="#111">10</text>
<line x1="129" y1="477.9" x2="129" y2="480.9" stroke="#111" stroke-width="1"/>
<text transform="translate(124.9,491) scale(0.8700,1)" font-size="8.3" stroke="#111" stroke-width="0.25" fill="#111">12</text>
<line x1="148.2" y1="477.9" x2="148.2" y2="480.9" stroke="#111" stroke-width="1"/>
<text transform="translate(144.03,491) scale(0.8700,1)" font-size="8.3" stroke="#111" stroke-width="0.25" fill="#111">14</text>
<line x1="167.4" y1="477.9" x2="167.4" y2="480.9" stroke="#111" stroke-width="1"/>
<text transform="translate(163.27,491) scale(0.8700,1)" font-size="8.3" stroke="#111" stroke-width="0.25" fill="#111">16</text>
<line x1="186.6" y1="477.9" x2="186.6" y2="480.9" stroke="#111" stroke-width="1"/>
<text transform="translate(182.47,491) scale(0.8700,1)" font-size="8.3" stroke="#111" stroke-width="0.25" fill="#111">18</text>
<text transform="translate(106.43,504) scale(0.8647,1)" font-size="8.3" stroke="#111" stroke-width="0.25" fill="#111">Log2 (<tspan font-style="italic">BCL2</tspan> mRNA)</text>
<rect x="260.7" y="290.6" width="37.68" height="14.7" fill="#fff" stroke="#7b5795" stroke-width="1"/>
<rect x="262" y="291.7" width="35.28" height="12.5" fill="#ebebeb"/>
<text transform="translate(234.39,300.7) scale(0.9009,1)" font-size="8.5" stroke="#111" stroke-width="0.25" fill="#111">POS</text>
<text transform="translate(300.68,291.6) rotate(90) scale(0.9000,1)" font-size="8.3" stroke="#111" stroke-width="0.15" fill="#111">186</text>
<rect x="260.7" y="310.4" width="3.35" height="14.7" fill="#4b4646" stroke="#7b5795" stroke-width="1"/>
<text transform="translate(233.96,320.5) scale(0.9400,1)" font-size="8.5" stroke="#111" stroke-width="0.25" fill="#111">NEG</text>
<text transform="translate(266.35,313.51) rotate(90) scale(0.9000,1)" font-size="8.3" stroke="#111" stroke-width="0.15" fill="#111">17</text>
<rect x="260.7" y="340.1" width="10.46" height="14.7" fill="#fff" stroke="#3a5a9a" stroke-width="1"/>
<rect x="262" y="341.2" width="8.06" height="12.5" fill="#ebebeb"/>
<text transform="translate(234.39,350.2) scale(0.9009,1)" font-size="8.5" stroke="#111" stroke-width="0.25" fill="#111">POS</text>
<text transform="translate(273.46,343.34) rotate(90) scale(0.9000,1)" font-size="8.3" stroke="#111" stroke-width="0.15" fill="#111">52</text>
<rect x="260.7" y="359.9" width="0.71" height="14.7" fill="#22407c" stroke="#3a5a9a" stroke-width="1"/>
<text transform="translate(233.96,370) scale(0.9400,1)" font-size="8.5" stroke="#111" stroke-width="0.25" fill="#111">NEG</text>
<text transform="translate(263.71,365.21) rotate(90) scale(0.9000,1)" font-size="8.3" stroke="#111" stroke-width="0.15" fill="#111">4</text>
<rect x="260.7" y="389.6" width="24.48" height="14.7" fill="#fff" stroke="#5b8e76" stroke-width="1"/>
<rect x="262" y="390.7" width="22.08" height="12.5" fill="#ebebeb"/>
<text transform="translate(234.39,399.7) scale(0.9009,1)" font-size="8.5" stroke="#111" stroke-width="0.25" fill="#111">POS</text>
<text transform="translate(287.48,390.62) rotate(90) scale(0.9000,1)" font-size="8.3" stroke="#111" stroke-width="0.15" fill="#111">121</text>
<rect x="260.7" y="409.4" width="5.38" height="14.7" fill="#4b4646" stroke="#5b8e76" stroke-width="1"/>
<text transform="translate(233.96,419.5) scale(0.9400,1)" font-size="8.5" stroke="#111" stroke-width="0.25" fill="#111">NEG</text>
<text transform="translate(268.38,412.6) rotate(90) scale(0.9000,1)" font-size="8.3" stroke="#111" stroke-width="0.15" fill="#111">27</text>
<rect x="260.7" y="439.1" width="35.85" height="14.7" fill="#fff" stroke="#8a6a4c" stroke-width="1"/>
<rect x="262" y="440.2" width="33.45" height="12.5" fill="#ebebeb"/>
<text transform="translate(234.39,449.2) scale(0.9009,1)" font-size="8.5" stroke="#111" stroke-width="0.25" fill="#111">POS</text>
<text transform="translate(298.85,440.14) rotate(90) scale(0.9000,1)" font-size="8.3" stroke="#111" stroke-width="0.15" fill="#111">177</text>
<rect x="260.7" y="458.9" width="26.91" height="14.7" fill="#4b4646" stroke="#8a6a4c" stroke-width="1"/>
<text transform="translate(233.96,469) scale(0.9400,1)" font-size="8.5" stroke="#111" stroke-width="0.25" fill="#111">NEG</text>
<text transform="translate(289.91,459.9) rotate(90) scale(0.9000,1)" font-size="8.3" stroke="#111" stroke-width="0.15" fill="#111">133</text>
<line x1="258" y1="477.9" x2="324.3" y2="477.9" stroke="#111" stroke-width="1.2"/>
<line x1="260.8" y1="477.9" x2="260.8" y2="480.9" stroke="#111" stroke-width="1"/>
<text transform="translate(258.78,491) scale(0.8700,1)" font-size="8.3" stroke="#111" stroke-width="0.25" fill="#111">0</text>
<line x1="281.47" y1="477.9" x2="281.47" y2="480.9" stroke="#111" stroke-width="1"/>
<text transform="translate(275.31,491) scale(0.8700,1)" font-size="8.3" stroke="#111" stroke-width="0.25" fill="#111">100</text>
<line x1="302.13" y1="477.9" x2="302.13" y2="480.9" stroke="#111" stroke-width="1"/>
<text transform="translate(296.07,491) scale(0.8700,1)" font-size="8.3" stroke="#111" stroke-width="0.25" fill="#111">200</text>
<line x1="322.8" y1="477.9" x2="322.8" y2="480.9" stroke="#111" stroke-width="1"/>
<text transform="translate(316.77,491) scale(0.8700,1)" font-size="8.3" stroke="#111" stroke-width="0.25" fill="#111">300</text>
<text transform="translate(262.62,504) scale(0.8768,1)" font-size="8.3" stroke="#111" stroke-width="0.25" fill="#111">BCL2 IHC (count)</text>
<line x1="352" y1="291" x2="505.6" y2="291" stroke="#111" stroke-width="1.1"/>
<line x1="352.5" y1="290.5" x2="352.5" y2="477.9" stroke="#111" stroke-width="1.1" stroke-dasharray="4.3 4.85"/>
<path d="M375.32 313.2 H390.9 M375.32 310.7 V315.7 M390.9 310.7 V315.7" stroke="#111" stroke-width="1.15" fill="none"/>
<path d="M383.11 309.25 L387.51 313.2 L383.11 317.15 L378.71 313.2 Z" fill="#55266c" stroke="#0a0a0a" stroke-width="1.2" stroke-linejoin="miter"/>
<text transform="translate(411.53,316.1) scale(1.0170,1)" font-size="8" stroke="#222" stroke-width="0.22" fill="#222">8.2 (4.8&#8211;14)</text>
<text transform="translate(469.62,316.1) scale(1.0450,1)" font-size="8" font-weight="bold" stroke="#000" stroke-width="0.3" fill="#000">&lt;0.0001</text>
<path d="M370.3 358.9 H400.98 M370.3 356.4 V361.4 M400.98 356.4 V361.4" stroke="#111" stroke-width="1.15" fill="none"/>
<path d="M385.71 354.95 L390.11 358.9 L385.71 362.85 L381.31 358.9 Z" fill="#2c5496" stroke="#0a0a0a" stroke-width="1.2" stroke-linejoin="miter"/>
<text transform="translate(411.53,361.8) scale(1.0170,1)" font-size="8" stroke="#222" stroke-width="0.22" fill="#222">9.8 (3.4&#8211;28)</text>
<text transform="translate(469.62,361.8) scale(1.0450,1)" font-size="8" font-weight="bold" stroke="#000" stroke-width="0.3" fill="#000">&lt;0.0001</text>
<path d="M363.29 404.8 H377.04 M363.29 402.3 V407.3 M377.04 402.3 V407.3" stroke="#111" stroke-width="1.15" fill="none"/>
<path d="M370.3 400.85 L374.7 404.8 L370.3 408.75 L365.9 404.8 Z" fill="#3a785c" stroke="#0a0a0a" stroke-width="1.2" stroke-linejoin="miter"/>
<text transform="translate(410.42,407.7) scale(1.0170,1)" font-size="8" stroke="#222" stroke-width="0.22" fill="#222">3.4 (2.1&#8211;5.4)</text>
<text transform="translate(469.62,407.7) scale(1.0450,1)" font-size="8" font-weight="bold" stroke="#000" stroke-width="0.3" fill="#000">&lt;0.0001</text>
<path d="M352.5 445.65 L356.9 449.6 L352.5 453.55 L348.1 449.6 Z" fill="#6a441f" stroke="#0a0a0a" stroke-width="1.2" stroke-linejoin="miter"/>
<text transform="translate(420.46,452.5) scale(1.0170,1)" font-size="8" stroke="#222" stroke-width="0.22" fill="#222">1 (1&#8211;1)</text>
<text transform="translate(482.02,452.5) scale(1.0170,1)" font-size="8" stroke="#222" stroke-width="0.22" fill="#222">1</text>
<line x1="343" y1="477.9" x2="409.4" y2="477.9" stroke="#111" stroke-width="1.2"/>
<line x1="352.5" y1="475.4" x2="352.5" y2="480.9" stroke="#111" stroke-width="1"/>
<text transform="translate(350.48,491) scale(0.8700,1)" font-size="8.3" stroke="#111" stroke-width="0.25" fill="#111">0</text>
<line x1="369.25" y1="475.4" x2="369.25" y2="480.9" stroke="#111" stroke-width="1"/>
<text transform="translate(364.23,491) scale(0.8700,1)" font-size="8.3" stroke="#111" stroke-width="0.25" fill="#111">0.5</text>
<line x1="386" y1="475.4" x2="386" y2="480.9" stroke="#111" stroke-width="1"/>
<text transform="translate(383.89,491) scale(0.8700,1)" font-size="8.3" stroke="#111" stroke-width="0.25" fill="#111">1</text>
<line x1="402.75" y1="475.4" x2="402.75" y2="480.9" stroke="#111" stroke-width="1"/>
<text transform="translate(397.61,491) scale(0.8700,1)" font-size="8.3" stroke="#111" stroke-width="0.25" fill="#111">1.5</text>
<text transform="translate(345.59,504) scale(0.9140,1)" font-size="8.3" stroke="#111" stroke-width="0.25" fill="#111">Log10 (odds ratio)</text></svg>
</body></html>
